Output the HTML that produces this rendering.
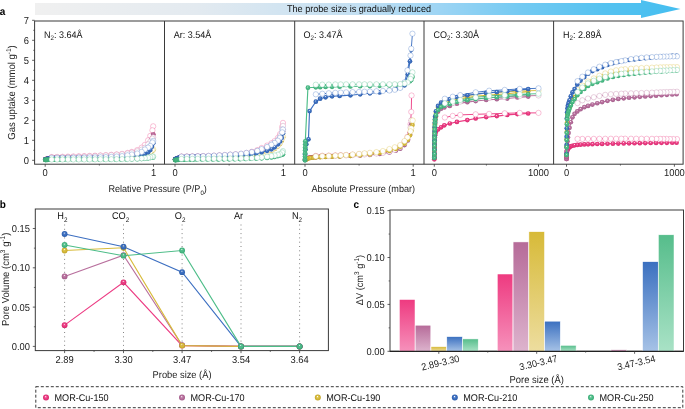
<!DOCTYPE html>
<html><head><meta charset="utf-8"><style>
html,body{margin:0;padding:0;background:#fff;width:685px;height:409px;overflow:hidden}
svg{display:block;filter:blur(0.3px)}
text{font-family:"Liberation Sans",sans-serif;text-rendering:geometricPrecision}
</style></head><body>
<svg width="685" height="409" viewBox="0 0 685 409"><defs><linearGradient id="arrowg" x1="35" y1="0" x2="681" y2="0" gradientUnits="userSpaceOnUse"><stop offset="0" stop-color="#f0f0f0"/><stop offset="0.25" stop-color="#e3eaf0"/><stop offset="0.5" stop-color="#c2dff2"/><stop offset="0.62" stop-color="#9fd5f4"/><stop offset="0.75" stop-color="#74caf2"/><stop offset="0.88" stop-color="#55c2f0"/><stop offset="1" stop-color="#44bef0"/></linearGradient><radialGradient id="sp_pink" cx="0.5" cy="0.5" r="0.5" fx="0.45" fy="0.32"><stop offset="0" stop-color="#ffffff"/><stop offset="0.3" stop-color="#ec3b83" stop-opacity="0.85"/><stop offset="0.55" stop-color="#ec3b83"/><stop offset="1" stop-color="#d42a6c"/></radialGradient><radialGradient id="sp_mauve" cx="0.5" cy="0.5" r="0.5" fx="0.45" fy="0.32"><stop offset="0" stop-color="#ffffff"/><stop offset="0.3" stop-color="#b86f9d" stop-opacity="0.85"/><stop offset="0.55" stop-color="#b86f9d"/><stop offset="1" stop-color="#a05a88"/></radialGradient><radialGradient id="sp_yellow" cx="0.5" cy="0.5" r="0.5" fx="0.45" fy="0.32"><stop offset="0" stop-color="#ffffff"/><stop offset="0.3" stop-color="#d8bb3a" stop-opacity="0.85"/><stop offset="0.55" stop-color="#d8bb3a"/><stop offset="1" stop-color="#c0a42a"/></radialGradient><radialGradient id="sp_blue" cx="0.5" cy="0.5" r="0.5" fx="0.45" fy="0.32"><stop offset="0" stop-color="#ffffff"/><stop offset="0.3" stop-color="#3c6fc1" stop-opacity="0.85"/><stop offset="0.55" stop-color="#3c6fc1"/><stop offset="1" stop-color="#2c5ca8"/></radialGradient><radialGradient id="sp_green" cx="0.5" cy="0.5" r="0.5" fx="0.45" fy="0.32"><stop offset="0" stop-color="#ffffff"/><stop offset="0.3" stop-color="#4dbd88" stop-opacity="0.85"/><stop offset="0.55" stop-color="#4dbd88"/><stop offset="1" stop-color="#3aa874"/></radialGradient><linearGradient id="bar_pink" x1="0" y1="0" x2="0" y2="1"><stop offset="0" stop-color="#ee3a80"/><stop offset="1" stop-color="#f691bb"/></linearGradient><linearGradient id="bar_mauve" x1="0" y1="0" x2="0" y2="1"><stop offset="0" stop-color="#b66b99"/><stop offset="1" stop-color="#ddb3cd"/></linearGradient><linearGradient id="bar_yellow" x1="0" y1="0" x2="0" y2="1"><stop offset="0" stop-color="#d7ba38"/><stop offset="1" stop-color="#eddd9f"/></linearGradient><linearGradient id="bar_blue" x1="0" y1="0" x2="0" y2="1"><stop offset="0" stop-color="#3b70c0"/><stop offset="1" stop-color="#a6c2e6"/></linearGradient><linearGradient id="bar_green" x1="0" y1="0" x2="0" y2="1"><stop offset="0" stop-color="#56bd8b"/><stop offset="1" stop-color="#a9e2c6"/></linearGradient></defs>
<rect x="0" y="0" width="685" height="409" fill="#fff"/>
<polygon points="35,3 641,3 641,0 680.5,9 641,18 641,15 35,15" fill="url(#arrowg)"/>
<text x="359" y="12.3" transform="translate(0,12.3) scale(1,1.07) translate(0,-12.3)" font-size="9.1" text-anchor="middle" font-family="Liberation Sans, sans-serif" fill="#111">The probe size is gradually reduced</text>
<text x="-0.2" y="14.6" transform="translate(0,14.6) scale(1,1.07) translate(0,-14.6)" font-size="10" font-weight="bold" font-family="Liberation Sans, sans-serif" fill="#000">a</text>
<text x="-0.2" y="207.9" transform="translate(0,207.9) scale(1,1.07) translate(0,-207.9)" font-size="10" font-weight="bold" font-family="Liberation Sans, sans-serif" fill="#000">b</text>
<text x="353.6" y="208.1" transform="translate(0,208.1) scale(1,1.07) translate(0,-208.1)" font-size="10" font-weight="bold" font-family="Liberation Sans, sans-serif" fill="#000">c</text>
<rect x="34.6" y="21.0" width="648.50" height="143.20" fill="none" stroke="#3a3a3a" stroke-width="1"/>
<line x1="164.5" y1="21.0" x2="164.5" y2="164.2" stroke="#3a3a3a" stroke-width="1"/>
<line x1="294.7" y1="21.0" x2="294.7" y2="164.2" stroke="#3a3a3a" stroke-width="1"/>
<line x1="424.0" y1="21.0" x2="424.0" y2="164.2" stroke="#3a3a3a" stroke-width="1"/>
<line x1="553.6" y1="21.0" x2="553.6" y2="164.2" stroke="#3a3a3a" stroke-width="1"/>
<line x1="32.1" y1="160.30" x2="34.6" y2="160.30" stroke="#3a3a3a" stroke-width="0.8"/>
<text x="29.0" y="163.70" transform="translate(0,163.70) scale(1,1.07) translate(0,-163.70)" font-size="9.4" text-anchor="end" font-family="Liberation Sans, sans-serif" fill="#222">0</text>
<line x1="33.2" y1="150.30" x2="34.6" y2="150.30" stroke="#3a3a3a" stroke-width="0.7"/>
<line x1="32.1" y1="140.30" x2="34.6" y2="140.30" stroke="#3a3a3a" stroke-width="0.8"/>
<text x="29.0" y="143.70" transform="translate(0,143.70) scale(1,1.07) translate(0,-143.70)" font-size="9.4" text-anchor="end" font-family="Liberation Sans, sans-serif" fill="#222">1</text>
<line x1="33.2" y1="130.30" x2="34.6" y2="130.30" stroke="#3a3a3a" stroke-width="0.7"/>
<line x1="32.1" y1="120.30" x2="34.6" y2="120.30" stroke="#3a3a3a" stroke-width="0.8"/>
<text x="29.0" y="123.70" transform="translate(0,123.70) scale(1,1.07) translate(0,-123.70)" font-size="9.4" text-anchor="end" font-family="Liberation Sans, sans-serif" fill="#222">2</text>
<line x1="33.2" y1="110.30" x2="34.6" y2="110.30" stroke="#3a3a3a" stroke-width="0.7"/>
<line x1="32.1" y1="100.30" x2="34.6" y2="100.30" stroke="#3a3a3a" stroke-width="0.8"/>
<text x="29.0" y="103.70" transform="translate(0,103.70) scale(1,1.07) translate(0,-103.70)" font-size="9.4" text-anchor="end" font-family="Liberation Sans, sans-serif" fill="#222">3</text>
<line x1="33.2" y1="90.30" x2="34.6" y2="90.30" stroke="#3a3a3a" stroke-width="0.7"/>
<line x1="32.1" y1="80.30" x2="34.6" y2="80.30" stroke="#3a3a3a" stroke-width="0.8"/>
<text x="29.0" y="83.70" transform="translate(0,83.70) scale(1,1.07) translate(0,-83.70)" font-size="9.4" text-anchor="end" font-family="Liberation Sans, sans-serif" fill="#222">4</text>
<line x1="33.2" y1="70.30" x2="34.6" y2="70.30" stroke="#3a3a3a" stroke-width="0.7"/>
<line x1="32.1" y1="60.30" x2="34.6" y2="60.30" stroke="#3a3a3a" stroke-width="0.8"/>
<text x="29.0" y="63.70" transform="translate(0,63.70) scale(1,1.07) translate(0,-63.70)" font-size="9.4" text-anchor="end" font-family="Liberation Sans, sans-serif" fill="#222">5</text>
<line x1="33.2" y1="50.30" x2="34.6" y2="50.30" stroke="#3a3a3a" stroke-width="0.7"/>
<line x1="32.1" y1="40.30" x2="34.6" y2="40.30" stroke="#3a3a3a" stroke-width="0.8"/>
<text x="29.0" y="43.70" transform="translate(0,43.70) scale(1,1.07) translate(0,-43.70)" font-size="9.4" text-anchor="end" font-family="Liberation Sans, sans-serif" fill="#222">6</text>
<line x1="33.2" y1="30.30" x2="34.6" y2="30.30" stroke="#3a3a3a" stroke-width="0.7"/>
<line x1="32.1" y1="20.30" x2="34.6" y2="20.30" stroke="#3a3a3a" stroke-width="0.8"/>
<text x="29.0" y="23.70" transform="translate(0,23.70) scale(1,1.07) translate(0,-23.70)" font-size="9.4" text-anchor="end" font-family="Liberation Sans, sans-serif" fill="#222">7</text>
<line x1="45.2" y1="164.2" x2="45.2" y2="166.7" stroke="#3a3a3a" stroke-width="0.8"/>
<line x1="153.5" y1="164.2" x2="153.5" y2="166.7" stroke="#3a3a3a" stroke-width="0.8"/>
<line x1="99.35" y1="164.2" x2="99.35" y2="165.6" stroke="#3a3a3a" stroke-width="0.7"/>
<text x="45.2" y="176.2" transform="translate(0,176.2) scale(1,1.07) translate(0,-176.2)" font-size="9.4" text-anchor="middle" font-family="Liberation Sans, sans-serif" fill="#222">0</text>
<text x="153.5" y="176.2" transform="translate(0,176.2) scale(1,1.07) translate(0,-176.2)" font-size="9.4" text-anchor="middle" font-family="Liberation Sans, sans-serif" fill="#222">1</text>
<line x1="175.0" y1="164.2" x2="175.0" y2="166.7" stroke="#3a3a3a" stroke-width="0.8"/>
<line x1="283.3" y1="164.2" x2="283.3" y2="166.7" stroke="#3a3a3a" stroke-width="0.8"/>
<line x1="229.15" y1="164.2" x2="229.15" y2="165.6" stroke="#3a3a3a" stroke-width="0.7"/>
<text x="175.0" y="176.2" transform="translate(0,176.2) scale(1,1.07) translate(0,-176.2)" font-size="9.4" text-anchor="middle" font-family="Liberation Sans, sans-serif" fill="#222">0</text>
<text x="283.3" y="176.2" transform="translate(0,176.2) scale(1,1.07) translate(0,-176.2)" font-size="9.4" text-anchor="middle" font-family="Liberation Sans, sans-serif" fill="#222">1</text>
<line x1="305.0" y1="164.2" x2="305.0" y2="166.7" stroke="#3a3a3a" stroke-width="0.8"/>
<line x1="413.2" y1="164.2" x2="413.2" y2="166.7" stroke="#3a3a3a" stroke-width="0.8"/>
<line x1="359.1" y1="164.2" x2="359.1" y2="165.6" stroke="#3a3a3a" stroke-width="0.7"/>
<text x="305.0" y="176.2" transform="translate(0,176.2) scale(1,1.07) translate(0,-176.2)" font-size="9.4" text-anchor="middle" font-family="Liberation Sans, sans-serif" fill="#222">0</text>
<text x="413.2" y="176.2" transform="translate(0,176.2) scale(1,1.07) translate(0,-176.2)" font-size="9.4" text-anchor="middle" font-family="Liberation Sans, sans-serif" fill="#222">1</text>
<line x1="434.3" y1="164.2" x2="434.3" y2="166.7" stroke="#3a3a3a" stroke-width="0.8"/>
<line x1="538.5" y1="164.2" x2="538.5" y2="166.7" stroke="#3a3a3a" stroke-width="0.8"/>
<line x1="486.4" y1="164.2" x2="486.4" y2="165.6" stroke="#3a3a3a" stroke-width="0.7"/>
<text x="434.3" y="176.2" transform="translate(0,176.2) scale(1,1.07) translate(0,-176.2)" font-size="9.4" text-anchor="middle" font-family="Liberation Sans, sans-serif" fill="#222">0</text>
<text x="538.5" y="176.2" transform="translate(0,176.2) scale(1,1.07) translate(0,-176.2)" font-size="9.4" text-anchor="middle" font-family="Liberation Sans, sans-serif" fill="#222">1000</text>
<line x1="566.5" y1="164.2" x2="566.5" y2="166.7" stroke="#3a3a3a" stroke-width="0.8"/>
<line x1="674.4" y1="164.2" x2="674.4" y2="166.7" stroke="#3a3a3a" stroke-width="0.8"/>
<line x1="620.45" y1="164.2" x2="620.45" y2="165.6" stroke="#3a3a3a" stroke-width="0.7"/>
<text x="566.5" y="176.2" transform="translate(0,176.2) scale(1,1.07) translate(0,-176.2)" font-size="9.4" text-anchor="middle" font-family="Liberation Sans, sans-serif" fill="#222">0</text>
<text x="674.4" y="176.2" transform="translate(0,176.2) scale(1,1.07) translate(0,-176.2)" font-size="9.4" text-anchor="middle" font-family="Liberation Sans, sans-serif" fill="#222">1000</text>
<text x="44" y="37.7" transform="translate(0,37.7) scale(1,1.07) translate(0,-37.7)" font-size="9" font-family="Liberation Sans, sans-serif" fill="#111">N<tspan font-size="6.2" dy="2.4">2</tspan><tspan dy="-2.4">: 3.64Å</tspan></text>
<text x="173.8" y="37.7" transform="translate(0,37.7) scale(1,1.07) translate(0,-37.7)" font-size="9" font-family="Liberation Sans, sans-serif" fill="#111">Ar: 3.54Å</text>
<text x="303.5" y="37.7" transform="translate(0,37.7) scale(1,1.07) translate(0,-37.7)" font-size="9" font-family="Liberation Sans, sans-serif" fill="#111">O<tspan font-size="6.2" dy="2.4">2</tspan><tspan dy="-2.4">: 3.47Å</tspan></text>
<text x="433.5" y="37.7" transform="translate(0,37.7) scale(1,1.07) translate(0,-37.7)" font-size="9" font-family="Liberation Sans, sans-serif" fill="#111">CO<tspan font-size="6.2" dy="2.4">2</tspan><tspan dy="-2.4">: 3.30Å</tspan></text>
<text x="563" y="37.7" transform="translate(0,37.7) scale(1,1.07) translate(0,-37.7)" font-size="9" font-family="Liberation Sans, sans-serif" fill="#111">H<tspan font-size="6.2" dy="2.4">2</tspan><tspan dy="-2.4">: 2.89Å</tspan></text>
<text x="108.4" y="192.3" transform="translate(0,192.3) scale(1,1.07) translate(0,-192.3)" font-size="9.1" font-family="Liberation Sans, sans-serif" fill="#222">Relative Pressure (P/P<tspan font-size="6" dy="2.5">0</tspan><tspan dy="-2.5">)</tspan></text>
<text x="311.5" y="192.3" transform="translate(0,192.3) scale(1,1.07) translate(0,-192.3)" font-size="9.1" font-family="Liberation Sans, sans-serif" fill="#222">Absolute Pressure (mbar)</text>
<text transform="translate(15.3,92.5) rotate(-90) scale(1,1.07)" font-size="9.5" text-anchor="middle" font-family="Liberation Sans, sans-serif" fill="#222">Gas uptake (mmol g<tspan font-size="6.5" dy="-3.6">-1</tspan><tspan dy="3.6">)</tspan></text>
<polyline points="45.31,159.47 45.52,159.39 45.85,159.28 46.28,159.12 46.82,158.92 47.37,158.72 48.45,158.34 49.53,158.05 50.62,157.90 52.78,157.78 54.95,157.68 57.11,157.59 60.36,157.47 63.61,157.37 66.86,157.29 72.28,157.18 77.69,157.11 83.10,157.06 88.52,157.01 93.94,156.97 99.35,156.91 104.77,156.82 110.18,156.70 115.59,156.53 121.01,156.30 126.42,155.76 131.84,154.72 137.25,153.30 141.59,151.42 144.84,149.30 148.08,145.90 150.25,141.99 151.88,138.02 153.18,134.30" fill="none" stroke="#ec3b83" stroke-width="1.15" stroke-linejoin="round"/>
<polyline points="153.18,126.30 152.42,130.30 150.25,135.90 148.08,140.30 144.84,144.90 141.59,147.70 137.25,150.10 131.84,151.90 127.51,152.95 122.09,153.90 116.68,154.44 111.26,154.83 105.85,155.17 100.43,155.45 95.02,155.69 89.60,155.89 84.19,156.08 78.77,156.26 73.36,156.44 67.94,156.61 62.53,156.77 57.11,156.93 51.70,157.07" fill="none" stroke="#ec3b83" stroke-width="0.92" stroke-linejoin="round"/>
<circle cx="45.31" cy="159.47" r="2.35" fill="url(#sp_pink)"/>
<circle cx="45.52" cy="159.39" r="2.35" fill="url(#sp_pink)"/>
<circle cx="45.85" cy="159.28" r="2.35" fill="url(#sp_pink)"/>
<circle cx="46.28" cy="159.12" r="2.35" fill="url(#sp_pink)"/>
<circle cx="46.82" cy="158.92" r="2.35" fill="url(#sp_pink)"/>
<circle cx="47.37" cy="158.72" r="2.35" fill="url(#sp_pink)"/>
<circle cx="48.45" cy="158.34" r="2.35" fill="url(#sp_pink)"/>
<circle cx="49.53" cy="158.05" r="2.35" fill="url(#sp_pink)"/>
<circle cx="50.62" cy="157.90" r="2.35" fill="url(#sp_pink)"/>
<circle cx="52.78" cy="157.78" r="2.35" fill="url(#sp_pink)"/>
<circle cx="54.95" cy="157.68" r="2.35" fill="url(#sp_pink)"/>
<circle cx="57.11" cy="157.59" r="2.35" fill="url(#sp_pink)"/>
<circle cx="60.36" cy="157.47" r="2.35" fill="url(#sp_pink)"/>
<circle cx="63.61" cy="157.37" r="2.35" fill="url(#sp_pink)"/>
<circle cx="66.86" cy="157.29" r="2.35" fill="url(#sp_pink)"/>
<circle cx="72.28" cy="157.18" r="2.35" fill="url(#sp_pink)"/>
<circle cx="77.69" cy="157.11" r="2.35" fill="url(#sp_pink)"/>
<circle cx="83.10" cy="157.06" r="2.35" fill="url(#sp_pink)"/>
<circle cx="88.52" cy="157.01" r="2.35" fill="url(#sp_pink)"/>
<circle cx="93.94" cy="156.97" r="2.35" fill="url(#sp_pink)"/>
<circle cx="99.35" cy="156.91" r="2.35" fill="url(#sp_pink)"/>
<circle cx="104.77" cy="156.82" r="2.35" fill="url(#sp_pink)"/>
<circle cx="110.18" cy="156.70" r="2.35" fill="url(#sp_pink)"/>
<circle cx="115.59" cy="156.53" r="2.35" fill="url(#sp_pink)"/>
<circle cx="121.01" cy="156.30" r="2.35" fill="url(#sp_pink)"/>
<circle cx="126.42" cy="155.76" r="2.35" fill="url(#sp_pink)"/>
<circle cx="131.84" cy="154.72" r="2.35" fill="url(#sp_pink)"/>
<circle cx="137.25" cy="153.30" r="2.35" fill="url(#sp_pink)"/>
<circle cx="141.59" cy="151.42" r="2.35" fill="url(#sp_pink)"/>
<circle cx="144.84" cy="149.30" r="2.35" fill="url(#sp_pink)"/>
<circle cx="148.08" cy="145.90" r="2.35" fill="url(#sp_pink)"/>
<circle cx="150.25" cy="141.99" r="2.35" fill="url(#sp_pink)"/>
<circle cx="151.88" cy="138.02" r="2.35" fill="url(#sp_pink)"/>
<circle cx="153.18" cy="134.30" r="2.35" fill="url(#sp_pink)"/>
<circle cx="153.18" cy="126.30" r="2.65" fill="#fff" stroke="#ec3b83" stroke-width="0.45" stroke-opacity="0.7"/>
<circle cx="152.42" cy="130.30" r="2.65" fill="#fff" stroke="#ec3b83" stroke-width="0.45" stroke-opacity="0.7"/>
<circle cx="150.25" cy="135.90" r="2.65" fill="#fff" stroke="#ec3b83" stroke-width="0.45" stroke-opacity="0.7"/>
<circle cx="148.08" cy="140.30" r="2.65" fill="#fff" stroke="#ec3b83" stroke-width="0.45" stroke-opacity="0.7"/>
<circle cx="144.84" cy="144.90" r="2.65" fill="#fff" stroke="#ec3b83" stroke-width="0.45" stroke-opacity="0.7"/>
<circle cx="141.59" cy="147.70" r="2.65" fill="#fff" stroke="#ec3b83" stroke-width="0.45" stroke-opacity="0.7"/>
<circle cx="137.25" cy="150.10" r="2.65" fill="#fff" stroke="#ec3b83" stroke-width="0.45" stroke-opacity="0.7"/>
<circle cx="131.84" cy="151.90" r="2.65" fill="#fff" stroke="#ec3b83" stroke-width="0.45" stroke-opacity="0.7"/>
<circle cx="127.51" cy="152.95" r="2.65" fill="#fff" stroke="#ec3b83" stroke-width="0.45" stroke-opacity="0.7"/>
<circle cx="122.09" cy="153.90" r="2.65" fill="#fff" stroke="#ec3b83" stroke-width="0.45" stroke-opacity="0.7"/>
<circle cx="116.68" cy="154.44" r="2.65" fill="#fff" stroke="#ec3b83" stroke-width="0.45" stroke-opacity="0.7"/>
<circle cx="111.26" cy="154.83" r="2.65" fill="#fff" stroke="#ec3b83" stroke-width="0.45" stroke-opacity="0.7"/>
<circle cx="105.85" cy="155.17" r="2.65" fill="#fff" stroke="#ec3b83" stroke-width="0.45" stroke-opacity="0.7"/>
<circle cx="100.43" cy="155.45" r="2.65" fill="#fff" stroke="#ec3b83" stroke-width="0.45" stroke-opacity="0.7"/>
<circle cx="95.02" cy="155.69" r="2.65" fill="#fff" stroke="#ec3b83" stroke-width="0.45" stroke-opacity="0.7"/>
<circle cx="89.60" cy="155.89" r="2.65" fill="#fff" stroke="#ec3b83" stroke-width="0.45" stroke-opacity="0.7"/>
<circle cx="84.19" cy="156.08" r="2.65" fill="#fff" stroke="#ec3b83" stroke-width="0.45" stroke-opacity="0.7"/>
<circle cx="78.77" cy="156.26" r="2.65" fill="#fff" stroke="#ec3b83" stroke-width="0.45" stroke-opacity="0.7"/>
<circle cx="73.36" cy="156.44" r="2.65" fill="#fff" stroke="#ec3b83" stroke-width="0.45" stroke-opacity="0.7"/>
<circle cx="67.94" cy="156.61" r="2.65" fill="#fff" stroke="#ec3b83" stroke-width="0.45" stroke-opacity="0.7"/>
<circle cx="62.53" cy="156.77" r="2.65" fill="#fff" stroke="#ec3b83" stroke-width="0.45" stroke-opacity="0.7"/>
<circle cx="57.11" cy="156.93" r="2.65" fill="#fff" stroke="#ec3b83" stroke-width="0.45" stroke-opacity="0.7"/>
<circle cx="51.70" cy="157.07" r="2.65" fill="#fff" stroke="#ec3b83" stroke-width="0.45" stroke-opacity="0.7"/>
<polyline points="45.31,159.47 45.52,159.41 45.85,159.31 46.28,159.17 46.82,159.00 47.37,158.82 48.45,158.49 49.53,158.24 50.62,158.10 52.78,157.99 54.95,157.88 57.11,157.79 60.36,157.67 63.61,157.58 66.86,157.49 72.28,157.39 77.69,157.31 83.10,157.26 88.52,157.21 93.94,157.17 99.35,157.10 104.77,157.02 110.18,156.90 115.59,156.73 121.01,156.50 126.42,155.99 131.84,155.02 137.25,153.70 141.59,151.92 144.84,149.90 148.08,146.70 150.25,142.76 151.88,138.62 153.18,134.70" fill="none" stroke="#b86f9d" stroke-width="1.15" stroke-linejoin="round"/>
<polyline points="153.18,137.30 152.42,138.61 150.25,141.74 148.08,144.30 144.84,147.90 141.59,149.74 137.25,151.30 131.84,152.65 127.51,153.49 122.09,154.21 116.68,154.64 111.26,155.03 105.85,155.40 100.43,155.74 95.02,156.05 89.60,156.33 84.19,156.57 78.77,156.78 73.36,156.96 67.94,157.10 62.53,157.20 57.11,157.27 51.70,157.30" fill="none" stroke="#b86f9d" stroke-width="0.92" stroke-linejoin="round"/>
<circle cx="45.31" cy="159.47" r="2.35" fill="url(#sp_mauve)"/>
<circle cx="45.52" cy="159.41" r="2.35" fill="url(#sp_mauve)"/>
<circle cx="45.85" cy="159.31" r="2.35" fill="url(#sp_mauve)"/>
<circle cx="46.28" cy="159.17" r="2.35" fill="url(#sp_mauve)"/>
<circle cx="46.82" cy="159.00" r="2.35" fill="url(#sp_mauve)"/>
<circle cx="47.37" cy="158.82" r="2.35" fill="url(#sp_mauve)"/>
<circle cx="48.45" cy="158.49" r="2.35" fill="url(#sp_mauve)"/>
<circle cx="49.53" cy="158.24" r="2.35" fill="url(#sp_mauve)"/>
<circle cx="50.62" cy="158.10" r="2.35" fill="url(#sp_mauve)"/>
<circle cx="52.78" cy="157.99" r="2.35" fill="url(#sp_mauve)"/>
<circle cx="54.95" cy="157.88" r="2.35" fill="url(#sp_mauve)"/>
<circle cx="57.11" cy="157.79" r="2.35" fill="url(#sp_mauve)"/>
<circle cx="60.36" cy="157.67" r="2.35" fill="url(#sp_mauve)"/>
<circle cx="63.61" cy="157.58" r="2.35" fill="url(#sp_mauve)"/>
<circle cx="66.86" cy="157.49" r="2.35" fill="url(#sp_mauve)"/>
<circle cx="72.28" cy="157.39" r="2.35" fill="url(#sp_mauve)"/>
<circle cx="77.69" cy="157.31" r="2.35" fill="url(#sp_mauve)"/>
<circle cx="83.10" cy="157.26" r="2.35" fill="url(#sp_mauve)"/>
<circle cx="88.52" cy="157.21" r="2.35" fill="url(#sp_mauve)"/>
<circle cx="93.94" cy="157.17" r="2.35" fill="url(#sp_mauve)"/>
<circle cx="99.35" cy="157.10" r="2.35" fill="url(#sp_mauve)"/>
<circle cx="104.77" cy="157.02" r="2.35" fill="url(#sp_mauve)"/>
<circle cx="110.18" cy="156.90" r="2.35" fill="url(#sp_mauve)"/>
<circle cx="115.59" cy="156.73" r="2.35" fill="url(#sp_mauve)"/>
<circle cx="121.01" cy="156.50" r="2.35" fill="url(#sp_mauve)"/>
<circle cx="126.42" cy="155.99" r="2.35" fill="url(#sp_mauve)"/>
<circle cx="131.84" cy="155.02" r="2.35" fill="url(#sp_mauve)"/>
<circle cx="137.25" cy="153.70" r="2.35" fill="url(#sp_mauve)"/>
<circle cx="141.59" cy="151.92" r="2.35" fill="url(#sp_mauve)"/>
<circle cx="144.84" cy="149.90" r="2.35" fill="url(#sp_mauve)"/>
<circle cx="148.08" cy="146.70" r="2.35" fill="url(#sp_mauve)"/>
<circle cx="150.25" cy="142.76" r="2.35" fill="url(#sp_mauve)"/>
<circle cx="151.88" cy="138.62" r="2.35" fill="url(#sp_mauve)"/>
<circle cx="153.18" cy="134.70" r="2.35" fill="url(#sp_mauve)"/>
<circle cx="153.18" cy="137.30" r="2.65" fill="#fff" stroke="#b86f9d" stroke-width="0.45" stroke-opacity="0.7"/>
<circle cx="152.42" cy="138.61" r="2.65" fill="#fff" stroke="#b86f9d" stroke-width="0.45" stroke-opacity="0.7"/>
<circle cx="150.25" cy="141.74" r="2.65" fill="#fff" stroke="#b86f9d" stroke-width="0.45" stroke-opacity="0.7"/>
<circle cx="148.08" cy="144.30" r="2.65" fill="#fff" stroke="#b86f9d" stroke-width="0.45" stroke-opacity="0.7"/>
<circle cx="144.84" cy="147.90" r="2.65" fill="#fff" stroke="#b86f9d" stroke-width="0.45" stroke-opacity="0.7"/>
<circle cx="141.59" cy="149.74" r="2.65" fill="#fff" stroke="#b86f9d" stroke-width="0.45" stroke-opacity="0.7"/>
<circle cx="137.25" cy="151.30" r="2.65" fill="#fff" stroke="#b86f9d" stroke-width="0.45" stroke-opacity="0.7"/>
<circle cx="131.84" cy="152.65" r="2.65" fill="#fff" stroke="#b86f9d" stroke-width="0.45" stroke-opacity="0.7"/>
<circle cx="127.51" cy="153.49" r="2.65" fill="#fff" stroke="#b86f9d" stroke-width="0.45" stroke-opacity="0.7"/>
<circle cx="122.09" cy="154.21" r="2.65" fill="#fff" stroke="#b86f9d" stroke-width="0.45" stroke-opacity="0.7"/>
<circle cx="116.68" cy="154.64" r="2.65" fill="#fff" stroke="#b86f9d" stroke-width="0.45" stroke-opacity="0.7"/>
<circle cx="111.26" cy="155.03" r="2.65" fill="#fff" stroke="#b86f9d" stroke-width="0.45" stroke-opacity="0.7"/>
<circle cx="105.85" cy="155.40" r="2.65" fill="#fff" stroke="#b86f9d" stroke-width="0.45" stroke-opacity="0.7"/>
<circle cx="100.43" cy="155.74" r="2.65" fill="#fff" stroke="#b86f9d" stroke-width="0.45" stroke-opacity="0.7"/>
<circle cx="95.02" cy="156.05" r="2.65" fill="#fff" stroke="#b86f9d" stroke-width="0.45" stroke-opacity="0.7"/>
<circle cx="89.60" cy="156.33" r="2.65" fill="#fff" stroke="#b86f9d" stroke-width="0.45" stroke-opacity="0.7"/>
<circle cx="84.19" cy="156.57" r="2.65" fill="#fff" stroke="#b86f9d" stroke-width="0.45" stroke-opacity="0.7"/>
<circle cx="78.77" cy="156.78" r="2.65" fill="#fff" stroke="#b86f9d" stroke-width="0.45" stroke-opacity="0.7"/>
<circle cx="73.36" cy="156.96" r="2.65" fill="#fff" stroke="#b86f9d" stroke-width="0.45" stroke-opacity="0.7"/>
<circle cx="67.94" cy="157.10" r="2.65" fill="#fff" stroke="#b86f9d" stroke-width="0.45" stroke-opacity="0.7"/>
<circle cx="62.53" cy="157.20" r="2.65" fill="#fff" stroke="#b86f9d" stroke-width="0.45" stroke-opacity="0.7"/>
<circle cx="57.11" cy="157.27" r="2.65" fill="#fff" stroke="#b86f9d" stroke-width="0.45" stroke-opacity="0.7"/>
<circle cx="51.70" cy="157.30" r="2.65" fill="#fff" stroke="#b86f9d" stroke-width="0.45" stroke-opacity="0.7"/>
<polyline points="45.31,159.68 45.52,159.65 45.85,159.59 46.28,159.51 46.82,159.41 47.37,159.31 48.45,159.12 49.53,158.97 50.62,158.90 52.78,158.86 54.95,158.82 57.11,158.78 60.36,158.73 63.61,158.69 66.86,158.66 72.28,158.62 77.69,158.59 83.10,158.57 88.52,158.56 93.94,158.54 99.35,158.52 104.77,158.49 110.18,158.45 115.59,158.38 121.01,158.30 126.42,158.14 131.84,157.84 137.25,157.37 141.59,156.85 144.84,156.08 148.08,154.23 150.25,152.62 151.88,151.33 153.18,150.30" fill="none" stroke="#d8bb3a" stroke-width="1.15" stroke-linejoin="round"/>
<polyline points="153.18,149.30 152.42,149.91 150.25,151.67 148.08,153.31 144.84,155.22 141.59,156.09 137.25,156.73 131.84,157.31 127.51,157.63 122.09,157.87 116.68,158.00 111.26,158.11 105.85,158.21 100.43,158.31 95.02,158.39 89.60,158.46 84.19,158.52 78.77,158.58 73.36,158.62 67.94,158.65 62.53,158.68 57.11,158.69 51.70,158.70" fill="none" stroke="#d8bb3a" stroke-width="0.92" stroke-linejoin="round"/>
<circle cx="45.31" cy="159.68" r="2.35" fill="url(#sp_yellow)"/>
<circle cx="45.52" cy="159.65" r="2.35" fill="url(#sp_yellow)"/>
<circle cx="45.85" cy="159.59" r="2.35" fill="url(#sp_yellow)"/>
<circle cx="46.28" cy="159.51" r="2.35" fill="url(#sp_yellow)"/>
<circle cx="46.82" cy="159.41" r="2.35" fill="url(#sp_yellow)"/>
<circle cx="47.37" cy="159.31" r="2.35" fill="url(#sp_yellow)"/>
<circle cx="48.45" cy="159.12" r="2.35" fill="url(#sp_yellow)"/>
<circle cx="49.53" cy="158.97" r="2.35" fill="url(#sp_yellow)"/>
<circle cx="50.62" cy="158.90" r="2.35" fill="url(#sp_yellow)"/>
<circle cx="52.78" cy="158.86" r="2.35" fill="url(#sp_yellow)"/>
<circle cx="54.95" cy="158.82" r="2.35" fill="url(#sp_yellow)"/>
<circle cx="57.11" cy="158.78" r="2.35" fill="url(#sp_yellow)"/>
<circle cx="60.36" cy="158.73" r="2.35" fill="url(#sp_yellow)"/>
<circle cx="63.61" cy="158.69" r="2.35" fill="url(#sp_yellow)"/>
<circle cx="66.86" cy="158.66" r="2.35" fill="url(#sp_yellow)"/>
<circle cx="72.28" cy="158.62" r="2.35" fill="url(#sp_yellow)"/>
<circle cx="77.69" cy="158.59" r="2.35" fill="url(#sp_yellow)"/>
<circle cx="83.10" cy="158.57" r="2.35" fill="url(#sp_yellow)"/>
<circle cx="88.52" cy="158.56" r="2.35" fill="url(#sp_yellow)"/>
<circle cx="93.94" cy="158.54" r="2.35" fill="url(#sp_yellow)"/>
<circle cx="99.35" cy="158.52" r="2.35" fill="url(#sp_yellow)"/>
<circle cx="104.77" cy="158.49" r="2.35" fill="url(#sp_yellow)"/>
<circle cx="110.18" cy="158.45" r="2.35" fill="url(#sp_yellow)"/>
<circle cx="115.59" cy="158.38" r="2.35" fill="url(#sp_yellow)"/>
<circle cx="121.01" cy="158.30" r="2.35" fill="url(#sp_yellow)"/>
<circle cx="126.42" cy="158.14" r="2.35" fill="url(#sp_yellow)"/>
<circle cx="131.84" cy="157.84" r="2.35" fill="url(#sp_yellow)"/>
<circle cx="137.25" cy="157.37" r="2.35" fill="url(#sp_yellow)"/>
<circle cx="141.59" cy="156.85" r="2.35" fill="url(#sp_yellow)"/>
<circle cx="144.84" cy="156.08" r="2.35" fill="url(#sp_yellow)"/>
<circle cx="148.08" cy="154.23" r="2.35" fill="url(#sp_yellow)"/>
<circle cx="150.25" cy="152.62" r="2.35" fill="url(#sp_yellow)"/>
<circle cx="151.88" cy="151.33" r="2.35" fill="url(#sp_yellow)"/>
<circle cx="153.18" cy="150.30" r="2.35" fill="url(#sp_yellow)"/>
<circle cx="153.18" cy="149.30" r="2.65" fill="#fff" stroke="#d8bb3a" stroke-width="0.45" stroke-opacity="0.7"/>
<circle cx="152.42" cy="149.91" r="2.65" fill="#fff" stroke="#d8bb3a" stroke-width="0.45" stroke-opacity="0.7"/>
<circle cx="150.25" cy="151.67" r="2.65" fill="#fff" stroke="#d8bb3a" stroke-width="0.45" stroke-opacity="0.7"/>
<circle cx="148.08" cy="153.31" r="2.65" fill="#fff" stroke="#d8bb3a" stroke-width="0.45" stroke-opacity="0.7"/>
<circle cx="144.84" cy="155.22" r="2.65" fill="#fff" stroke="#d8bb3a" stroke-width="0.45" stroke-opacity="0.7"/>
<circle cx="141.59" cy="156.09" r="2.65" fill="#fff" stroke="#d8bb3a" stroke-width="0.45" stroke-opacity="0.7"/>
<circle cx="137.25" cy="156.73" r="2.65" fill="#fff" stroke="#d8bb3a" stroke-width="0.45" stroke-opacity="0.7"/>
<circle cx="131.84" cy="157.31" r="2.65" fill="#fff" stroke="#d8bb3a" stroke-width="0.45" stroke-opacity="0.7"/>
<circle cx="127.51" cy="157.63" r="2.65" fill="#fff" stroke="#d8bb3a" stroke-width="0.45" stroke-opacity="0.7"/>
<circle cx="122.09" cy="157.87" r="2.65" fill="#fff" stroke="#d8bb3a" stroke-width="0.45" stroke-opacity="0.7"/>
<circle cx="116.68" cy="158.00" r="2.65" fill="#fff" stroke="#d8bb3a" stroke-width="0.45" stroke-opacity="0.7"/>
<circle cx="111.26" cy="158.11" r="2.65" fill="#fff" stroke="#d8bb3a" stroke-width="0.45" stroke-opacity="0.7"/>
<circle cx="105.85" cy="158.21" r="2.65" fill="#fff" stroke="#d8bb3a" stroke-width="0.45" stroke-opacity="0.7"/>
<circle cx="100.43" cy="158.31" r="2.65" fill="#fff" stroke="#d8bb3a" stroke-width="0.45" stroke-opacity="0.7"/>
<circle cx="95.02" cy="158.39" r="2.65" fill="#fff" stroke="#d8bb3a" stroke-width="0.45" stroke-opacity="0.7"/>
<circle cx="89.60" cy="158.46" r="2.65" fill="#fff" stroke="#d8bb3a" stroke-width="0.45" stroke-opacity="0.7"/>
<circle cx="84.19" cy="158.52" r="2.65" fill="#fff" stroke="#d8bb3a" stroke-width="0.45" stroke-opacity="0.7"/>
<circle cx="78.77" cy="158.58" r="2.65" fill="#fff" stroke="#d8bb3a" stroke-width="0.45" stroke-opacity="0.7"/>
<circle cx="73.36" cy="158.62" r="2.65" fill="#fff" stroke="#d8bb3a" stroke-width="0.45" stroke-opacity="0.7"/>
<circle cx="67.94" cy="158.65" r="2.65" fill="#fff" stroke="#d8bb3a" stroke-width="0.45" stroke-opacity="0.7"/>
<circle cx="62.53" cy="158.68" r="2.65" fill="#fff" stroke="#d8bb3a" stroke-width="0.45" stroke-opacity="0.7"/>
<circle cx="57.11" cy="158.69" r="2.65" fill="#fff" stroke="#d8bb3a" stroke-width="0.45" stroke-opacity="0.7"/>
<circle cx="51.70" cy="158.70" r="2.65" fill="#fff" stroke="#d8bb3a" stroke-width="0.45" stroke-opacity="0.7"/>
<polyline points="45.31,159.47 45.52,159.41 45.85,159.33 46.28,159.20 46.82,159.05 47.37,158.90 48.45,158.62 49.53,158.40 50.62,158.30 52.78,158.23 54.95,158.18 57.11,158.13 60.36,158.08 63.61,158.04 66.86,158.01 72.28,157.96 77.69,157.90 83.10,157.83 88.52,157.77 93.94,157.72 99.35,157.67 104.77,157.61 110.18,157.53 115.59,157.43 121.01,157.30 126.42,157.00 131.84,156.50 137.25,155.78 141.59,154.90 144.84,153.92 148.08,152.30 150.25,149.90 151.88,146.75 153.18,143.30" fill="none" stroke="#3c6fc1" stroke-width="1.15" stroke-linejoin="round"/>
<polyline points="153.18,140.90 152.42,142.45 150.25,145.90 148.08,147.58 144.84,149.50 141.59,151.90 137.25,153.50 131.84,154.50 127.51,155.30 122.09,156.10 116.68,156.52 111.26,156.85 105.85,157.10 100.43,157.28 95.02,157.39 89.60,157.50 84.19,157.59 78.77,157.68 73.36,157.75 67.94,157.81 62.53,157.86 57.11,157.89 51.70,157.90" fill="none" stroke="#3c6fc1" stroke-width="0.92" stroke-linejoin="round"/>
<circle cx="45.31" cy="159.47" r="2.35" fill="url(#sp_blue)"/>
<circle cx="45.52" cy="159.41" r="2.35" fill="url(#sp_blue)"/>
<circle cx="45.85" cy="159.33" r="2.35" fill="url(#sp_blue)"/>
<circle cx="46.28" cy="159.20" r="2.35" fill="url(#sp_blue)"/>
<circle cx="46.82" cy="159.05" r="2.35" fill="url(#sp_blue)"/>
<circle cx="47.37" cy="158.90" r="2.35" fill="url(#sp_blue)"/>
<circle cx="48.45" cy="158.62" r="2.35" fill="url(#sp_blue)"/>
<circle cx="49.53" cy="158.40" r="2.35" fill="url(#sp_blue)"/>
<circle cx="50.62" cy="158.30" r="2.35" fill="url(#sp_blue)"/>
<circle cx="52.78" cy="158.23" r="2.35" fill="url(#sp_blue)"/>
<circle cx="54.95" cy="158.18" r="2.35" fill="url(#sp_blue)"/>
<circle cx="57.11" cy="158.13" r="2.35" fill="url(#sp_blue)"/>
<circle cx="60.36" cy="158.08" r="2.35" fill="url(#sp_blue)"/>
<circle cx="63.61" cy="158.04" r="2.35" fill="url(#sp_blue)"/>
<circle cx="66.86" cy="158.01" r="2.35" fill="url(#sp_blue)"/>
<circle cx="72.28" cy="157.96" r="2.35" fill="url(#sp_blue)"/>
<circle cx="77.69" cy="157.90" r="2.35" fill="url(#sp_blue)"/>
<circle cx="83.10" cy="157.83" r="2.35" fill="url(#sp_blue)"/>
<circle cx="88.52" cy="157.77" r="2.35" fill="url(#sp_blue)"/>
<circle cx="93.94" cy="157.72" r="2.35" fill="url(#sp_blue)"/>
<circle cx="99.35" cy="157.67" r="2.35" fill="url(#sp_blue)"/>
<circle cx="104.77" cy="157.61" r="2.35" fill="url(#sp_blue)"/>
<circle cx="110.18" cy="157.53" r="2.35" fill="url(#sp_blue)"/>
<circle cx="115.59" cy="157.43" r="2.35" fill="url(#sp_blue)"/>
<circle cx="121.01" cy="157.30" r="2.35" fill="url(#sp_blue)"/>
<circle cx="126.42" cy="157.00" r="2.35" fill="url(#sp_blue)"/>
<circle cx="131.84" cy="156.50" r="2.35" fill="url(#sp_blue)"/>
<circle cx="137.25" cy="155.78" r="2.35" fill="url(#sp_blue)"/>
<circle cx="141.59" cy="154.90" r="2.35" fill="url(#sp_blue)"/>
<circle cx="144.84" cy="153.92" r="2.35" fill="url(#sp_blue)"/>
<circle cx="148.08" cy="152.30" r="2.35" fill="url(#sp_blue)"/>
<circle cx="150.25" cy="149.90" r="2.35" fill="url(#sp_blue)"/>
<circle cx="151.88" cy="146.75" r="2.35" fill="url(#sp_blue)"/>
<circle cx="153.18" cy="143.30" r="2.35" fill="url(#sp_blue)"/>
<circle cx="153.18" cy="140.90" r="2.65" fill="#fff" stroke="#3c6fc1" stroke-width="0.45" stroke-opacity="0.7"/>
<circle cx="152.42" cy="142.45" r="2.65" fill="#fff" stroke="#3c6fc1" stroke-width="0.45" stroke-opacity="0.7"/>
<circle cx="150.25" cy="145.90" r="2.65" fill="#fff" stroke="#3c6fc1" stroke-width="0.45" stroke-opacity="0.7"/>
<circle cx="148.08" cy="147.58" r="2.65" fill="#fff" stroke="#3c6fc1" stroke-width="0.45" stroke-opacity="0.7"/>
<circle cx="144.84" cy="149.50" r="2.65" fill="#fff" stroke="#3c6fc1" stroke-width="0.45" stroke-opacity="0.7"/>
<circle cx="141.59" cy="151.90" r="2.65" fill="#fff" stroke="#3c6fc1" stroke-width="0.45" stroke-opacity="0.7"/>
<circle cx="137.25" cy="153.50" r="2.65" fill="#fff" stroke="#3c6fc1" stroke-width="0.45" stroke-opacity="0.7"/>
<circle cx="131.84" cy="154.50" r="2.65" fill="#fff" stroke="#3c6fc1" stroke-width="0.45" stroke-opacity="0.7"/>
<circle cx="127.51" cy="155.30" r="2.65" fill="#fff" stroke="#3c6fc1" stroke-width="0.45" stroke-opacity="0.7"/>
<circle cx="122.09" cy="156.10" r="2.65" fill="#fff" stroke="#3c6fc1" stroke-width="0.45" stroke-opacity="0.7"/>
<circle cx="116.68" cy="156.52" r="2.65" fill="#fff" stroke="#3c6fc1" stroke-width="0.45" stroke-opacity="0.7"/>
<circle cx="111.26" cy="156.85" r="2.65" fill="#fff" stroke="#3c6fc1" stroke-width="0.45" stroke-opacity="0.7"/>
<circle cx="105.85" cy="157.10" r="2.65" fill="#fff" stroke="#3c6fc1" stroke-width="0.45" stroke-opacity="0.7"/>
<circle cx="100.43" cy="157.28" r="2.65" fill="#fff" stroke="#3c6fc1" stroke-width="0.45" stroke-opacity="0.7"/>
<circle cx="95.02" cy="157.39" r="2.65" fill="#fff" stroke="#3c6fc1" stroke-width="0.45" stroke-opacity="0.7"/>
<circle cx="89.60" cy="157.50" r="2.65" fill="#fff" stroke="#3c6fc1" stroke-width="0.45" stroke-opacity="0.7"/>
<circle cx="84.19" cy="157.59" r="2.65" fill="#fff" stroke="#3c6fc1" stroke-width="0.45" stroke-opacity="0.7"/>
<circle cx="78.77" cy="157.68" r="2.65" fill="#fff" stroke="#3c6fc1" stroke-width="0.45" stroke-opacity="0.7"/>
<circle cx="73.36" cy="157.75" r="2.65" fill="#fff" stroke="#3c6fc1" stroke-width="0.45" stroke-opacity="0.7"/>
<circle cx="67.94" cy="157.81" r="2.65" fill="#fff" stroke="#3c6fc1" stroke-width="0.45" stroke-opacity="0.7"/>
<circle cx="62.53" cy="157.86" r="2.65" fill="#fff" stroke="#3c6fc1" stroke-width="0.45" stroke-opacity="0.7"/>
<circle cx="57.11" cy="157.89" r="2.65" fill="#fff" stroke="#3c6fc1" stroke-width="0.45" stroke-opacity="0.7"/>
<circle cx="51.70" cy="157.90" r="2.65" fill="#fff" stroke="#3c6fc1" stroke-width="0.45" stroke-opacity="0.7"/>
<polyline points="45.31,159.90 45.52,159.89 45.85,159.87 46.28,159.85 46.82,159.83 47.37,159.80 48.45,159.76 49.53,159.72 50.62,159.70 52.78,159.69 54.95,159.67 57.11,159.66 60.36,159.65 63.61,159.63 66.86,159.62 72.28,159.61 77.69,159.60 83.10,159.59 88.52,159.59 93.94,159.58 99.35,159.58 104.77,159.56 110.18,159.55 115.59,159.53 121.01,159.50 126.42,159.44 131.84,159.32 137.25,159.14 141.59,158.95 144.84,158.74 148.08,158.33 150.25,157.99 151.88,157.72 153.18,157.50" fill="none" stroke="#4dbd88" stroke-width="1.15" stroke-linejoin="round"/>
<polyline points="153.18,156.50 152.42,156.66 150.25,157.13 148.08,157.57 144.84,158.09 141.59,158.37 137.25,158.61 131.84,158.85 127.51,158.98 122.09,159.09 116.68,159.15 111.26,159.20 105.85,159.25 100.43,159.30 95.02,159.34 89.60,159.38 84.19,159.41 78.77,159.44 73.36,159.46 67.94,159.48 62.53,159.49 57.11,159.50 51.70,159.50" fill="none" stroke="#4dbd88" stroke-width="0.92" stroke-linejoin="round"/>
<circle cx="45.31" cy="159.90" r="2.35" fill="url(#sp_green)"/>
<circle cx="45.52" cy="159.89" r="2.35" fill="url(#sp_green)"/>
<circle cx="45.85" cy="159.87" r="2.35" fill="url(#sp_green)"/>
<circle cx="46.28" cy="159.85" r="2.35" fill="url(#sp_green)"/>
<circle cx="46.82" cy="159.83" r="2.35" fill="url(#sp_green)"/>
<circle cx="47.37" cy="159.80" r="2.35" fill="url(#sp_green)"/>
<circle cx="48.45" cy="159.76" r="2.35" fill="url(#sp_green)"/>
<circle cx="49.53" cy="159.72" r="2.35" fill="url(#sp_green)"/>
<circle cx="50.62" cy="159.70" r="2.35" fill="url(#sp_green)"/>
<circle cx="52.78" cy="159.69" r="2.35" fill="url(#sp_green)"/>
<circle cx="54.95" cy="159.67" r="2.35" fill="url(#sp_green)"/>
<circle cx="57.11" cy="159.66" r="2.35" fill="url(#sp_green)"/>
<circle cx="60.36" cy="159.65" r="2.35" fill="url(#sp_green)"/>
<circle cx="63.61" cy="159.63" r="2.35" fill="url(#sp_green)"/>
<circle cx="66.86" cy="159.62" r="2.35" fill="url(#sp_green)"/>
<circle cx="72.28" cy="159.61" r="2.35" fill="url(#sp_green)"/>
<circle cx="77.69" cy="159.60" r="2.35" fill="url(#sp_green)"/>
<circle cx="83.10" cy="159.59" r="2.35" fill="url(#sp_green)"/>
<circle cx="88.52" cy="159.59" r="2.35" fill="url(#sp_green)"/>
<circle cx="93.94" cy="159.58" r="2.35" fill="url(#sp_green)"/>
<circle cx="99.35" cy="159.58" r="2.35" fill="url(#sp_green)"/>
<circle cx="104.77" cy="159.56" r="2.35" fill="url(#sp_green)"/>
<circle cx="110.18" cy="159.55" r="2.35" fill="url(#sp_green)"/>
<circle cx="115.59" cy="159.53" r="2.35" fill="url(#sp_green)"/>
<circle cx="121.01" cy="159.50" r="2.35" fill="url(#sp_green)"/>
<circle cx="126.42" cy="159.44" r="2.35" fill="url(#sp_green)"/>
<circle cx="131.84" cy="159.32" r="2.35" fill="url(#sp_green)"/>
<circle cx="137.25" cy="159.14" r="2.35" fill="url(#sp_green)"/>
<circle cx="141.59" cy="158.95" r="2.35" fill="url(#sp_green)"/>
<circle cx="144.84" cy="158.74" r="2.35" fill="url(#sp_green)"/>
<circle cx="148.08" cy="158.33" r="2.35" fill="url(#sp_green)"/>
<circle cx="150.25" cy="157.99" r="2.35" fill="url(#sp_green)"/>
<circle cx="151.88" cy="157.72" r="2.35" fill="url(#sp_green)"/>
<circle cx="153.18" cy="157.50" r="2.35" fill="url(#sp_green)"/>
<circle cx="153.18" cy="156.50" r="2.65" fill="#fff" stroke="#4dbd88" stroke-width="0.45" stroke-opacity="0.7"/>
<circle cx="152.42" cy="156.66" r="2.65" fill="#fff" stroke="#4dbd88" stroke-width="0.45" stroke-opacity="0.7"/>
<circle cx="150.25" cy="157.13" r="2.65" fill="#fff" stroke="#4dbd88" stroke-width="0.45" stroke-opacity="0.7"/>
<circle cx="148.08" cy="157.57" r="2.65" fill="#fff" stroke="#4dbd88" stroke-width="0.45" stroke-opacity="0.7"/>
<circle cx="144.84" cy="158.09" r="2.65" fill="#fff" stroke="#4dbd88" stroke-width="0.45" stroke-opacity="0.7"/>
<circle cx="141.59" cy="158.37" r="2.65" fill="#fff" stroke="#4dbd88" stroke-width="0.45" stroke-opacity="0.7"/>
<circle cx="137.25" cy="158.61" r="2.65" fill="#fff" stroke="#4dbd88" stroke-width="0.45" stroke-opacity="0.7"/>
<circle cx="131.84" cy="158.85" r="2.65" fill="#fff" stroke="#4dbd88" stroke-width="0.45" stroke-opacity="0.7"/>
<circle cx="127.51" cy="158.98" r="2.65" fill="#fff" stroke="#4dbd88" stroke-width="0.45" stroke-opacity="0.7"/>
<circle cx="122.09" cy="159.09" r="2.65" fill="#fff" stroke="#4dbd88" stroke-width="0.45" stroke-opacity="0.7"/>
<circle cx="116.68" cy="159.15" r="2.65" fill="#fff" stroke="#4dbd88" stroke-width="0.45" stroke-opacity="0.7"/>
<circle cx="111.26" cy="159.20" r="2.65" fill="#fff" stroke="#4dbd88" stroke-width="0.45" stroke-opacity="0.7"/>
<circle cx="105.85" cy="159.25" r="2.65" fill="#fff" stroke="#4dbd88" stroke-width="0.45" stroke-opacity="0.7"/>
<circle cx="100.43" cy="159.30" r="2.65" fill="#fff" stroke="#4dbd88" stroke-width="0.45" stroke-opacity="0.7"/>
<circle cx="95.02" cy="159.34" r="2.65" fill="#fff" stroke="#4dbd88" stroke-width="0.45" stroke-opacity="0.7"/>
<circle cx="89.60" cy="159.38" r="2.65" fill="#fff" stroke="#4dbd88" stroke-width="0.45" stroke-opacity="0.7"/>
<circle cx="84.19" cy="159.41" r="2.65" fill="#fff" stroke="#4dbd88" stroke-width="0.45" stroke-opacity="0.7"/>
<circle cx="78.77" cy="159.44" r="2.65" fill="#fff" stroke="#4dbd88" stroke-width="0.45" stroke-opacity="0.7"/>
<circle cx="73.36" cy="159.46" r="2.65" fill="#fff" stroke="#4dbd88" stroke-width="0.45" stroke-opacity="0.7"/>
<circle cx="67.94" cy="159.48" r="2.65" fill="#fff" stroke="#4dbd88" stroke-width="0.45" stroke-opacity="0.7"/>
<circle cx="62.53" cy="159.49" r="2.65" fill="#fff" stroke="#4dbd88" stroke-width="0.45" stroke-opacity="0.7"/>
<circle cx="57.11" cy="159.50" r="2.65" fill="#fff" stroke="#4dbd88" stroke-width="0.45" stroke-opacity="0.7"/>
<circle cx="51.70" cy="159.50" r="2.65" fill="#fff" stroke="#4dbd88" stroke-width="0.45" stroke-opacity="0.7"/>
<polyline points="175.11,159.46 175.32,159.37 175.65,159.23 176.08,159.03 176.62,158.78 177.17,158.53 178.25,158.06 179.33,157.69 180.41,157.50 182.58,157.34 184.75,157.19 186.91,157.06 190.16,156.89 193.41,156.76 196.66,156.65 202.07,156.51 207.49,156.41 212.91,156.33 218.32,156.25 223.74,156.14 229.15,156.00 234.56,155.79 239.98,155.50 245.40,154.99 250.81,154.18 256.23,153.13 261.64,151.90 267.06,150.27 271.39,148.30 274.64,145.90 277.88,142.30 280.05,138.78 281.68,134.65 282.98,129.30" fill="none" stroke="#ec3b83" stroke-width="1.15" stroke-linejoin="round"/>
<polyline points="282.98,122.90 282.22,126.90 280.05,134.12 277.88,137.90 274.64,141.10 271.39,143.30 267.06,145.57 261.64,148.02 257.31,150.11 251.89,151.78 246.48,153.00 241.06,153.80 235.65,154.24 230.23,154.64 224.82,155.01 219.40,155.34 213.99,155.63 208.57,155.88 203.16,156.09 197.74,156.26 192.33,156.39 186.91,156.47 181.50,156.50" fill="none" stroke="#ec3b83" stroke-width="0.92" stroke-linejoin="round"/>
<circle cx="175.11" cy="159.46" r="2.35" fill="url(#sp_pink)"/>
<circle cx="175.32" cy="159.37" r="2.35" fill="url(#sp_pink)"/>
<circle cx="175.65" cy="159.23" r="2.35" fill="url(#sp_pink)"/>
<circle cx="176.08" cy="159.03" r="2.35" fill="url(#sp_pink)"/>
<circle cx="176.62" cy="158.78" r="2.35" fill="url(#sp_pink)"/>
<circle cx="177.17" cy="158.53" r="2.35" fill="url(#sp_pink)"/>
<circle cx="178.25" cy="158.06" r="2.35" fill="url(#sp_pink)"/>
<circle cx="179.33" cy="157.69" r="2.35" fill="url(#sp_pink)"/>
<circle cx="180.41" cy="157.50" r="2.35" fill="url(#sp_pink)"/>
<circle cx="182.58" cy="157.34" r="2.35" fill="url(#sp_pink)"/>
<circle cx="184.75" cy="157.19" r="2.35" fill="url(#sp_pink)"/>
<circle cx="186.91" cy="157.06" r="2.35" fill="url(#sp_pink)"/>
<circle cx="190.16" cy="156.89" r="2.35" fill="url(#sp_pink)"/>
<circle cx="193.41" cy="156.76" r="2.35" fill="url(#sp_pink)"/>
<circle cx="196.66" cy="156.65" r="2.35" fill="url(#sp_pink)"/>
<circle cx="202.07" cy="156.51" r="2.35" fill="url(#sp_pink)"/>
<circle cx="207.49" cy="156.41" r="2.35" fill="url(#sp_pink)"/>
<circle cx="212.91" cy="156.33" r="2.35" fill="url(#sp_pink)"/>
<circle cx="218.32" cy="156.25" r="2.35" fill="url(#sp_pink)"/>
<circle cx="223.74" cy="156.14" r="2.35" fill="url(#sp_pink)"/>
<circle cx="229.15" cy="156.00" r="2.35" fill="url(#sp_pink)"/>
<circle cx="234.56" cy="155.79" r="2.35" fill="url(#sp_pink)"/>
<circle cx="239.98" cy="155.50" r="2.35" fill="url(#sp_pink)"/>
<circle cx="245.40" cy="154.99" r="2.35" fill="url(#sp_pink)"/>
<circle cx="250.81" cy="154.18" r="2.35" fill="url(#sp_pink)"/>
<circle cx="256.23" cy="153.13" r="2.35" fill="url(#sp_pink)"/>
<circle cx="261.64" cy="151.90" r="2.35" fill="url(#sp_pink)"/>
<circle cx="267.06" cy="150.27" r="2.35" fill="url(#sp_pink)"/>
<circle cx="271.39" cy="148.30" r="2.35" fill="url(#sp_pink)"/>
<circle cx="274.64" cy="145.90" r="2.35" fill="url(#sp_pink)"/>
<circle cx="277.88" cy="142.30" r="2.35" fill="url(#sp_pink)"/>
<circle cx="280.05" cy="138.78" r="2.35" fill="url(#sp_pink)"/>
<circle cx="281.68" cy="134.65" r="2.35" fill="url(#sp_pink)"/>
<circle cx="282.98" cy="129.30" r="2.35" fill="url(#sp_pink)"/>
<circle cx="282.98" cy="122.90" r="2.65" fill="#fff" stroke="#ec3b83" stroke-width="0.45" stroke-opacity="0.7"/>
<circle cx="282.22" cy="126.90" r="2.65" fill="#fff" stroke="#ec3b83" stroke-width="0.45" stroke-opacity="0.7"/>
<circle cx="280.05" cy="134.12" r="2.65" fill="#fff" stroke="#ec3b83" stroke-width="0.45" stroke-opacity="0.7"/>
<circle cx="277.88" cy="137.90" r="2.65" fill="#fff" stroke="#ec3b83" stroke-width="0.45" stroke-opacity="0.7"/>
<circle cx="274.64" cy="141.10" r="2.65" fill="#fff" stroke="#ec3b83" stroke-width="0.45" stroke-opacity="0.7"/>
<circle cx="271.39" cy="143.30" r="2.65" fill="#fff" stroke="#ec3b83" stroke-width="0.45" stroke-opacity="0.7"/>
<circle cx="267.06" cy="145.57" r="2.65" fill="#fff" stroke="#ec3b83" stroke-width="0.45" stroke-opacity="0.7"/>
<circle cx="261.64" cy="148.02" r="2.65" fill="#fff" stroke="#ec3b83" stroke-width="0.45" stroke-opacity="0.7"/>
<circle cx="257.31" cy="150.11" r="2.65" fill="#fff" stroke="#ec3b83" stroke-width="0.45" stroke-opacity="0.7"/>
<circle cx="251.89" cy="151.78" r="2.65" fill="#fff" stroke="#ec3b83" stroke-width="0.45" stroke-opacity="0.7"/>
<circle cx="246.48" cy="153.00" r="2.65" fill="#fff" stroke="#ec3b83" stroke-width="0.45" stroke-opacity="0.7"/>
<circle cx="241.06" cy="153.80" r="2.65" fill="#fff" stroke="#ec3b83" stroke-width="0.45" stroke-opacity="0.7"/>
<circle cx="235.65" cy="154.24" r="2.65" fill="#fff" stroke="#ec3b83" stroke-width="0.45" stroke-opacity="0.7"/>
<circle cx="230.23" cy="154.64" r="2.65" fill="#fff" stroke="#ec3b83" stroke-width="0.45" stroke-opacity="0.7"/>
<circle cx="224.82" cy="155.01" r="2.65" fill="#fff" stroke="#ec3b83" stroke-width="0.45" stroke-opacity="0.7"/>
<circle cx="219.40" cy="155.34" r="2.65" fill="#fff" stroke="#ec3b83" stroke-width="0.45" stroke-opacity="0.7"/>
<circle cx="213.99" cy="155.63" r="2.65" fill="#fff" stroke="#ec3b83" stroke-width="0.45" stroke-opacity="0.7"/>
<circle cx="208.57" cy="155.88" r="2.65" fill="#fff" stroke="#ec3b83" stroke-width="0.45" stroke-opacity="0.7"/>
<circle cx="203.16" cy="156.09" r="2.65" fill="#fff" stroke="#ec3b83" stroke-width="0.45" stroke-opacity="0.7"/>
<circle cx="197.74" cy="156.26" r="2.65" fill="#fff" stroke="#ec3b83" stroke-width="0.45" stroke-opacity="0.7"/>
<circle cx="192.33" cy="156.39" r="2.65" fill="#fff" stroke="#ec3b83" stroke-width="0.45" stroke-opacity="0.7"/>
<circle cx="186.91" cy="156.47" r="2.65" fill="#fff" stroke="#ec3b83" stroke-width="0.45" stroke-opacity="0.7"/>
<circle cx="181.50" cy="156.50" r="2.65" fill="#fff" stroke="#ec3b83" stroke-width="0.45" stroke-opacity="0.7"/>
<polyline points="175.11,159.46 175.32,159.38 175.65,159.25 176.08,159.08 176.62,158.85 177.17,158.63 178.25,158.21 179.33,157.88 180.41,157.70 182.58,157.54 184.75,157.39 186.91,157.27 190.16,157.10 193.41,156.97 196.66,156.86 202.07,156.72 207.49,156.61 212.91,156.53 218.32,156.45 223.74,156.34 229.15,156.19 234.56,155.99 239.98,155.70 245.40,155.21 250.81,154.44 256.23,153.45 261.64,152.30 267.06,150.86 271.39,149.10 274.64,146.74 277.88,143.30 280.05,140.41 281.68,136.74 282.98,131.30" fill="none" stroke="#b86f9d" stroke-width="1.15" stroke-linejoin="round"/>
<polyline points="282.98,125.90 282.22,129.36 280.05,136.05 277.88,139.90 274.64,143.11 271.39,145.30 267.06,147.72 261.64,149.90 257.31,151.13 251.89,152.47 246.48,153.52 241.06,154.21 235.65,154.62 230.23,154.98 224.82,155.32 219.40,155.62 213.99,155.89 208.57,156.12 203.16,156.32 197.74,156.48 192.33,156.59 186.91,156.67 181.50,156.70" fill="none" stroke="#b86f9d" stroke-width="0.92" stroke-linejoin="round"/>
<circle cx="175.11" cy="159.46" r="2.35" fill="url(#sp_mauve)"/>
<circle cx="175.32" cy="159.38" r="2.35" fill="url(#sp_mauve)"/>
<circle cx="175.65" cy="159.25" r="2.35" fill="url(#sp_mauve)"/>
<circle cx="176.08" cy="159.08" r="2.35" fill="url(#sp_mauve)"/>
<circle cx="176.62" cy="158.85" r="2.35" fill="url(#sp_mauve)"/>
<circle cx="177.17" cy="158.63" r="2.35" fill="url(#sp_mauve)"/>
<circle cx="178.25" cy="158.21" r="2.35" fill="url(#sp_mauve)"/>
<circle cx="179.33" cy="157.88" r="2.35" fill="url(#sp_mauve)"/>
<circle cx="180.41" cy="157.70" r="2.35" fill="url(#sp_mauve)"/>
<circle cx="182.58" cy="157.54" r="2.35" fill="url(#sp_mauve)"/>
<circle cx="184.75" cy="157.39" r="2.35" fill="url(#sp_mauve)"/>
<circle cx="186.91" cy="157.27" r="2.35" fill="url(#sp_mauve)"/>
<circle cx="190.16" cy="157.10" r="2.35" fill="url(#sp_mauve)"/>
<circle cx="193.41" cy="156.97" r="2.35" fill="url(#sp_mauve)"/>
<circle cx="196.66" cy="156.86" r="2.35" fill="url(#sp_mauve)"/>
<circle cx="202.07" cy="156.72" r="2.35" fill="url(#sp_mauve)"/>
<circle cx="207.49" cy="156.61" r="2.35" fill="url(#sp_mauve)"/>
<circle cx="212.91" cy="156.53" r="2.35" fill="url(#sp_mauve)"/>
<circle cx="218.32" cy="156.45" r="2.35" fill="url(#sp_mauve)"/>
<circle cx="223.74" cy="156.34" r="2.35" fill="url(#sp_mauve)"/>
<circle cx="229.15" cy="156.19" r="2.35" fill="url(#sp_mauve)"/>
<circle cx="234.56" cy="155.99" r="2.35" fill="url(#sp_mauve)"/>
<circle cx="239.98" cy="155.70" r="2.35" fill="url(#sp_mauve)"/>
<circle cx="245.40" cy="155.21" r="2.35" fill="url(#sp_mauve)"/>
<circle cx="250.81" cy="154.44" r="2.35" fill="url(#sp_mauve)"/>
<circle cx="256.23" cy="153.45" r="2.35" fill="url(#sp_mauve)"/>
<circle cx="261.64" cy="152.30" r="2.35" fill="url(#sp_mauve)"/>
<circle cx="267.06" cy="150.86" r="2.35" fill="url(#sp_mauve)"/>
<circle cx="271.39" cy="149.10" r="2.35" fill="url(#sp_mauve)"/>
<circle cx="274.64" cy="146.74" r="2.35" fill="url(#sp_mauve)"/>
<circle cx="277.88" cy="143.30" r="2.35" fill="url(#sp_mauve)"/>
<circle cx="280.05" cy="140.41" r="2.35" fill="url(#sp_mauve)"/>
<circle cx="281.68" cy="136.74" r="2.35" fill="url(#sp_mauve)"/>
<circle cx="282.98" cy="131.30" r="2.35" fill="url(#sp_mauve)"/>
<circle cx="282.98" cy="125.90" r="2.65" fill="#fff" stroke="#b86f9d" stroke-width="0.45" stroke-opacity="0.7"/>
<circle cx="282.22" cy="129.36" r="2.65" fill="#fff" stroke="#b86f9d" stroke-width="0.45" stroke-opacity="0.7"/>
<circle cx="280.05" cy="136.05" r="2.65" fill="#fff" stroke="#b86f9d" stroke-width="0.45" stroke-opacity="0.7"/>
<circle cx="277.88" cy="139.90" r="2.65" fill="#fff" stroke="#b86f9d" stroke-width="0.45" stroke-opacity="0.7"/>
<circle cx="274.64" cy="143.11" r="2.65" fill="#fff" stroke="#b86f9d" stroke-width="0.45" stroke-opacity="0.7"/>
<circle cx="271.39" cy="145.30" r="2.65" fill="#fff" stroke="#b86f9d" stroke-width="0.45" stroke-opacity="0.7"/>
<circle cx="267.06" cy="147.72" r="2.65" fill="#fff" stroke="#b86f9d" stroke-width="0.45" stroke-opacity="0.7"/>
<circle cx="261.64" cy="149.90" r="2.65" fill="#fff" stroke="#b86f9d" stroke-width="0.45" stroke-opacity="0.7"/>
<circle cx="257.31" cy="151.13" r="2.65" fill="#fff" stroke="#b86f9d" stroke-width="0.45" stroke-opacity="0.7"/>
<circle cx="251.89" cy="152.47" r="2.65" fill="#fff" stroke="#b86f9d" stroke-width="0.45" stroke-opacity="0.7"/>
<circle cx="246.48" cy="153.52" r="2.65" fill="#fff" stroke="#b86f9d" stroke-width="0.45" stroke-opacity="0.7"/>
<circle cx="241.06" cy="154.21" r="2.65" fill="#fff" stroke="#b86f9d" stroke-width="0.45" stroke-opacity="0.7"/>
<circle cx="235.65" cy="154.62" r="2.65" fill="#fff" stroke="#b86f9d" stroke-width="0.45" stroke-opacity="0.7"/>
<circle cx="230.23" cy="154.98" r="2.65" fill="#fff" stroke="#b86f9d" stroke-width="0.45" stroke-opacity="0.7"/>
<circle cx="224.82" cy="155.32" r="2.65" fill="#fff" stroke="#b86f9d" stroke-width="0.45" stroke-opacity="0.7"/>
<circle cx="219.40" cy="155.62" r="2.65" fill="#fff" stroke="#b86f9d" stroke-width="0.45" stroke-opacity="0.7"/>
<circle cx="213.99" cy="155.89" r="2.65" fill="#fff" stroke="#b86f9d" stroke-width="0.45" stroke-opacity="0.7"/>
<circle cx="208.57" cy="156.12" r="2.65" fill="#fff" stroke="#b86f9d" stroke-width="0.45" stroke-opacity="0.7"/>
<circle cx="203.16" cy="156.32" r="2.65" fill="#fff" stroke="#b86f9d" stroke-width="0.45" stroke-opacity="0.7"/>
<circle cx="197.74" cy="156.48" r="2.65" fill="#fff" stroke="#b86f9d" stroke-width="0.45" stroke-opacity="0.7"/>
<circle cx="192.33" cy="156.59" r="2.65" fill="#fff" stroke="#b86f9d" stroke-width="0.45" stroke-opacity="0.7"/>
<circle cx="186.91" cy="156.67" r="2.65" fill="#fff" stroke="#b86f9d" stroke-width="0.45" stroke-opacity="0.7"/>
<circle cx="181.50" cy="156.70" r="2.65" fill="#fff" stroke="#b86f9d" stroke-width="0.45" stroke-opacity="0.7"/>
<polyline points="175.11,159.67 175.32,159.61 175.65,159.51 176.08,159.37 176.62,159.19 177.17,159.01 178.25,158.68 179.33,158.43 180.41,158.30 182.58,158.20 184.75,158.11 186.91,158.04 190.16,157.94 193.41,157.87 196.66,157.81 202.07,157.74 207.49,157.68 212.91,157.63 218.32,157.56 223.74,157.46 229.15,157.30 234.56,157.08 239.98,156.77 245.40,156.35 250.81,155.82 256.23,155.12 261.64,153.70 267.06,152.24 271.39,150.70 274.64,148.91 277.88,146.30 280.05,143.68 281.68,140.78 282.98,137.30" fill="none" stroke="#d8bb3a" stroke-width="1.15" stroke-linejoin="round"/>
<polyline points="282.98,136.30 282.22,138.42 280.05,142.76 277.88,145.50 274.64,148.11 271.39,149.90 267.06,151.65 261.64,153.10 257.31,153.85 251.89,154.67 246.48,155.37 241.06,155.93 235.65,156.36 230.23,156.66 224.82,156.85 219.40,157.03 213.99,157.19 208.57,157.33 203.16,157.46 197.74,157.55 192.33,157.63 186.91,157.68 181.50,157.70" fill="none" stroke="#d8bb3a" stroke-width="0.92" stroke-linejoin="round"/>
<circle cx="175.11" cy="159.67" r="2.35" fill="url(#sp_yellow)"/>
<circle cx="175.32" cy="159.61" r="2.35" fill="url(#sp_yellow)"/>
<circle cx="175.65" cy="159.51" r="2.35" fill="url(#sp_yellow)"/>
<circle cx="176.08" cy="159.37" r="2.35" fill="url(#sp_yellow)"/>
<circle cx="176.62" cy="159.19" r="2.35" fill="url(#sp_yellow)"/>
<circle cx="177.17" cy="159.01" r="2.35" fill="url(#sp_yellow)"/>
<circle cx="178.25" cy="158.68" r="2.35" fill="url(#sp_yellow)"/>
<circle cx="179.33" cy="158.43" r="2.35" fill="url(#sp_yellow)"/>
<circle cx="180.41" cy="158.30" r="2.35" fill="url(#sp_yellow)"/>
<circle cx="182.58" cy="158.20" r="2.35" fill="url(#sp_yellow)"/>
<circle cx="184.75" cy="158.11" r="2.35" fill="url(#sp_yellow)"/>
<circle cx="186.91" cy="158.04" r="2.35" fill="url(#sp_yellow)"/>
<circle cx="190.16" cy="157.94" r="2.35" fill="url(#sp_yellow)"/>
<circle cx="193.41" cy="157.87" r="2.35" fill="url(#sp_yellow)"/>
<circle cx="196.66" cy="157.81" r="2.35" fill="url(#sp_yellow)"/>
<circle cx="202.07" cy="157.74" r="2.35" fill="url(#sp_yellow)"/>
<circle cx="207.49" cy="157.68" r="2.35" fill="url(#sp_yellow)"/>
<circle cx="212.91" cy="157.63" r="2.35" fill="url(#sp_yellow)"/>
<circle cx="218.32" cy="157.56" r="2.35" fill="url(#sp_yellow)"/>
<circle cx="223.74" cy="157.46" r="2.35" fill="url(#sp_yellow)"/>
<circle cx="229.15" cy="157.30" r="2.35" fill="url(#sp_yellow)"/>
<circle cx="234.56" cy="157.08" r="2.35" fill="url(#sp_yellow)"/>
<circle cx="239.98" cy="156.77" r="2.35" fill="url(#sp_yellow)"/>
<circle cx="245.40" cy="156.35" r="2.35" fill="url(#sp_yellow)"/>
<circle cx="250.81" cy="155.82" r="2.35" fill="url(#sp_yellow)"/>
<circle cx="256.23" cy="155.12" r="2.35" fill="url(#sp_yellow)"/>
<circle cx="261.64" cy="153.70" r="2.35" fill="url(#sp_yellow)"/>
<circle cx="267.06" cy="152.24" r="2.35" fill="url(#sp_yellow)"/>
<circle cx="271.39" cy="150.70" r="2.35" fill="url(#sp_yellow)"/>
<circle cx="274.64" cy="148.91" r="2.35" fill="url(#sp_yellow)"/>
<circle cx="277.88" cy="146.30" r="2.35" fill="url(#sp_yellow)"/>
<circle cx="280.05" cy="143.68" r="2.35" fill="url(#sp_yellow)"/>
<circle cx="281.68" cy="140.78" r="2.35" fill="url(#sp_yellow)"/>
<circle cx="282.98" cy="137.30" r="2.35" fill="url(#sp_yellow)"/>
<circle cx="282.98" cy="136.30" r="2.65" fill="#fff" stroke="#d8bb3a" stroke-width="0.45" stroke-opacity="0.7"/>
<circle cx="282.22" cy="138.42" r="2.65" fill="#fff" stroke="#d8bb3a" stroke-width="0.45" stroke-opacity="0.7"/>
<circle cx="280.05" cy="142.76" r="2.65" fill="#fff" stroke="#d8bb3a" stroke-width="0.45" stroke-opacity="0.7"/>
<circle cx="277.88" cy="145.50" r="2.65" fill="#fff" stroke="#d8bb3a" stroke-width="0.45" stroke-opacity="0.7"/>
<circle cx="274.64" cy="148.11" r="2.65" fill="#fff" stroke="#d8bb3a" stroke-width="0.45" stroke-opacity="0.7"/>
<circle cx="271.39" cy="149.90" r="2.65" fill="#fff" stroke="#d8bb3a" stroke-width="0.45" stroke-opacity="0.7"/>
<circle cx="267.06" cy="151.65" r="2.65" fill="#fff" stroke="#d8bb3a" stroke-width="0.45" stroke-opacity="0.7"/>
<circle cx="261.64" cy="153.10" r="2.65" fill="#fff" stroke="#d8bb3a" stroke-width="0.45" stroke-opacity="0.7"/>
<circle cx="257.31" cy="153.85" r="2.65" fill="#fff" stroke="#d8bb3a" stroke-width="0.45" stroke-opacity="0.7"/>
<circle cx="251.89" cy="154.67" r="2.65" fill="#fff" stroke="#d8bb3a" stroke-width="0.45" stroke-opacity="0.7"/>
<circle cx="246.48" cy="155.37" r="2.65" fill="#fff" stroke="#d8bb3a" stroke-width="0.45" stroke-opacity="0.7"/>
<circle cx="241.06" cy="155.93" r="2.65" fill="#fff" stroke="#d8bb3a" stroke-width="0.45" stroke-opacity="0.7"/>
<circle cx="235.65" cy="156.36" r="2.65" fill="#fff" stroke="#d8bb3a" stroke-width="0.45" stroke-opacity="0.7"/>
<circle cx="230.23" cy="156.66" r="2.65" fill="#fff" stroke="#d8bb3a" stroke-width="0.45" stroke-opacity="0.7"/>
<circle cx="224.82" cy="156.85" r="2.65" fill="#fff" stroke="#d8bb3a" stroke-width="0.45" stroke-opacity="0.7"/>
<circle cx="219.40" cy="157.03" r="2.65" fill="#fff" stroke="#d8bb3a" stroke-width="0.45" stroke-opacity="0.7"/>
<circle cx="213.99" cy="157.19" r="2.65" fill="#fff" stroke="#d8bb3a" stroke-width="0.45" stroke-opacity="0.7"/>
<circle cx="208.57" cy="157.33" r="2.65" fill="#fff" stroke="#d8bb3a" stroke-width="0.45" stroke-opacity="0.7"/>
<circle cx="203.16" cy="157.46" r="2.65" fill="#fff" stroke="#d8bb3a" stroke-width="0.45" stroke-opacity="0.7"/>
<circle cx="197.74" cy="157.55" r="2.65" fill="#fff" stroke="#d8bb3a" stroke-width="0.45" stroke-opacity="0.7"/>
<circle cx="192.33" cy="157.63" r="2.65" fill="#fff" stroke="#d8bb3a" stroke-width="0.45" stroke-opacity="0.7"/>
<circle cx="186.91" cy="157.68" r="2.65" fill="#fff" stroke="#d8bb3a" stroke-width="0.45" stroke-opacity="0.7"/>
<circle cx="181.50" cy="157.70" r="2.65" fill="#fff" stroke="#d8bb3a" stroke-width="0.45" stroke-opacity="0.7"/>
<polyline points="175.11,159.25 175.32,159.16 175.65,159.01 176.08,158.81 176.62,158.56 177.17,158.31 178.25,157.85 179.33,157.49 180.41,157.30 182.58,157.14 184.75,157.00 186.91,156.89 190.16,156.75 193.41,156.65 196.66,156.57 202.07,156.45 207.49,156.30 212.91,156.14 218.32,156.00 223.74,155.86 229.15,155.71 234.56,155.53 239.98,155.30 245.40,154.96 250.81,154.45 256.23,153.71 261.64,152.30 267.06,150.87 271.39,149.30 274.64,147.30 277.88,144.30 280.05,141.38 281.68,137.90 282.98,133.30" fill="none" stroke="#3c6fc1" stroke-width="1.15" stroke-linejoin="round"/>
<polyline points="282.98,129.50 282.22,132.32 280.05,137.69 277.88,140.70 274.64,142.93 271.39,144.74 267.06,146.99 261.64,149.13 257.31,150.87 251.89,152.08 246.48,152.88 241.06,153.77 235.65,154.27 230.23,154.63 224.82,155.00 219.40,155.37 213.99,155.70 208.57,155.94 203.16,156.15 197.74,156.33 192.33,156.49 186.91,156.62 181.50,156.69" fill="none" stroke="#3c6fc1" stroke-width="0.92" stroke-linejoin="round"/>
<circle cx="175.11" cy="159.25" r="2.35" fill="url(#sp_blue)"/>
<circle cx="175.32" cy="159.16" r="2.35" fill="url(#sp_blue)"/>
<circle cx="175.65" cy="159.01" r="2.35" fill="url(#sp_blue)"/>
<circle cx="176.08" cy="158.81" r="2.35" fill="url(#sp_blue)"/>
<circle cx="176.62" cy="158.56" r="2.35" fill="url(#sp_blue)"/>
<circle cx="177.17" cy="158.31" r="2.35" fill="url(#sp_blue)"/>
<circle cx="178.25" cy="157.85" r="2.35" fill="url(#sp_blue)"/>
<circle cx="179.33" cy="157.49" r="2.35" fill="url(#sp_blue)"/>
<circle cx="180.41" cy="157.30" r="2.35" fill="url(#sp_blue)"/>
<circle cx="182.58" cy="157.14" r="2.35" fill="url(#sp_blue)"/>
<circle cx="184.75" cy="157.00" r="2.35" fill="url(#sp_blue)"/>
<circle cx="186.91" cy="156.89" r="2.35" fill="url(#sp_blue)"/>
<circle cx="190.16" cy="156.75" r="2.35" fill="url(#sp_blue)"/>
<circle cx="193.41" cy="156.65" r="2.35" fill="url(#sp_blue)"/>
<circle cx="196.66" cy="156.57" r="2.35" fill="url(#sp_blue)"/>
<circle cx="202.07" cy="156.45" r="2.35" fill="url(#sp_blue)"/>
<circle cx="207.49" cy="156.30" r="2.35" fill="url(#sp_blue)"/>
<circle cx="212.91" cy="156.14" r="2.35" fill="url(#sp_blue)"/>
<circle cx="218.32" cy="156.00" r="2.35" fill="url(#sp_blue)"/>
<circle cx="223.74" cy="155.86" r="2.35" fill="url(#sp_blue)"/>
<circle cx="229.15" cy="155.71" r="2.35" fill="url(#sp_blue)"/>
<circle cx="234.56" cy="155.53" r="2.35" fill="url(#sp_blue)"/>
<circle cx="239.98" cy="155.30" r="2.35" fill="url(#sp_blue)"/>
<circle cx="245.40" cy="154.96" r="2.35" fill="url(#sp_blue)"/>
<circle cx="250.81" cy="154.45" r="2.35" fill="url(#sp_blue)"/>
<circle cx="256.23" cy="153.71" r="2.35" fill="url(#sp_blue)"/>
<circle cx="261.64" cy="152.30" r="2.35" fill="url(#sp_blue)"/>
<circle cx="267.06" cy="150.87" r="2.35" fill="url(#sp_blue)"/>
<circle cx="271.39" cy="149.30" r="2.35" fill="url(#sp_blue)"/>
<circle cx="274.64" cy="147.30" r="2.35" fill="url(#sp_blue)"/>
<circle cx="277.88" cy="144.30" r="2.35" fill="url(#sp_blue)"/>
<circle cx="280.05" cy="141.38" r="2.35" fill="url(#sp_blue)"/>
<circle cx="281.68" cy="137.90" r="2.35" fill="url(#sp_blue)"/>
<circle cx="282.98" cy="133.30" r="2.35" fill="url(#sp_blue)"/>
<circle cx="282.98" cy="129.50" r="2.65" fill="#fff" stroke="#3c6fc1" stroke-width="0.45" stroke-opacity="0.7"/>
<circle cx="282.22" cy="132.32" r="2.65" fill="#fff" stroke="#3c6fc1" stroke-width="0.45" stroke-opacity="0.7"/>
<circle cx="280.05" cy="137.69" r="2.65" fill="#fff" stroke="#3c6fc1" stroke-width="0.45" stroke-opacity="0.7"/>
<circle cx="277.88" cy="140.70" r="2.65" fill="#fff" stroke="#3c6fc1" stroke-width="0.45" stroke-opacity="0.7"/>
<circle cx="274.64" cy="142.93" r="2.65" fill="#fff" stroke="#3c6fc1" stroke-width="0.45" stroke-opacity="0.7"/>
<circle cx="271.39" cy="144.74" r="2.65" fill="#fff" stroke="#3c6fc1" stroke-width="0.45" stroke-opacity="0.7"/>
<circle cx="267.06" cy="146.99" r="2.65" fill="#fff" stroke="#3c6fc1" stroke-width="0.45" stroke-opacity="0.7"/>
<circle cx="261.64" cy="149.13" r="2.65" fill="#fff" stroke="#3c6fc1" stroke-width="0.45" stroke-opacity="0.7"/>
<circle cx="257.31" cy="150.87" r="2.65" fill="#fff" stroke="#3c6fc1" stroke-width="0.45" stroke-opacity="0.7"/>
<circle cx="251.89" cy="152.08" r="2.65" fill="#fff" stroke="#3c6fc1" stroke-width="0.45" stroke-opacity="0.7"/>
<circle cx="246.48" cy="152.88" r="2.65" fill="#fff" stroke="#3c6fc1" stroke-width="0.45" stroke-opacity="0.7"/>
<circle cx="241.06" cy="153.77" r="2.65" fill="#fff" stroke="#3c6fc1" stroke-width="0.45" stroke-opacity="0.7"/>
<circle cx="235.65" cy="154.27" r="2.65" fill="#fff" stroke="#3c6fc1" stroke-width="0.45" stroke-opacity="0.7"/>
<circle cx="230.23" cy="154.63" r="2.65" fill="#fff" stroke="#3c6fc1" stroke-width="0.45" stroke-opacity="0.7"/>
<circle cx="224.82" cy="155.00" r="2.65" fill="#fff" stroke="#3c6fc1" stroke-width="0.45" stroke-opacity="0.7"/>
<circle cx="219.40" cy="155.37" r="2.65" fill="#fff" stroke="#3c6fc1" stroke-width="0.45" stroke-opacity="0.7"/>
<circle cx="213.99" cy="155.70" r="2.65" fill="#fff" stroke="#3c6fc1" stroke-width="0.45" stroke-opacity="0.7"/>
<circle cx="208.57" cy="155.94" r="2.65" fill="#fff" stroke="#3c6fc1" stroke-width="0.45" stroke-opacity="0.7"/>
<circle cx="203.16" cy="156.15" r="2.65" fill="#fff" stroke="#3c6fc1" stroke-width="0.45" stroke-opacity="0.7"/>
<circle cx="197.74" cy="156.33" r="2.65" fill="#fff" stroke="#3c6fc1" stroke-width="0.45" stroke-opacity="0.7"/>
<circle cx="192.33" cy="156.49" r="2.65" fill="#fff" stroke="#3c6fc1" stroke-width="0.45" stroke-opacity="0.7"/>
<circle cx="186.91" cy="156.62" r="2.65" fill="#fff" stroke="#3c6fc1" stroke-width="0.45" stroke-opacity="0.7"/>
<circle cx="181.50" cy="156.69" r="2.65" fill="#fff" stroke="#3c6fc1" stroke-width="0.45" stroke-opacity="0.7"/>
<polyline points="175.11,160.09 175.32,160.07 175.65,160.04 176.08,160.01 176.62,159.96 177.17,159.91 178.25,159.81 179.33,159.74 180.41,159.70 182.58,159.66 184.75,159.63 186.91,159.60 190.16,159.56 193.41,159.53 196.66,159.51 202.07,159.48 207.49,159.46 212.91,159.43 218.32,159.40 223.74,159.36 229.15,159.30 234.56,159.21 239.98,159.10 245.40,158.95 250.81,158.77 256.23,158.55 261.64,158.30 267.06,157.92 271.39,157.45 274.64,156.91 277.88,156.07 280.05,155.37 281.68,154.79 282.98,154.30" fill="none" stroke="#4dbd88" stroke-width="1.15" stroke-linejoin="round"/>
<polyline points="282.98,151.10 282.22,152.44 280.05,154.15 277.88,154.70 274.64,155.48 271.39,156.08 267.06,156.70 261.64,157.30 257.31,157.70 251.89,158.06 246.48,158.22 241.06,158.33 235.65,158.42 230.23,158.49 224.82,158.55 219.40,158.61 213.99,158.67 208.57,158.73 203.16,158.78 197.74,158.82 192.33,158.86 186.91,158.88 181.50,158.90" fill="none" stroke="#4dbd88" stroke-width="0.92" stroke-linejoin="round"/>
<circle cx="175.11" cy="160.09" r="2.35" fill="url(#sp_green)"/>
<circle cx="175.32" cy="160.07" r="2.35" fill="url(#sp_green)"/>
<circle cx="175.65" cy="160.04" r="2.35" fill="url(#sp_green)"/>
<circle cx="176.08" cy="160.01" r="2.35" fill="url(#sp_green)"/>
<circle cx="176.62" cy="159.96" r="2.35" fill="url(#sp_green)"/>
<circle cx="177.17" cy="159.91" r="2.35" fill="url(#sp_green)"/>
<circle cx="178.25" cy="159.81" r="2.35" fill="url(#sp_green)"/>
<circle cx="179.33" cy="159.74" r="2.35" fill="url(#sp_green)"/>
<circle cx="180.41" cy="159.70" r="2.35" fill="url(#sp_green)"/>
<circle cx="182.58" cy="159.66" r="2.35" fill="url(#sp_green)"/>
<circle cx="184.75" cy="159.63" r="2.35" fill="url(#sp_green)"/>
<circle cx="186.91" cy="159.60" r="2.35" fill="url(#sp_green)"/>
<circle cx="190.16" cy="159.56" r="2.35" fill="url(#sp_green)"/>
<circle cx="193.41" cy="159.53" r="2.35" fill="url(#sp_green)"/>
<circle cx="196.66" cy="159.51" r="2.35" fill="url(#sp_green)"/>
<circle cx="202.07" cy="159.48" r="2.35" fill="url(#sp_green)"/>
<circle cx="207.49" cy="159.46" r="2.35" fill="url(#sp_green)"/>
<circle cx="212.91" cy="159.43" r="2.35" fill="url(#sp_green)"/>
<circle cx="218.32" cy="159.40" r="2.35" fill="url(#sp_green)"/>
<circle cx="223.74" cy="159.36" r="2.35" fill="url(#sp_green)"/>
<circle cx="229.15" cy="159.30" r="2.35" fill="url(#sp_green)"/>
<circle cx="234.56" cy="159.21" r="2.35" fill="url(#sp_green)"/>
<circle cx="239.98" cy="159.10" r="2.35" fill="url(#sp_green)"/>
<circle cx="245.40" cy="158.95" r="2.35" fill="url(#sp_green)"/>
<circle cx="250.81" cy="158.77" r="2.35" fill="url(#sp_green)"/>
<circle cx="256.23" cy="158.55" r="2.35" fill="url(#sp_green)"/>
<circle cx="261.64" cy="158.30" r="2.35" fill="url(#sp_green)"/>
<circle cx="267.06" cy="157.92" r="2.35" fill="url(#sp_green)"/>
<circle cx="271.39" cy="157.45" r="2.35" fill="url(#sp_green)"/>
<circle cx="274.64" cy="156.91" r="2.35" fill="url(#sp_green)"/>
<circle cx="277.88" cy="156.07" r="2.35" fill="url(#sp_green)"/>
<circle cx="280.05" cy="155.37" r="2.35" fill="url(#sp_green)"/>
<circle cx="281.68" cy="154.79" r="2.35" fill="url(#sp_green)"/>
<circle cx="282.98" cy="154.30" r="2.35" fill="url(#sp_green)"/>
<circle cx="282.98" cy="151.10" r="2.65" fill="#fff" stroke="#4dbd88" stroke-width="0.45" stroke-opacity="0.7"/>
<circle cx="282.22" cy="152.44" r="2.65" fill="#fff" stroke="#4dbd88" stroke-width="0.45" stroke-opacity="0.7"/>
<circle cx="280.05" cy="154.15" r="2.65" fill="#fff" stroke="#4dbd88" stroke-width="0.45" stroke-opacity="0.7"/>
<circle cx="277.88" cy="154.70" r="2.65" fill="#fff" stroke="#4dbd88" stroke-width="0.45" stroke-opacity="0.7"/>
<circle cx="274.64" cy="155.48" r="2.65" fill="#fff" stroke="#4dbd88" stroke-width="0.45" stroke-opacity="0.7"/>
<circle cx="271.39" cy="156.08" r="2.65" fill="#fff" stroke="#4dbd88" stroke-width="0.45" stroke-opacity="0.7"/>
<circle cx="267.06" cy="156.70" r="2.65" fill="#fff" stroke="#4dbd88" stroke-width="0.45" stroke-opacity="0.7"/>
<circle cx="261.64" cy="157.30" r="2.65" fill="#fff" stroke="#4dbd88" stroke-width="0.45" stroke-opacity="0.7"/>
<circle cx="257.31" cy="157.70" r="2.65" fill="#fff" stroke="#4dbd88" stroke-width="0.45" stroke-opacity="0.7"/>
<circle cx="251.89" cy="158.06" r="2.65" fill="#fff" stroke="#4dbd88" stroke-width="0.45" stroke-opacity="0.7"/>
<circle cx="246.48" cy="158.22" r="2.65" fill="#fff" stroke="#4dbd88" stroke-width="0.45" stroke-opacity="0.7"/>
<circle cx="241.06" cy="158.33" r="2.65" fill="#fff" stroke="#4dbd88" stroke-width="0.45" stroke-opacity="0.7"/>
<circle cx="235.65" cy="158.42" r="2.65" fill="#fff" stroke="#4dbd88" stroke-width="0.45" stroke-opacity="0.7"/>
<circle cx="230.23" cy="158.49" r="2.65" fill="#fff" stroke="#4dbd88" stroke-width="0.45" stroke-opacity="0.7"/>
<circle cx="224.82" cy="158.55" r="2.65" fill="#fff" stroke="#4dbd88" stroke-width="0.45" stroke-opacity="0.7"/>
<circle cx="219.40" cy="158.61" r="2.65" fill="#fff" stroke="#4dbd88" stroke-width="0.45" stroke-opacity="0.7"/>
<circle cx="213.99" cy="158.67" r="2.65" fill="#fff" stroke="#4dbd88" stroke-width="0.45" stroke-opacity="0.7"/>
<circle cx="208.57" cy="158.73" r="2.65" fill="#fff" stroke="#4dbd88" stroke-width="0.45" stroke-opacity="0.7"/>
<circle cx="203.16" cy="158.78" r="2.65" fill="#fff" stroke="#4dbd88" stroke-width="0.45" stroke-opacity="0.7"/>
<circle cx="197.74" cy="158.82" r="2.65" fill="#fff" stroke="#4dbd88" stroke-width="0.45" stroke-opacity="0.7"/>
<circle cx="192.33" cy="158.86" r="2.65" fill="#fff" stroke="#4dbd88" stroke-width="0.45" stroke-opacity="0.7"/>
<circle cx="186.91" cy="158.88" r="2.65" fill="#fff" stroke="#4dbd88" stroke-width="0.45" stroke-opacity="0.7"/>
<circle cx="181.50" cy="158.90" r="2.65" fill="#fff" stroke="#4dbd88" stroke-width="0.45" stroke-opacity="0.7"/>
<polyline points="305.11,159.64 305.32,159.53 305.65,159.36 306.08,159.12 307.16,158.52 308.25,157.97 310.41,157.30 313.12,157.02 315.82,156.80 320.15,156.53 325.56,156.30 332.05,156.10 339.62,155.81 350.44,155.45 360.18,155.04 369.92,154.39 379.66,153.43 389.40,151.82 395.89,149.95 400.22,147.90 404.54,144.24 407.79,139.32 409.95,132.30 411.25,120.30" fill="none" stroke="#ec3b83" stroke-width="1.15" stroke-linejoin="round"/>
<polyline points="411.58,95.50 411.25,111.90 410.50,124.15 407.47,136.83 404.54,141.82 400.22,146.30 394.81,149.17 389.40,150.93 382.90,152.39 376.41,153.15 369.92,153.66 364.51,154.00 359.10,154.30 352.61,154.65 346.12,154.96 340.71,155.18 335.30,155.37 328.80,155.58 322.31,155.76 315.82,155.90" fill="none" stroke="#ec3b83" stroke-width="0.92" stroke-linejoin="round"/>
<circle cx="305.11" cy="159.64" r="2.35" fill="url(#sp_pink)"/>
<circle cx="305.32" cy="159.53" r="2.35" fill="url(#sp_pink)"/>
<circle cx="305.65" cy="159.36" r="2.35" fill="url(#sp_pink)"/>
<circle cx="306.08" cy="159.12" r="2.35" fill="url(#sp_pink)"/>
<circle cx="307.16" cy="158.52" r="2.35" fill="url(#sp_pink)"/>
<circle cx="308.25" cy="157.97" r="2.35" fill="url(#sp_pink)"/>
<circle cx="310.41" cy="157.30" r="2.35" fill="url(#sp_pink)"/>
<circle cx="313.12" cy="157.02" r="2.35" fill="url(#sp_pink)"/>
<circle cx="315.82" cy="156.80" r="2.35" fill="url(#sp_pink)"/>
<circle cx="320.15" cy="156.53" r="2.35" fill="url(#sp_pink)"/>
<circle cx="325.56" cy="156.30" r="2.35" fill="url(#sp_pink)"/>
<circle cx="332.05" cy="156.10" r="2.35" fill="url(#sp_pink)"/>
<circle cx="339.62" cy="155.81" r="2.35" fill="url(#sp_pink)"/>
<circle cx="350.44" cy="155.45" r="2.35" fill="url(#sp_pink)"/>
<circle cx="360.18" cy="155.04" r="2.35" fill="url(#sp_pink)"/>
<circle cx="369.92" cy="154.39" r="2.35" fill="url(#sp_pink)"/>
<circle cx="379.66" cy="153.43" r="2.35" fill="url(#sp_pink)"/>
<circle cx="389.40" cy="151.82" r="2.35" fill="url(#sp_pink)"/>
<circle cx="395.89" cy="149.95" r="2.35" fill="url(#sp_pink)"/>
<circle cx="400.22" cy="147.90" r="2.35" fill="url(#sp_pink)"/>
<circle cx="404.54" cy="144.24" r="2.35" fill="url(#sp_pink)"/>
<circle cx="407.79" cy="139.32" r="2.35" fill="url(#sp_pink)"/>
<circle cx="409.95" cy="132.30" r="2.35" fill="url(#sp_pink)"/>
<circle cx="411.25" cy="120.30" r="2.35" fill="url(#sp_pink)"/>
<circle cx="411.58" cy="95.50" r="2.65" fill="#fff" stroke="#ec3b83" stroke-width="0.45" stroke-opacity="0.7"/>
<circle cx="411.25" cy="111.90" r="2.65" fill="#fff" stroke="#ec3b83" stroke-width="0.45" stroke-opacity="0.7"/>
<circle cx="410.50" cy="124.15" r="2.65" fill="#fff" stroke="#ec3b83" stroke-width="0.45" stroke-opacity="0.7"/>
<circle cx="407.47" cy="136.83" r="2.65" fill="#fff" stroke="#ec3b83" stroke-width="0.45" stroke-opacity="0.7"/>
<circle cx="404.54" cy="141.82" r="2.65" fill="#fff" stroke="#ec3b83" stroke-width="0.45" stroke-opacity="0.7"/>
<circle cx="400.22" cy="146.30" r="2.65" fill="#fff" stroke="#ec3b83" stroke-width="0.45" stroke-opacity="0.7"/>
<circle cx="394.81" cy="149.17" r="2.65" fill="#fff" stroke="#ec3b83" stroke-width="0.45" stroke-opacity="0.7"/>
<circle cx="389.40" cy="150.93" r="2.65" fill="#fff" stroke="#ec3b83" stroke-width="0.45" stroke-opacity="0.7"/>
<circle cx="382.90" cy="152.39" r="2.65" fill="#fff" stroke="#ec3b83" stroke-width="0.45" stroke-opacity="0.7"/>
<circle cx="376.41" cy="153.15" r="2.65" fill="#fff" stroke="#ec3b83" stroke-width="0.45" stroke-opacity="0.7"/>
<circle cx="369.92" cy="153.66" r="2.65" fill="#fff" stroke="#ec3b83" stroke-width="0.45" stroke-opacity="0.7"/>
<circle cx="364.51" cy="154.00" r="2.65" fill="#fff" stroke="#ec3b83" stroke-width="0.45" stroke-opacity="0.7"/>
<circle cx="359.10" cy="154.30" r="2.65" fill="#fff" stroke="#ec3b83" stroke-width="0.45" stroke-opacity="0.7"/>
<circle cx="352.61" cy="154.65" r="2.65" fill="#fff" stroke="#ec3b83" stroke-width="0.45" stroke-opacity="0.7"/>
<circle cx="346.12" cy="154.96" r="2.65" fill="#fff" stroke="#ec3b83" stroke-width="0.45" stroke-opacity="0.7"/>
<circle cx="340.71" cy="155.18" r="2.65" fill="#fff" stroke="#ec3b83" stroke-width="0.45" stroke-opacity="0.7"/>
<circle cx="335.30" cy="155.37" r="2.65" fill="#fff" stroke="#ec3b83" stroke-width="0.45" stroke-opacity="0.7"/>
<circle cx="328.80" cy="155.58" r="2.65" fill="#fff" stroke="#ec3b83" stroke-width="0.45" stroke-opacity="0.7"/>
<circle cx="322.31" cy="155.76" r="2.65" fill="#fff" stroke="#ec3b83" stroke-width="0.45" stroke-opacity="0.7"/>
<circle cx="315.82" cy="155.90" r="2.65" fill="#fff" stroke="#ec3b83" stroke-width="0.45" stroke-opacity="0.7"/>
<polyline points="305.11,159.65 305.32,159.56 305.65,159.42 306.08,159.22 307.16,158.72 308.25,158.27 310.41,157.70 313.12,157.43 315.82,157.21 320.15,156.95 325.56,156.71 332.05,156.50 339.62,156.21 350.44,155.85 360.18,155.45 369.92,154.87 379.66,154.02 389.40,152.42 395.89,150.62 400.22,148.70 404.54,145.12 407.79,140.48 409.95,134.30 411.25,124.30" fill="none" stroke="#b86f9d" stroke-width="1.15" stroke-linejoin="round"/>
<polyline points="411.25,120.30 410.50,127.66 407.47,138.96 404.54,143.30 400.22,147.10 394.81,149.82 389.40,151.48 382.90,152.81 376.41,153.54 369.92,154.06 364.51,154.39 359.10,154.70 352.61,155.05 346.12,155.36 340.71,155.58 335.30,155.77 328.80,155.98 322.31,156.16 315.82,156.30" fill="none" stroke="#b86f9d" stroke-width="0.92" stroke-linejoin="round"/>
<circle cx="305.11" cy="159.65" r="2.35" fill="url(#sp_mauve)"/>
<circle cx="305.32" cy="159.56" r="2.35" fill="url(#sp_mauve)"/>
<circle cx="305.65" cy="159.42" r="2.35" fill="url(#sp_mauve)"/>
<circle cx="306.08" cy="159.22" r="2.35" fill="url(#sp_mauve)"/>
<circle cx="307.16" cy="158.72" r="2.35" fill="url(#sp_mauve)"/>
<circle cx="308.25" cy="158.27" r="2.35" fill="url(#sp_mauve)"/>
<circle cx="310.41" cy="157.70" r="2.35" fill="url(#sp_mauve)"/>
<circle cx="313.12" cy="157.43" r="2.35" fill="url(#sp_mauve)"/>
<circle cx="315.82" cy="157.21" r="2.35" fill="url(#sp_mauve)"/>
<circle cx="320.15" cy="156.95" r="2.35" fill="url(#sp_mauve)"/>
<circle cx="325.56" cy="156.71" r="2.35" fill="url(#sp_mauve)"/>
<circle cx="332.05" cy="156.50" r="2.35" fill="url(#sp_mauve)"/>
<circle cx="339.62" cy="156.21" r="2.35" fill="url(#sp_mauve)"/>
<circle cx="350.44" cy="155.85" r="2.35" fill="url(#sp_mauve)"/>
<circle cx="360.18" cy="155.45" r="2.35" fill="url(#sp_mauve)"/>
<circle cx="369.92" cy="154.87" r="2.35" fill="url(#sp_mauve)"/>
<circle cx="379.66" cy="154.02" r="2.35" fill="url(#sp_mauve)"/>
<circle cx="389.40" cy="152.42" r="2.35" fill="url(#sp_mauve)"/>
<circle cx="395.89" cy="150.62" r="2.35" fill="url(#sp_mauve)"/>
<circle cx="400.22" cy="148.70" r="2.35" fill="url(#sp_mauve)"/>
<circle cx="404.54" cy="145.12" r="2.35" fill="url(#sp_mauve)"/>
<circle cx="407.79" cy="140.48" r="2.35" fill="url(#sp_mauve)"/>
<circle cx="409.95" cy="134.30" r="2.35" fill="url(#sp_mauve)"/>
<circle cx="411.25" cy="124.30" r="2.35" fill="url(#sp_mauve)"/>
<circle cx="411.25" cy="120.30" r="2.65" fill="#fff" stroke="#b86f9d" stroke-width="0.45" stroke-opacity="0.7"/>
<circle cx="410.50" cy="127.66" r="2.65" fill="#fff" stroke="#b86f9d" stroke-width="0.45" stroke-opacity="0.7"/>
<circle cx="407.47" cy="138.96" r="2.65" fill="#fff" stroke="#b86f9d" stroke-width="0.45" stroke-opacity="0.7"/>
<circle cx="404.54" cy="143.30" r="2.65" fill="#fff" stroke="#b86f9d" stroke-width="0.45" stroke-opacity="0.7"/>
<circle cx="400.22" cy="147.10" r="2.65" fill="#fff" stroke="#b86f9d" stroke-width="0.45" stroke-opacity="0.7"/>
<circle cx="394.81" cy="149.82" r="2.65" fill="#fff" stroke="#b86f9d" stroke-width="0.45" stroke-opacity="0.7"/>
<circle cx="389.40" cy="151.48" r="2.65" fill="#fff" stroke="#b86f9d" stroke-width="0.45" stroke-opacity="0.7"/>
<circle cx="382.90" cy="152.81" r="2.65" fill="#fff" stroke="#b86f9d" stroke-width="0.45" stroke-opacity="0.7"/>
<circle cx="376.41" cy="153.54" r="2.65" fill="#fff" stroke="#b86f9d" stroke-width="0.45" stroke-opacity="0.7"/>
<circle cx="369.92" cy="154.06" r="2.65" fill="#fff" stroke="#b86f9d" stroke-width="0.45" stroke-opacity="0.7"/>
<circle cx="364.51" cy="154.39" r="2.65" fill="#fff" stroke="#b86f9d" stroke-width="0.45" stroke-opacity="0.7"/>
<circle cx="359.10" cy="154.70" r="2.65" fill="#fff" stroke="#b86f9d" stroke-width="0.45" stroke-opacity="0.7"/>
<circle cx="352.61" cy="155.05" r="2.65" fill="#fff" stroke="#b86f9d" stroke-width="0.45" stroke-opacity="0.7"/>
<circle cx="346.12" cy="155.36" r="2.65" fill="#fff" stroke="#b86f9d" stroke-width="0.45" stroke-opacity="0.7"/>
<circle cx="340.71" cy="155.58" r="2.65" fill="#fff" stroke="#b86f9d" stroke-width="0.45" stroke-opacity="0.7"/>
<circle cx="335.30" cy="155.77" r="2.65" fill="#fff" stroke="#b86f9d" stroke-width="0.45" stroke-opacity="0.7"/>
<circle cx="328.80" cy="155.98" r="2.65" fill="#fff" stroke="#b86f9d" stroke-width="0.45" stroke-opacity="0.7"/>
<circle cx="322.31" cy="156.16" r="2.65" fill="#fff" stroke="#b86f9d" stroke-width="0.45" stroke-opacity="0.7"/>
<circle cx="315.82" cy="156.30" r="2.65" fill="#fff" stroke="#b86f9d" stroke-width="0.45" stroke-opacity="0.7"/>
<polyline points="305.11,159.85 305.32,159.75 305.65,159.60 306.08,159.40 307.16,158.91 308.25,158.47 310.41,157.90 313.12,157.62 315.82,157.41 320.15,157.18 325.56,156.95 332.05,156.68 339.62,156.39 350.44,155.86 360.18,155.22 369.92,154.30 379.66,152.89 389.40,150.88 395.89,148.83 400.22,146.74 404.54,143.58 407.79,139.77 409.95,135.30 411.25,130.67 412.44,124.90" fill="none" stroke="#d8bb3a" stroke-width="1.15" stroke-linejoin="round"/>
<polyline points="412.66,120.50 411.25,128.42 410.50,131.30 407.47,137.29 404.54,141.04 400.22,145.10 394.81,147.29 389.40,149.03 382.90,151.05 376.41,152.11 369.92,152.78 364.51,153.30 359.10,153.88 352.61,154.52 346.12,155.01 340.71,155.34 335.30,155.60 328.80,155.88 322.31,156.12 315.82,156.30" fill="none" stroke="#d8bb3a" stroke-width="0.92" stroke-linejoin="round"/>
<circle cx="305.11" cy="159.85" r="2.35" fill="url(#sp_yellow)"/>
<circle cx="305.32" cy="159.75" r="2.35" fill="url(#sp_yellow)"/>
<circle cx="305.65" cy="159.60" r="2.35" fill="url(#sp_yellow)"/>
<circle cx="306.08" cy="159.40" r="2.35" fill="url(#sp_yellow)"/>
<circle cx="307.16" cy="158.91" r="2.35" fill="url(#sp_yellow)"/>
<circle cx="308.25" cy="158.47" r="2.35" fill="url(#sp_yellow)"/>
<circle cx="310.41" cy="157.90" r="2.35" fill="url(#sp_yellow)"/>
<circle cx="313.12" cy="157.62" r="2.35" fill="url(#sp_yellow)"/>
<circle cx="315.82" cy="157.41" r="2.35" fill="url(#sp_yellow)"/>
<circle cx="320.15" cy="157.18" r="2.35" fill="url(#sp_yellow)"/>
<circle cx="325.56" cy="156.95" r="2.35" fill="url(#sp_yellow)"/>
<circle cx="332.05" cy="156.68" r="2.35" fill="url(#sp_yellow)"/>
<circle cx="339.62" cy="156.39" r="2.35" fill="url(#sp_yellow)"/>
<circle cx="350.44" cy="155.86" r="2.35" fill="url(#sp_yellow)"/>
<circle cx="360.18" cy="155.22" r="2.35" fill="url(#sp_yellow)"/>
<circle cx="369.92" cy="154.30" r="2.35" fill="url(#sp_yellow)"/>
<circle cx="379.66" cy="152.89" r="2.35" fill="url(#sp_yellow)"/>
<circle cx="389.40" cy="150.88" r="2.35" fill="url(#sp_yellow)"/>
<circle cx="395.89" cy="148.83" r="2.35" fill="url(#sp_yellow)"/>
<circle cx="400.22" cy="146.74" r="2.35" fill="url(#sp_yellow)"/>
<circle cx="404.54" cy="143.58" r="2.35" fill="url(#sp_yellow)"/>
<circle cx="407.79" cy="139.77" r="2.35" fill="url(#sp_yellow)"/>
<circle cx="409.95" cy="135.30" r="2.35" fill="url(#sp_yellow)"/>
<circle cx="411.25" cy="130.67" r="2.35" fill="url(#sp_yellow)"/>
<circle cx="412.44" cy="124.90" r="2.35" fill="url(#sp_yellow)"/>
<circle cx="412.66" cy="120.50" r="2.65" fill="#fff" stroke="#d8bb3a" stroke-width="0.45" stroke-opacity="0.7"/>
<circle cx="411.25" cy="128.42" r="2.65" fill="#fff" stroke="#d8bb3a" stroke-width="0.45" stroke-opacity="0.7"/>
<circle cx="410.50" cy="131.30" r="2.65" fill="#fff" stroke="#d8bb3a" stroke-width="0.45" stroke-opacity="0.7"/>
<circle cx="407.47" cy="137.29" r="2.65" fill="#fff" stroke="#d8bb3a" stroke-width="0.45" stroke-opacity="0.7"/>
<circle cx="404.54" cy="141.04" r="2.65" fill="#fff" stroke="#d8bb3a" stroke-width="0.45" stroke-opacity="0.7"/>
<circle cx="400.22" cy="145.10" r="2.65" fill="#fff" stroke="#d8bb3a" stroke-width="0.45" stroke-opacity="0.7"/>
<circle cx="394.81" cy="147.29" r="2.65" fill="#fff" stroke="#d8bb3a" stroke-width="0.45" stroke-opacity="0.7"/>
<circle cx="389.40" cy="149.03" r="2.65" fill="#fff" stroke="#d8bb3a" stroke-width="0.45" stroke-opacity="0.7"/>
<circle cx="382.90" cy="151.05" r="2.65" fill="#fff" stroke="#d8bb3a" stroke-width="0.45" stroke-opacity="0.7"/>
<circle cx="376.41" cy="152.11" r="2.65" fill="#fff" stroke="#d8bb3a" stroke-width="0.45" stroke-opacity="0.7"/>
<circle cx="369.92" cy="152.78" r="2.65" fill="#fff" stroke="#d8bb3a" stroke-width="0.45" stroke-opacity="0.7"/>
<circle cx="364.51" cy="153.30" r="2.65" fill="#fff" stroke="#d8bb3a" stroke-width="0.45" stroke-opacity="0.7"/>
<circle cx="359.10" cy="153.88" r="2.65" fill="#fff" stroke="#d8bb3a" stroke-width="0.45" stroke-opacity="0.7"/>
<circle cx="352.61" cy="154.52" r="2.65" fill="#fff" stroke="#d8bb3a" stroke-width="0.45" stroke-opacity="0.7"/>
<circle cx="346.12" cy="155.01" r="2.65" fill="#fff" stroke="#d8bb3a" stroke-width="0.45" stroke-opacity="0.7"/>
<circle cx="340.71" cy="155.34" r="2.65" fill="#fff" stroke="#d8bb3a" stroke-width="0.45" stroke-opacity="0.7"/>
<circle cx="335.30" cy="155.60" r="2.65" fill="#fff" stroke="#d8bb3a" stroke-width="0.45" stroke-opacity="0.7"/>
<circle cx="328.80" cy="155.88" r="2.65" fill="#fff" stroke="#d8bb3a" stroke-width="0.45" stroke-opacity="0.7"/>
<circle cx="322.31" cy="156.12" r="2.65" fill="#fff" stroke="#d8bb3a" stroke-width="0.45" stroke-opacity="0.7"/>
<circle cx="315.82" cy="156.30" r="2.65" fill="#fff" stroke="#d8bb3a" stroke-width="0.45" stroke-opacity="0.7"/>
<polyline points="305.02,159.90 305.11,154.30 305.43,149.30 306.30,144.30 308.46,139.30 309.54,111.10 315.82,101.70 320.15,98.70 325.56,97.30 332.05,96.30 339.62,95.90 350.44,95.30 360.18,94.30 369.92,93.30 379.66,92.50 389.40,90.70 395.89,89.10 400.22,87.90 404.54,85.30 407.79,74.30 409.95,61.30 411.25,49.70" fill="none" stroke="#3c6fc1" stroke-width="1.15" stroke-linejoin="round"/>
<polyline points="412.44,33.70 411.25,48.65 410.50,55.50 407.47,70.30 404.54,82.30 400.22,87.90 394.81,89.79 389.40,90.50 382.90,90.95 376.41,91.24 369.92,91.50 364.51,91.72 359.10,91.91 352.61,92.11 346.12,92.33 340.71,92.55 335.30,92.82 328.80,93.24 322.31,93.74 315.82,94.30" fill="none" stroke="#3c6fc1" stroke-width="0.92" stroke-linejoin="round"/>
<circle cx="305.02" cy="159.90" r="2.35" fill="url(#sp_blue)"/>
<circle cx="305.11" cy="154.30" r="2.35" fill="url(#sp_blue)"/>
<circle cx="305.43" cy="149.30" r="2.35" fill="url(#sp_blue)"/>
<circle cx="306.30" cy="144.30" r="2.35" fill="url(#sp_blue)"/>
<circle cx="308.46" cy="139.30" r="2.35" fill="url(#sp_blue)"/>
<circle cx="309.54" cy="111.10" r="2.35" fill="url(#sp_blue)"/>
<circle cx="315.82" cy="101.70" r="2.35" fill="url(#sp_blue)"/>
<circle cx="320.15" cy="98.70" r="2.35" fill="url(#sp_blue)"/>
<circle cx="325.56" cy="97.30" r="2.35" fill="url(#sp_blue)"/>
<circle cx="332.05" cy="96.30" r="2.35" fill="url(#sp_blue)"/>
<circle cx="339.62" cy="95.90" r="2.35" fill="url(#sp_blue)"/>
<circle cx="350.44" cy="95.30" r="2.35" fill="url(#sp_blue)"/>
<circle cx="360.18" cy="94.30" r="2.35" fill="url(#sp_blue)"/>
<circle cx="369.92" cy="93.30" r="2.35" fill="url(#sp_blue)"/>
<circle cx="379.66" cy="92.50" r="2.35" fill="url(#sp_blue)"/>
<circle cx="389.40" cy="90.70" r="2.35" fill="url(#sp_blue)"/>
<circle cx="395.89" cy="89.10" r="2.35" fill="url(#sp_blue)"/>
<circle cx="400.22" cy="87.90" r="2.35" fill="url(#sp_blue)"/>
<circle cx="404.54" cy="85.30" r="2.35" fill="url(#sp_blue)"/>
<circle cx="407.79" cy="74.30" r="2.35" fill="url(#sp_blue)"/>
<circle cx="409.95" cy="61.30" r="2.35" fill="url(#sp_blue)"/>
<circle cx="411.25" cy="49.70" r="2.35" fill="url(#sp_blue)"/>
<circle cx="412.44" cy="33.70" r="2.65" fill="#fff" stroke="#3c6fc1" stroke-width="0.45" stroke-opacity="0.7"/>
<circle cx="411.25" cy="48.65" r="2.65" fill="#fff" stroke="#3c6fc1" stroke-width="0.45" stroke-opacity="0.7"/>
<circle cx="410.50" cy="55.50" r="2.65" fill="#fff" stroke="#3c6fc1" stroke-width="0.45" stroke-opacity="0.7"/>
<circle cx="407.47" cy="70.30" r="2.65" fill="#fff" stroke="#3c6fc1" stroke-width="0.45" stroke-opacity="0.7"/>
<circle cx="404.54" cy="82.30" r="2.65" fill="#fff" stroke="#3c6fc1" stroke-width="0.45" stroke-opacity="0.7"/>
<circle cx="400.22" cy="87.90" r="2.65" fill="#fff" stroke="#3c6fc1" stroke-width="0.45" stroke-opacity="0.7"/>
<circle cx="394.81" cy="89.79" r="2.65" fill="#fff" stroke="#3c6fc1" stroke-width="0.45" stroke-opacity="0.7"/>
<circle cx="389.40" cy="90.50" r="2.65" fill="#fff" stroke="#3c6fc1" stroke-width="0.45" stroke-opacity="0.7"/>
<circle cx="382.90" cy="90.95" r="2.65" fill="#fff" stroke="#3c6fc1" stroke-width="0.45" stroke-opacity="0.7"/>
<circle cx="376.41" cy="91.24" r="2.65" fill="#fff" stroke="#3c6fc1" stroke-width="0.45" stroke-opacity="0.7"/>
<circle cx="369.92" cy="91.50" r="2.65" fill="#fff" stroke="#3c6fc1" stroke-width="0.45" stroke-opacity="0.7"/>
<circle cx="364.51" cy="91.72" r="2.65" fill="#fff" stroke="#3c6fc1" stroke-width="0.45" stroke-opacity="0.7"/>
<circle cx="359.10" cy="91.91" r="2.65" fill="#fff" stroke="#3c6fc1" stroke-width="0.45" stroke-opacity="0.7"/>
<circle cx="352.61" cy="92.11" r="2.65" fill="#fff" stroke="#3c6fc1" stroke-width="0.45" stroke-opacity="0.7"/>
<circle cx="346.12" cy="92.33" r="2.65" fill="#fff" stroke="#3c6fc1" stroke-width="0.45" stroke-opacity="0.7"/>
<circle cx="340.71" cy="92.55" r="2.65" fill="#fff" stroke="#3c6fc1" stroke-width="0.45" stroke-opacity="0.7"/>
<circle cx="335.30" cy="92.82" r="2.65" fill="#fff" stroke="#3c6fc1" stroke-width="0.45" stroke-opacity="0.7"/>
<circle cx="328.80" cy="93.24" r="2.65" fill="#fff" stroke="#3c6fc1" stroke-width="0.45" stroke-opacity="0.7"/>
<circle cx="322.31" cy="93.74" r="2.65" fill="#fff" stroke="#3c6fc1" stroke-width="0.45" stroke-opacity="0.7"/>
<circle cx="315.82" cy="94.30" r="2.65" fill="#fff" stroke="#3c6fc1" stroke-width="0.45" stroke-opacity="0.7"/>
<polyline points="305.01,160.30 305.03,158.70 305.06,156.30 305.11,153.30 305.15,150.30 305.19,147.30 305.24,144.30 305.28,141.30 307.92,87.70 315.82,87.30 320.15,87.16 325.56,87.01 332.05,86.86 339.62,86.71 350.44,86.50 360.18,86.27 369.92,86.05 379.66,85.80 389.40,85.41 395.89,84.92 400.22,84.29 404.54,83.40 407.79,82.30 409.95,81.23 411.25,80.00 412.44,76.90" fill="none" stroke="#4dbd88" stroke-width="1.15" stroke-linejoin="round"/>
<polyline points="412.44,72.30 411.25,76.30 410.50,78.94 407.47,82.45 404.54,83.53 400.22,84.04 394.81,84.26 389.40,84.30 382.90,84.30 376.41,84.30 369.92,84.30 364.51,84.30 359.10,84.30 352.61,84.31 346.12,84.35 340.71,84.39 335.30,84.44 328.80,84.52 322.31,84.61 315.82,84.70" fill="none" stroke="#4dbd88" stroke-width="0.92" stroke-linejoin="round"/>
<circle cx="305.01" cy="160.30" r="2.35" fill="url(#sp_green)"/>
<circle cx="305.03" cy="158.70" r="2.35" fill="url(#sp_green)"/>
<circle cx="305.06" cy="156.30" r="2.35" fill="url(#sp_green)"/>
<circle cx="305.11" cy="153.30" r="2.35" fill="url(#sp_green)"/>
<circle cx="305.15" cy="150.30" r="2.35" fill="url(#sp_green)"/>
<circle cx="305.19" cy="147.30" r="2.35" fill="url(#sp_green)"/>
<circle cx="305.24" cy="144.30" r="2.35" fill="url(#sp_green)"/>
<circle cx="305.28" cy="141.30" r="2.35" fill="url(#sp_green)"/>
<circle cx="307.92" cy="87.70" r="2.35" fill="url(#sp_green)"/>
<circle cx="315.82" cy="87.30" r="2.35" fill="url(#sp_green)"/>
<circle cx="320.15" cy="87.16" r="2.35" fill="url(#sp_green)"/>
<circle cx="325.56" cy="87.01" r="2.35" fill="url(#sp_green)"/>
<circle cx="332.05" cy="86.86" r="2.35" fill="url(#sp_green)"/>
<circle cx="339.62" cy="86.71" r="2.35" fill="url(#sp_green)"/>
<circle cx="350.44" cy="86.50" r="2.35" fill="url(#sp_green)"/>
<circle cx="360.18" cy="86.27" r="2.35" fill="url(#sp_green)"/>
<circle cx="369.92" cy="86.05" r="2.35" fill="url(#sp_green)"/>
<circle cx="379.66" cy="85.80" r="2.35" fill="url(#sp_green)"/>
<circle cx="389.40" cy="85.41" r="2.35" fill="url(#sp_green)"/>
<circle cx="395.89" cy="84.92" r="2.35" fill="url(#sp_green)"/>
<circle cx="400.22" cy="84.29" r="2.35" fill="url(#sp_green)"/>
<circle cx="404.54" cy="83.40" r="2.35" fill="url(#sp_green)"/>
<circle cx="407.79" cy="82.30" r="2.35" fill="url(#sp_green)"/>
<circle cx="409.95" cy="81.23" r="2.35" fill="url(#sp_green)"/>
<circle cx="411.25" cy="80.00" r="2.35" fill="url(#sp_green)"/>
<circle cx="412.44" cy="76.90" r="2.35" fill="url(#sp_green)"/>
<circle cx="412.44" cy="72.30" r="2.65" fill="#fff" stroke="#4dbd88" stroke-width="0.45" stroke-opacity="0.7"/>
<circle cx="411.25" cy="76.30" r="2.65" fill="#fff" stroke="#4dbd88" stroke-width="0.45" stroke-opacity="0.7"/>
<circle cx="410.50" cy="78.94" r="2.65" fill="#fff" stroke="#4dbd88" stroke-width="0.45" stroke-opacity="0.7"/>
<circle cx="407.47" cy="82.45" r="2.65" fill="#fff" stroke="#4dbd88" stroke-width="0.45" stroke-opacity="0.7"/>
<circle cx="404.54" cy="83.53" r="2.65" fill="#fff" stroke="#4dbd88" stroke-width="0.45" stroke-opacity="0.7"/>
<circle cx="400.22" cy="84.04" r="2.65" fill="#fff" stroke="#4dbd88" stroke-width="0.45" stroke-opacity="0.7"/>
<circle cx="394.81" cy="84.26" r="2.65" fill="#fff" stroke="#4dbd88" stroke-width="0.45" stroke-opacity="0.7"/>
<circle cx="389.40" cy="84.30" r="2.65" fill="#fff" stroke="#4dbd88" stroke-width="0.45" stroke-opacity="0.7"/>
<circle cx="382.90" cy="84.30" r="2.65" fill="#fff" stroke="#4dbd88" stroke-width="0.45" stroke-opacity="0.7"/>
<circle cx="376.41" cy="84.30" r="2.65" fill="#fff" stroke="#4dbd88" stroke-width="0.45" stroke-opacity="0.7"/>
<circle cx="369.92" cy="84.30" r="2.65" fill="#fff" stroke="#4dbd88" stroke-width="0.45" stroke-opacity="0.7"/>
<circle cx="364.51" cy="84.30" r="2.65" fill="#fff" stroke="#4dbd88" stroke-width="0.45" stroke-opacity="0.7"/>
<circle cx="359.10" cy="84.30" r="2.65" fill="#fff" stroke="#4dbd88" stroke-width="0.45" stroke-opacity="0.7"/>
<circle cx="352.61" cy="84.31" r="2.65" fill="#fff" stroke="#4dbd88" stroke-width="0.45" stroke-opacity="0.7"/>
<circle cx="346.12" cy="84.35" r="2.65" fill="#fff" stroke="#4dbd88" stroke-width="0.45" stroke-opacity="0.7"/>
<circle cx="340.71" cy="84.39" r="2.65" fill="#fff" stroke="#4dbd88" stroke-width="0.45" stroke-opacity="0.7"/>
<circle cx="335.30" cy="84.44" r="2.65" fill="#fff" stroke="#4dbd88" stroke-width="0.45" stroke-opacity="0.7"/>
<circle cx="328.80" cy="84.52" r="2.65" fill="#fff" stroke="#4dbd88" stroke-width="0.45" stroke-opacity="0.7"/>
<circle cx="322.31" cy="84.61" r="2.65" fill="#fff" stroke="#4dbd88" stroke-width="0.45" stroke-opacity="0.7"/>
<circle cx="315.82" cy="84.70" r="2.65" fill="#fff" stroke="#4dbd88" stroke-width="0.45" stroke-opacity="0.7"/>
<polyline points="434.32,159.30 434.35,157.80 434.39,155.80 434.45,153.25 434.51,150.30 434.58,147.19 434.66,143.97 434.77,140.79 434.89,137.43 435.03,135.30 435.24,134.11 435.97,131.76 438.05,129.39 441.07,127.33 444.30,125.30 449.83,123.50 456.91,121.90 467.33,120.10 475.67,118.50 486.19,117.10 496.82,116.10 507.24,114.90 517.35,114.10 528.18,113.50" fill="none" stroke="#ec3b83" stroke-width="1.15" stroke-linejoin="round"/>
<polyline points="538.50,112.90 519.74,112.90 504.74,113.30 489.11,113.90 475.67,114.30 460.25,114.90 452.74,115.90 444.82,117.50" fill="none" stroke="#ec3b83" stroke-width="0.92" stroke-linejoin="round"/>
<circle cx="434.32" cy="159.30" r="2.35" fill="url(#sp_pink)"/>
<circle cx="434.35" cy="157.80" r="2.35" fill="url(#sp_pink)"/>
<circle cx="434.39" cy="155.80" r="2.35" fill="url(#sp_pink)"/>
<circle cx="434.45" cy="153.25" r="2.35" fill="url(#sp_pink)"/>
<circle cx="434.51" cy="150.30" r="2.35" fill="url(#sp_pink)"/>
<circle cx="434.58" cy="147.19" r="2.35" fill="url(#sp_pink)"/>
<circle cx="434.66" cy="143.97" r="2.35" fill="url(#sp_pink)"/>
<circle cx="434.77" cy="140.79" r="2.35" fill="url(#sp_pink)"/>
<circle cx="434.89" cy="137.43" r="2.35" fill="url(#sp_pink)"/>
<circle cx="435.03" cy="135.30" r="2.35" fill="url(#sp_pink)"/>
<circle cx="435.24" cy="134.11" r="2.35" fill="url(#sp_pink)"/>
<circle cx="435.97" cy="131.76" r="2.35" fill="url(#sp_pink)"/>
<circle cx="438.05" cy="129.39" r="2.35" fill="url(#sp_pink)"/>
<circle cx="441.07" cy="127.33" r="2.35" fill="url(#sp_pink)"/>
<circle cx="444.30" cy="125.30" r="2.35" fill="url(#sp_pink)"/>
<circle cx="449.83" cy="123.50" r="2.35" fill="url(#sp_pink)"/>
<circle cx="456.91" cy="121.90" r="2.35" fill="url(#sp_pink)"/>
<circle cx="467.33" cy="120.10" r="2.35" fill="url(#sp_pink)"/>
<circle cx="475.67" cy="118.50" r="2.35" fill="url(#sp_pink)"/>
<circle cx="486.19" cy="117.10" r="2.35" fill="url(#sp_pink)"/>
<circle cx="496.82" cy="116.10" r="2.35" fill="url(#sp_pink)"/>
<circle cx="507.24" cy="114.90" r="2.35" fill="url(#sp_pink)"/>
<circle cx="517.35" cy="114.10" r="2.35" fill="url(#sp_pink)"/>
<circle cx="528.18" cy="113.50" r="2.35" fill="url(#sp_pink)"/>
<circle cx="538.50" cy="112.90" r="2.65" fill="#fff" stroke="#ec3b83" stroke-width="0.45" stroke-opacity="0.7"/>
<circle cx="519.74" cy="112.90" r="2.65" fill="#fff" stroke="#ec3b83" stroke-width="0.45" stroke-opacity="0.7"/>
<circle cx="504.74" cy="113.30" r="2.65" fill="#fff" stroke="#ec3b83" stroke-width="0.45" stroke-opacity="0.7"/>
<circle cx="489.11" cy="113.90" r="2.65" fill="#fff" stroke="#ec3b83" stroke-width="0.45" stroke-opacity="0.7"/>
<circle cx="475.67" cy="114.30" r="2.65" fill="#fff" stroke="#ec3b83" stroke-width="0.45" stroke-opacity="0.7"/>
<circle cx="460.25" cy="114.90" r="2.65" fill="#fff" stroke="#ec3b83" stroke-width="0.45" stroke-opacity="0.7"/>
<circle cx="452.74" cy="115.90" r="2.65" fill="#fff" stroke="#ec3b83" stroke-width="0.45" stroke-opacity="0.7"/>
<circle cx="444.82" cy="117.50" r="2.65" fill="#fff" stroke="#ec3b83" stroke-width="0.45" stroke-opacity="0.7"/>
<polyline points="434.32,157.88 434.35,154.42 434.39,150.41 434.45,146.48 434.51,142.48 434.58,138.54 434.66,134.69 434.77,130.68 434.89,126.78 435.03,123.61 435.24,120.94 435.97,116.45 438.05,111.61 441.07,108.69 444.30,107.50 449.83,105.88 456.91,103.74 467.33,102.13 475.67,101.05 486.19,99.98 496.82,99.26 507.24,98.55 517.35,97.47 528.18,96.58" fill="none" stroke="#b86f9d" stroke-width="1.15" stroke-linejoin="round"/>
<polyline points="538.50,95.50 519.74,96.04 504.74,96.94 489.11,97.66 475.67,99.10 460.25,101.62 452.74,103.06 444.82,104.86" fill="none" stroke="#b86f9d" stroke-width="0.92" stroke-linejoin="round"/>
<circle cx="434.32" cy="157.88" r="2.35" fill="url(#sp_mauve)"/>
<circle cx="434.35" cy="154.42" r="2.35" fill="url(#sp_mauve)"/>
<circle cx="434.39" cy="150.41" r="2.35" fill="url(#sp_mauve)"/>
<circle cx="434.45" cy="146.48" r="2.35" fill="url(#sp_mauve)"/>
<circle cx="434.51" cy="142.48" r="2.35" fill="url(#sp_mauve)"/>
<circle cx="434.58" cy="138.54" r="2.35" fill="url(#sp_mauve)"/>
<circle cx="434.66" cy="134.69" r="2.35" fill="url(#sp_mauve)"/>
<circle cx="434.77" cy="130.68" r="2.35" fill="url(#sp_mauve)"/>
<circle cx="434.89" cy="126.78" r="2.35" fill="url(#sp_mauve)"/>
<circle cx="435.03" cy="123.61" r="2.35" fill="url(#sp_mauve)"/>
<circle cx="435.24" cy="120.94" r="2.35" fill="url(#sp_mauve)"/>
<circle cx="435.97" cy="116.45" r="2.35" fill="url(#sp_mauve)"/>
<circle cx="438.05" cy="111.61" r="2.35" fill="url(#sp_mauve)"/>
<circle cx="441.07" cy="108.69" r="2.35" fill="url(#sp_mauve)"/>
<circle cx="444.30" cy="107.50" r="2.35" fill="url(#sp_mauve)"/>
<circle cx="449.83" cy="105.88" r="2.35" fill="url(#sp_mauve)"/>
<circle cx="456.91" cy="103.74" r="2.35" fill="url(#sp_mauve)"/>
<circle cx="467.33" cy="102.13" r="2.35" fill="url(#sp_mauve)"/>
<circle cx="475.67" cy="101.05" r="2.35" fill="url(#sp_mauve)"/>
<circle cx="486.19" cy="99.98" r="2.35" fill="url(#sp_mauve)"/>
<circle cx="496.82" cy="99.26" r="2.35" fill="url(#sp_mauve)"/>
<circle cx="507.24" cy="98.55" r="2.35" fill="url(#sp_mauve)"/>
<circle cx="517.35" cy="97.47" r="2.35" fill="url(#sp_mauve)"/>
<circle cx="528.18" cy="96.58" r="2.35" fill="url(#sp_mauve)"/>
<circle cx="538.50" cy="95.50" r="2.65" fill="#fff" stroke="#b86f9d" stroke-width="0.45" stroke-opacity="0.7"/>
<circle cx="519.74" cy="96.04" r="2.65" fill="#fff" stroke="#b86f9d" stroke-width="0.45" stroke-opacity="0.7"/>
<circle cx="504.74" cy="96.94" r="2.65" fill="#fff" stroke="#b86f9d" stroke-width="0.45" stroke-opacity="0.7"/>
<circle cx="489.11" cy="97.66" r="2.65" fill="#fff" stroke="#b86f9d" stroke-width="0.45" stroke-opacity="0.7"/>
<circle cx="475.67" cy="99.10" r="2.65" fill="#fff" stroke="#b86f9d" stroke-width="0.45" stroke-opacity="0.7"/>
<circle cx="460.25" cy="101.62" r="2.65" fill="#fff" stroke="#b86f9d" stroke-width="0.45" stroke-opacity="0.7"/>
<circle cx="452.74" cy="103.06" r="2.65" fill="#fff" stroke="#b86f9d" stroke-width="0.45" stroke-opacity="0.7"/>
<circle cx="444.82" cy="104.86" r="2.65" fill="#fff" stroke="#b86f9d" stroke-width="0.45" stroke-opacity="0.7"/>
<polyline points="434.32,157.69 434.35,153.96 434.39,149.64 434.45,145.40 434.51,141.09 434.58,136.84 434.66,132.69 434.77,128.36 434.89,124.16 435.03,120.74 435.24,117.87 435.97,113.02 438.05,107.80 441.07,104.66 444.30,103.37 449.83,101.63 456.91,99.31 467.33,97.58 475.67,96.42 486.19,95.26 496.82,94.49 507.24,93.72 517.35,92.56 528.18,91.59" fill="none" stroke="#d8bb3a" stroke-width="1.15" stroke-linejoin="round"/>
<polyline points="538.50,90.46 519.74,91.04 504.74,92.01 489.11,92.79 475.67,94.34 460.25,97.06 452.74,98.61 444.82,100.55" fill="none" stroke="#d8bb3a" stroke-width="0.92" stroke-linejoin="round"/>
<circle cx="434.32" cy="157.69" r="2.35" fill="url(#sp_yellow)"/>
<circle cx="434.35" cy="153.96" r="2.35" fill="url(#sp_yellow)"/>
<circle cx="434.39" cy="149.64" r="2.35" fill="url(#sp_yellow)"/>
<circle cx="434.45" cy="145.40" r="2.35" fill="url(#sp_yellow)"/>
<circle cx="434.51" cy="141.09" r="2.35" fill="url(#sp_yellow)"/>
<circle cx="434.58" cy="136.84" r="2.35" fill="url(#sp_yellow)"/>
<circle cx="434.66" cy="132.69" r="2.35" fill="url(#sp_yellow)"/>
<circle cx="434.77" cy="128.36" r="2.35" fill="url(#sp_yellow)"/>
<circle cx="434.89" cy="124.16" r="2.35" fill="url(#sp_yellow)"/>
<circle cx="435.03" cy="120.74" r="2.35" fill="url(#sp_yellow)"/>
<circle cx="435.24" cy="117.87" r="2.35" fill="url(#sp_yellow)"/>
<circle cx="435.97" cy="113.02" r="2.35" fill="url(#sp_yellow)"/>
<circle cx="438.05" cy="107.80" r="2.35" fill="url(#sp_yellow)"/>
<circle cx="441.07" cy="104.66" r="2.35" fill="url(#sp_yellow)"/>
<circle cx="444.30" cy="103.37" r="2.35" fill="url(#sp_yellow)"/>
<circle cx="449.83" cy="101.63" r="2.35" fill="url(#sp_yellow)"/>
<circle cx="456.91" cy="99.31" r="2.35" fill="url(#sp_yellow)"/>
<circle cx="467.33" cy="97.58" r="2.35" fill="url(#sp_yellow)"/>
<circle cx="475.67" cy="96.42" r="2.35" fill="url(#sp_yellow)"/>
<circle cx="486.19" cy="95.26" r="2.35" fill="url(#sp_yellow)"/>
<circle cx="496.82" cy="94.49" r="2.35" fill="url(#sp_yellow)"/>
<circle cx="507.24" cy="93.72" r="2.35" fill="url(#sp_yellow)"/>
<circle cx="517.35" cy="92.56" r="2.35" fill="url(#sp_yellow)"/>
<circle cx="528.18" cy="91.59" r="2.35" fill="url(#sp_yellow)"/>
<circle cx="538.50" cy="90.46" r="2.65" fill="#fff" stroke="#d8bb3a" stroke-width="0.45" stroke-opacity="0.7"/>
<circle cx="519.74" cy="91.04" r="2.65" fill="#fff" stroke="#d8bb3a" stroke-width="0.45" stroke-opacity="0.7"/>
<circle cx="504.74" cy="92.01" r="2.65" fill="#fff" stroke="#d8bb3a" stroke-width="0.45" stroke-opacity="0.7"/>
<circle cx="489.11" cy="92.79" r="2.65" fill="#fff" stroke="#d8bb3a" stroke-width="0.45" stroke-opacity="0.7"/>
<circle cx="475.67" cy="94.34" r="2.65" fill="#fff" stroke="#d8bb3a" stroke-width="0.45" stroke-opacity="0.7"/>
<circle cx="460.25" cy="97.06" r="2.65" fill="#fff" stroke="#d8bb3a" stroke-width="0.45" stroke-opacity="0.7"/>
<circle cx="452.74" cy="98.61" r="2.65" fill="#fff" stroke="#d8bb3a" stroke-width="0.45" stroke-opacity="0.7"/>
<circle cx="444.82" cy="100.55" r="2.65" fill="#fff" stroke="#d8bb3a" stroke-width="0.45" stroke-opacity="0.7"/>
<polyline points="434.32,157.59 434.35,153.73 434.39,149.25 434.45,144.86 434.51,140.39 434.58,135.99 434.66,131.69 434.77,127.21 434.89,122.85 435.03,119.30 435.24,116.33 435.97,111.30 438.05,105.90 441.07,102.64 444.30,101.30 449.83,99.50 456.91,97.10 467.33,95.30 475.67,94.10 486.19,92.90 496.82,92.10 507.24,91.30 517.35,90.10 528.18,89.10" fill="none" stroke="#3c6fc1" stroke-width="1.15" stroke-linejoin="round"/>
<polyline points="538.50,88.30 519.74,88.90 504.74,89.90 489.11,90.70 475.67,92.30 460.25,95.10 452.74,96.70 444.82,98.70" fill="none" stroke="#3c6fc1" stroke-width="0.92" stroke-linejoin="round"/>
<circle cx="434.32" cy="157.59" r="2.35" fill="url(#sp_blue)"/>
<circle cx="434.35" cy="153.73" r="2.35" fill="url(#sp_blue)"/>
<circle cx="434.39" cy="149.25" r="2.35" fill="url(#sp_blue)"/>
<circle cx="434.45" cy="144.86" r="2.35" fill="url(#sp_blue)"/>
<circle cx="434.51" cy="140.39" r="2.35" fill="url(#sp_blue)"/>
<circle cx="434.58" cy="135.99" r="2.35" fill="url(#sp_blue)"/>
<circle cx="434.66" cy="131.69" r="2.35" fill="url(#sp_blue)"/>
<circle cx="434.77" cy="127.21" r="2.35" fill="url(#sp_blue)"/>
<circle cx="434.89" cy="122.85" r="2.35" fill="url(#sp_blue)"/>
<circle cx="435.03" cy="119.30" r="2.35" fill="url(#sp_blue)"/>
<circle cx="435.24" cy="116.33" r="2.35" fill="url(#sp_blue)"/>
<circle cx="435.97" cy="111.30" r="2.35" fill="url(#sp_blue)"/>
<circle cx="438.05" cy="105.90" r="2.35" fill="url(#sp_blue)"/>
<circle cx="441.07" cy="102.64" r="2.35" fill="url(#sp_blue)"/>
<circle cx="444.30" cy="101.30" r="2.35" fill="url(#sp_blue)"/>
<circle cx="449.83" cy="99.50" r="2.35" fill="url(#sp_blue)"/>
<circle cx="456.91" cy="97.10" r="2.35" fill="url(#sp_blue)"/>
<circle cx="467.33" cy="95.30" r="2.35" fill="url(#sp_blue)"/>
<circle cx="475.67" cy="94.10" r="2.35" fill="url(#sp_blue)"/>
<circle cx="486.19" cy="92.90" r="2.35" fill="url(#sp_blue)"/>
<circle cx="496.82" cy="92.10" r="2.35" fill="url(#sp_blue)"/>
<circle cx="507.24" cy="91.30" r="2.35" fill="url(#sp_blue)"/>
<circle cx="517.35" cy="90.10" r="2.35" fill="url(#sp_blue)"/>
<circle cx="528.18" cy="89.10" r="2.35" fill="url(#sp_blue)"/>
<circle cx="538.50" cy="88.30" r="2.65" fill="#fff" stroke="#3c6fc1" stroke-width="0.45" stroke-opacity="0.7"/>
<circle cx="519.74" cy="88.90" r="2.65" fill="#fff" stroke="#3c6fc1" stroke-width="0.45" stroke-opacity="0.7"/>
<circle cx="504.74" cy="89.90" r="2.65" fill="#fff" stroke="#3c6fc1" stroke-width="0.45" stroke-opacity="0.7"/>
<circle cx="489.11" cy="90.70" r="2.65" fill="#fff" stroke="#3c6fc1" stroke-width="0.45" stroke-opacity="0.7"/>
<circle cx="475.67" cy="92.30" r="2.65" fill="#fff" stroke="#3c6fc1" stroke-width="0.45" stroke-opacity="0.7"/>
<circle cx="460.25" cy="95.10" r="2.65" fill="#fff" stroke="#3c6fc1" stroke-width="0.45" stroke-opacity="0.7"/>
<circle cx="452.74" cy="96.70" r="2.65" fill="#fff" stroke="#3c6fc1" stroke-width="0.45" stroke-opacity="0.7"/>
<circle cx="444.82" cy="98.70" r="2.65" fill="#fff" stroke="#3c6fc1" stroke-width="0.45" stroke-opacity="0.7"/>
<polyline points="434.32,157.80 434.35,154.22 434.39,150.08 434.45,146.02 434.51,141.89 434.58,137.81 434.66,133.84 434.77,129.69 434.89,125.66 435.03,122.38 435.24,119.62 435.97,114.98 438.05,109.98 441.07,106.96 444.30,105.73 449.83,104.06 456.91,101.84 467.33,100.18 475.67,99.06 486.19,97.96 496.82,97.22 507.24,96.48 517.35,95.37 528.18,94.44" fill="none" stroke="#4dbd88" stroke-width="1.15" stroke-linejoin="round"/>
<polyline points="538.50,93.70 519.74,94.26 504.74,95.18 489.11,95.92 475.67,97.40 460.25,99.99 452.74,101.47 444.82,103.32" fill="none" stroke="#4dbd88" stroke-width="0.92" stroke-linejoin="round"/>
<circle cx="434.32" cy="157.80" r="2.35" fill="url(#sp_green)"/>
<circle cx="434.35" cy="154.22" r="2.35" fill="url(#sp_green)"/>
<circle cx="434.39" cy="150.08" r="2.35" fill="url(#sp_green)"/>
<circle cx="434.45" cy="146.02" r="2.35" fill="url(#sp_green)"/>
<circle cx="434.51" cy="141.89" r="2.35" fill="url(#sp_green)"/>
<circle cx="434.58" cy="137.81" r="2.35" fill="url(#sp_green)"/>
<circle cx="434.66" cy="133.84" r="2.35" fill="url(#sp_green)"/>
<circle cx="434.77" cy="129.69" r="2.35" fill="url(#sp_green)"/>
<circle cx="434.89" cy="125.66" r="2.35" fill="url(#sp_green)"/>
<circle cx="435.03" cy="122.38" r="2.35" fill="url(#sp_green)"/>
<circle cx="435.24" cy="119.62" r="2.35" fill="url(#sp_green)"/>
<circle cx="435.97" cy="114.98" r="2.35" fill="url(#sp_green)"/>
<circle cx="438.05" cy="109.98" r="2.35" fill="url(#sp_green)"/>
<circle cx="441.07" cy="106.96" r="2.35" fill="url(#sp_green)"/>
<circle cx="444.30" cy="105.73" r="2.35" fill="url(#sp_green)"/>
<circle cx="449.83" cy="104.06" r="2.35" fill="url(#sp_green)"/>
<circle cx="456.91" cy="101.84" r="2.35" fill="url(#sp_green)"/>
<circle cx="467.33" cy="100.18" r="2.35" fill="url(#sp_green)"/>
<circle cx="475.67" cy="99.06" r="2.35" fill="url(#sp_green)"/>
<circle cx="486.19" cy="97.96" r="2.35" fill="url(#sp_green)"/>
<circle cx="496.82" cy="97.22" r="2.35" fill="url(#sp_green)"/>
<circle cx="507.24" cy="96.48" r="2.35" fill="url(#sp_green)"/>
<circle cx="517.35" cy="95.37" r="2.35" fill="url(#sp_green)"/>
<circle cx="528.18" cy="94.44" r="2.35" fill="url(#sp_green)"/>
<circle cx="538.50" cy="93.70" r="2.65" fill="#fff" stroke="#4dbd88" stroke-width="0.45" stroke-opacity="0.7"/>
<circle cx="519.74" cy="94.26" r="2.65" fill="#fff" stroke="#4dbd88" stroke-width="0.45" stroke-opacity="0.7"/>
<circle cx="504.74" cy="95.18" r="2.65" fill="#fff" stroke="#4dbd88" stroke-width="0.45" stroke-opacity="0.7"/>
<circle cx="489.11" cy="95.92" r="2.65" fill="#fff" stroke="#4dbd88" stroke-width="0.45" stroke-opacity="0.7"/>
<circle cx="475.67" cy="97.40" r="2.65" fill="#fff" stroke="#4dbd88" stroke-width="0.45" stroke-opacity="0.7"/>
<circle cx="460.25" cy="99.99" r="2.65" fill="#fff" stroke="#4dbd88" stroke-width="0.45" stroke-opacity="0.7"/>
<circle cx="452.74" cy="101.47" r="2.65" fill="#fff" stroke="#4dbd88" stroke-width="0.45" stroke-opacity="0.7"/>
<circle cx="444.82" cy="103.32" r="2.65" fill="#fff" stroke="#4dbd88" stroke-width="0.45" stroke-opacity="0.7"/>
<polyline points="566.53,158.92 566.59,156.92 566.66,154.99 566.77,152.96 566.93,151.39 567.15,150.30 567.47,149.49 567.90,148.73 568.55,148.00 569.52,147.16 570.82,146.32 572.43,145.76 574.59,145.32 577.29,144.94 580.53,144.66 584.30,144.45 588.08,144.30 592.40,144.16 597.25,144.01 602.11,143.88 607.50,143.76 612.90,143.64 618.29,143.54 623.69,143.44 629.08,143.34 634.48,143.25 639.87,143.16 645.27,143.08 650.66,143.00 656.06,142.92 661.45,142.86 666.85,142.80 672.24,142.74 676.56,142.71" fill="none" stroke="#ec3b83" stroke-width="1.15" stroke-linejoin="round"/>
<polyline points="676.99,139.09 673.32,139.04 669.98,139.00 666.52,138.96 663.39,138.93 660.16,138.89 656.38,138.86 651.96,138.82 646.67,138.78 641.49,138.75 636.20,138.73 631.02,138.71 625.20,138.70 621.31,138.70 616.13,138.71 610.85,138.73 605.24,138.76 599.41,138.81 593.80,138.85 587.97,138.88 582.36,138.90 577.51,138.90" fill="none" stroke="#ec3b83" stroke-width="0.92" stroke-linejoin="round"/>
<circle cx="566.53" cy="158.92" r="2.35" fill="url(#sp_pink)"/>
<circle cx="566.59" cy="156.92" r="2.35" fill="url(#sp_pink)"/>
<circle cx="566.66" cy="154.99" r="2.35" fill="url(#sp_pink)"/>
<circle cx="566.77" cy="152.96" r="2.35" fill="url(#sp_pink)"/>
<circle cx="566.93" cy="151.39" r="2.35" fill="url(#sp_pink)"/>
<circle cx="567.15" cy="150.30" r="2.35" fill="url(#sp_pink)"/>
<circle cx="567.47" cy="149.49" r="2.35" fill="url(#sp_pink)"/>
<circle cx="567.90" cy="148.73" r="2.35" fill="url(#sp_pink)"/>
<circle cx="568.55" cy="148.00" r="2.35" fill="url(#sp_pink)"/>
<circle cx="569.52" cy="147.16" r="2.35" fill="url(#sp_pink)"/>
<circle cx="570.82" cy="146.32" r="2.35" fill="url(#sp_pink)"/>
<circle cx="572.43" cy="145.76" r="2.35" fill="url(#sp_pink)"/>
<circle cx="574.59" cy="145.32" r="2.35" fill="url(#sp_pink)"/>
<circle cx="577.29" cy="144.94" r="2.35" fill="url(#sp_pink)"/>
<circle cx="580.53" cy="144.66" r="2.35" fill="url(#sp_pink)"/>
<circle cx="584.30" cy="144.45" r="2.35" fill="url(#sp_pink)"/>
<circle cx="588.08" cy="144.30" r="2.35" fill="url(#sp_pink)"/>
<circle cx="592.40" cy="144.16" r="2.35" fill="url(#sp_pink)"/>
<circle cx="597.25" cy="144.01" r="2.35" fill="url(#sp_pink)"/>
<circle cx="602.11" cy="143.88" r="2.35" fill="url(#sp_pink)"/>
<circle cx="607.50" cy="143.76" r="2.35" fill="url(#sp_pink)"/>
<circle cx="612.90" cy="143.64" r="2.35" fill="url(#sp_pink)"/>
<circle cx="618.29" cy="143.54" r="2.35" fill="url(#sp_pink)"/>
<circle cx="623.69" cy="143.44" r="2.35" fill="url(#sp_pink)"/>
<circle cx="629.08" cy="143.34" r="2.35" fill="url(#sp_pink)"/>
<circle cx="634.48" cy="143.25" r="2.35" fill="url(#sp_pink)"/>
<circle cx="639.87" cy="143.16" r="2.35" fill="url(#sp_pink)"/>
<circle cx="645.27" cy="143.08" r="2.35" fill="url(#sp_pink)"/>
<circle cx="650.66" cy="143.00" r="2.35" fill="url(#sp_pink)"/>
<circle cx="656.06" cy="142.92" r="2.35" fill="url(#sp_pink)"/>
<circle cx="661.45" cy="142.86" r="2.35" fill="url(#sp_pink)"/>
<circle cx="666.85" cy="142.80" r="2.35" fill="url(#sp_pink)"/>
<circle cx="672.24" cy="142.74" r="2.35" fill="url(#sp_pink)"/>
<circle cx="676.56" cy="142.71" r="2.35" fill="url(#sp_pink)"/>
<circle cx="676.99" cy="139.09" r="2.65" fill="#fff" stroke="#ec3b83" stroke-width="0.45" stroke-opacity="0.7"/>
<circle cx="673.32" cy="139.04" r="2.65" fill="#fff" stroke="#ec3b83" stroke-width="0.45" stroke-opacity="0.7"/>
<circle cx="669.98" cy="139.00" r="2.65" fill="#fff" stroke="#ec3b83" stroke-width="0.45" stroke-opacity="0.7"/>
<circle cx="666.52" cy="138.96" r="2.65" fill="#fff" stroke="#ec3b83" stroke-width="0.45" stroke-opacity="0.7"/>
<circle cx="663.39" cy="138.93" r="2.65" fill="#fff" stroke="#ec3b83" stroke-width="0.45" stroke-opacity="0.7"/>
<circle cx="660.16" cy="138.89" r="2.65" fill="#fff" stroke="#ec3b83" stroke-width="0.45" stroke-opacity="0.7"/>
<circle cx="656.38" cy="138.86" r="2.65" fill="#fff" stroke="#ec3b83" stroke-width="0.45" stroke-opacity="0.7"/>
<circle cx="651.96" cy="138.82" r="2.65" fill="#fff" stroke="#ec3b83" stroke-width="0.45" stroke-opacity="0.7"/>
<circle cx="646.67" cy="138.78" r="2.65" fill="#fff" stroke="#ec3b83" stroke-width="0.45" stroke-opacity="0.7"/>
<circle cx="641.49" cy="138.75" r="2.65" fill="#fff" stroke="#ec3b83" stroke-width="0.45" stroke-opacity="0.7"/>
<circle cx="636.20" cy="138.73" r="2.65" fill="#fff" stroke="#ec3b83" stroke-width="0.45" stroke-opacity="0.7"/>
<circle cx="631.02" cy="138.71" r="2.65" fill="#fff" stroke="#ec3b83" stroke-width="0.45" stroke-opacity="0.7"/>
<circle cx="625.20" cy="138.70" r="2.65" fill="#fff" stroke="#ec3b83" stroke-width="0.45" stroke-opacity="0.7"/>
<circle cx="621.31" cy="138.70" r="2.65" fill="#fff" stroke="#ec3b83" stroke-width="0.45" stroke-opacity="0.7"/>
<circle cx="616.13" cy="138.71" r="2.65" fill="#fff" stroke="#ec3b83" stroke-width="0.45" stroke-opacity="0.7"/>
<circle cx="610.85" cy="138.73" r="2.65" fill="#fff" stroke="#ec3b83" stroke-width="0.45" stroke-opacity="0.7"/>
<circle cx="605.24" cy="138.76" r="2.65" fill="#fff" stroke="#ec3b83" stroke-width="0.45" stroke-opacity="0.7"/>
<circle cx="599.41" cy="138.81" r="2.65" fill="#fff" stroke="#ec3b83" stroke-width="0.45" stroke-opacity="0.7"/>
<circle cx="593.80" cy="138.85" r="2.65" fill="#fff" stroke="#ec3b83" stroke-width="0.45" stroke-opacity="0.7"/>
<circle cx="587.97" cy="138.88" r="2.65" fill="#fff" stroke="#ec3b83" stroke-width="0.45" stroke-opacity="0.7"/>
<circle cx="582.36" cy="138.90" r="2.65" fill="#fff" stroke="#ec3b83" stroke-width="0.45" stroke-opacity="0.7"/>
<circle cx="577.51" cy="138.90" r="2.65" fill="#fff" stroke="#ec3b83" stroke-width="0.45" stroke-opacity="0.7"/>
<polyline points="566.53,158.92 566.59,156.65 566.66,153.83 566.77,151.09 566.93,147.97 567.15,144.80 567.47,141.18 567.90,137.37 568.55,132.96 569.52,127.80 570.82,122.25 572.43,117.33 574.59,113.79 577.29,111.44 580.53,109.22 584.30,107.15 588.08,105.89 592.40,104.57 597.25,103.25 602.11,102.09 607.50,100.87 612.90,99.80 618.29,98.93 623.69,98.28 629.08,97.74 634.48,97.28 639.87,96.86 645.27,96.46 650.66,96.05 656.06,95.63 661.45,95.23 666.85,94.84 672.24,94.46 676.56,94.17" fill="none" stroke="#b86f9d" stroke-width="1.15" stroke-linejoin="round"/>
<polyline points="676.99,91.72 673.32,91.85 669.98,91.97 666.52,92.09 663.39,92.20 660.16,92.32 656.38,92.46 651.96,92.63 646.67,92.82 641.49,92.98 636.20,93.14 631.02,93.30 625.20,93.50 621.31,93.66 616.13,93.91 610.85,94.24 605.24,94.85 599.41,95.96 593.80,97.23 587.97,98.56 582.36,100.29 577.51,103.12" fill="none" stroke="#b86f9d" stroke-width="0.92" stroke-linejoin="round"/>
<circle cx="566.53" cy="158.92" r="2.35" fill="url(#sp_mauve)"/>
<circle cx="566.59" cy="156.65" r="2.35" fill="url(#sp_mauve)"/>
<circle cx="566.66" cy="153.83" r="2.35" fill="url(#sp_mauve)"/>
<circle cx="566.77" cy="151.09" r="2.35" fill="url(#sp_mauve)"/>
<circle cx="566.93" cy="147.97" r="2.35" fill="url(#sp_mauve)"/>
<circle cx="567.15" cy="144.80" r="2.35" fill="url(#sp_mauve)"/>
<circle cx="567.47" cy="141.18" r="2.35" fill="url(#sp_mauve)"/>
<circle cx="567.90" cy="137.37" r="2.35" fill="url(#sp_mauve)"/>
<circle cx="568.55" cy="132.96" r="2.35" fill="url(#sp_mauve)"/>
<circle cx="569.52" cy="127.80" r="2.35" fill="url(#sp_mauve)"/>
<circle cx="570.82" cy="122.25" r="2.35" fill="url(#sp_mauve)"/>
<circle cx="572.43" cy="117.33" r="2.35" fill="url(#sp_mauve)"/>
<circle cx="574.59" cy="113.79" r="2.35" fill="url(#sp_mauve)"/>
<circle cx="577.29" cy="111.44" r="2.35" fill="url(#sp_mauve)"/>
<circle cx="580.53" cy="109.22" r="2.35" fill="url(#sp_mauve)"/>
<circle cx="584.30" cy="107.15" r="2.35" fill="url(#sp_mauve)"/>
<circle cx="588.08" cy="105.89" r="2.35" fill="url(#sp_mauve)"/>
<circle cx="592.40" cy="104.57" r="2.35" fill="url(#sp_mauve)"/>
<circle cx="597.25" cy="103.25" r="2.35" fill="url(#sp_mauve)"/>
<circle cx="602.11" cy="102.09" r="2.35" fill="url(#sp_mauve)"/>
<circle cx="607.50" cy="100.87" r="2.35" fill="url(#sp_mauve)"/>
<circle cx="612.90" cy="99.80" r="2.35" fill="url(#sp_mauve)"/>
<circle cx="618.29" cy="98.93" r="2.35" fill="url(#sp_mauve)"/>
<circle cx="623.69" cy="98.28" r="2.35" fill="url(#sp_mauve)"/>
<circle cx="629.08" cy="97.74" r="2.35" fill="url(#sp_mauve)"/>
<circle cx="634.48" cy="97.28" r="2.35" fill="url(#sp_mauve)"/>
<circle cx="639.87" cy="96.86" r="2.35" fill="url(#sp_mauve)"/>
<circle cx="645.27" cy="96.46" r="2.35" fill="url(#sp_mauve)"/>
<circle cx="650.66" cy="96.05" r="2.35" fill="url(#sp_mauve)"/>
<circle cx="656.06" cy="95.63" r="2.35" fill="url(#sp_mauve)"/>
<circle cx="661.45" cy="95.23" r="2.35" fill="url(#sp_mauve)"/>
<circle cx="666.85" cy="94.84" r="2.35" fill="url(#sp_mauve)"/>
<circle cx="672.24" cy="94.46" r="2.35" fill="url(#sp_mauve)"/>
<circle cx="676.56" cy="94.17" r="2.35" fill="url(#sp_mauve)"/>
<circle cx="676.99" cy="91.72" r="2.65" fill="#fff" stroke="#b86f9d" stroke-width="0.45" stroke-opacity="0.7"/>
<circle cx="673.32" cy="91.85" r="2.65" fill="#fff" stroke="#b86f9d" stroke-width="0.45" stroke-opacity="0.7"/>
<circle cx="669.98" cy="91.97" r="2.65" fill="#fff" stroke="#b86f9d" stroke-width="0.45" stroke-opacity="0.7"/>
<circle cx="666.52" cy="92.09" r="2.65" fill="#fff" stroke="#b86f9d" stroke-width="0.45" stroke-opacity="0.7"/>
<circle cx="663.39" cy="92.20" r="2.65" fill="#fff" stroke="#b86f9d" stroke-width="0.45" stroke-opacity="0.7"/>
<circle cx="660.16" cy="92.32" r="2.65" fill="#fff" stroke="#b86f9d" stroke-width="0.45" stroke-opacity="0.7"/>
<circle cx="656.38" cy="92.46" r="2.65" fill="#fff" stroke="#b86f9d" stroke-width="0.45" stroke-opacity="0.7"/>
<circle cx="651.96" cy="92.63" r="2.65" fill="#fff" stroke="#b86f9d" stroke-width="0.45" stroke-opacity="0.7"/>
<circle cx="646.67" cy="92.82" r="2.65" fill="#fff" stroke="#b86f9d" stroke-width="0.45" stroke-opacity="0.7"/>
<circle cx="641.49" cy="92.98" r="2.65" fill="#fff" stroke="#b86f9d" stroke-width="0.45" stroke-opacity="0.7"/>
<circle cx="636.20" cy="93.14" r="2.65" fill="#fff" stroke="#b86f9d" stroke-width="0.45" stroke-opacity="0.7"/>
<circle cx="631.02" cy="93.30" r="2.65" fill="#fff" stroke="#b86f9d" stroke-width="0.45" stroke-opacity="0.7"/>
<circle cx="625.20" cy="93.50" r="2.65" fill="#fff" stroke="#b86f9d" stroke-width="0.45" stroke-opacity="0.7"/>
<circle cx="621.31" cy="93.66" r="2.65" fill="#fff" stroke="#b86f9d" stroke-width="0.45" stroke-opacity="0.7"/>
<circle cx="616.13" cy="93.91" r="2.65" fill="#fff" stroke="#b86f9d" stroke-width="0.45" stroke-opacity="0.7"/>
<circle cx="610.85" cy="94.24" r="2.65" fill="#fff" stroke="#b86f9d" stroke-width="0.45" stroke-opacity="0.7"/>
<circle cx="605.24" cy="94.85" r="2.65" fill="#fff" stroke="#b86f9d" stroke-width="0.45" stroke-opacity="0.7"/>
<circle cx="599.41" cy="95.96" r="2.65" fill="#fff" stroke="#b86f9d" stroke-width="0.45" stroke-opacity="0.7"/>
<circle cx="593.80" cy="97.23" r="2.65" fill="#fff" stroke="#b86f9d" stroke-width="0.45" stroke-opacity="0.7"/>
<circle cx="587.97" cy="98.56" r="2.65" fill="#fff" stroke="#b86f9d" stroke-width="0.45" stroke-opacity="0.7"/>
<circle cx="582.36" cy="100.29" r="2.65" fill="#fff" stroke="#b86f9d" stroke-width="0.45" stroke-opacity="0.7"/>
<circle cx="577.51" cy="103.12" r="2.65" fill="#fff" stroke="#b86f9d" stroke-width="0.45" stroke-opacity="0.7"/>
<polyline points="566.53,154.77 566.59,146.84 566.66,139.39 566.77,131.98 566.93,123.11 567.15,117.89 567.47,114.44 567.90,112.00 568.55,109.68 569.52,107.20 570.82,103.68 572.43,100.25 574.59,97.19 577.29,93.12 580.53,89.75 584.30,86.64 588.08,83.61 592.40,81.38 597.25,79.69 602.11,77.90 607.50,75.93 612.90,74.28 618.29,73.16 623.69,72.28 629.08,71.54 634.48,70.91 639.87,70.35 645.27,69.86 650.66,69.40 656.06,68.97 661.45,68.58 666.85,68.24 672.24,67.95 676.56,67.77" fill="none" stroke="#d8bb3a" stroke-width="1.15" stroke-linejoin="round"/>
<polyline points="676.99,67.10 673.32,67.12 669.98,67.16 666.52,67.23 663.39,67.30 660.16,67.38 656.38,67.50 651.96,67.64 646.67,67.82 641.49,68.04 636.20,68.33 631.02,68.68 625.20,69.17 621.31,69.56 616.13,70.29 610.85,71.56 605.24,73.41 599.41,75.78 593.80,78.40 587.97,81.48 582.36,85.71 577.51,90.09" fill="none" stroke="#d8bb3a" stroke-width="0.92" stroke-linejoin="round"/>
<circle cx="566.53" cy="154.77" r="2.35" fill="url(#sp_yellow)"/>
<circle cx="566.59" cy="146.84" r="2.35" fill="url(#sp_yellow)"/>
<circle cx="566.66" cy="139.39" r="2.35" fill="url(#sp_yellow)"/>
<circle cx="566.77" cy="131.98" r="2.35" fill="url(#sp_yellow)"/>
<circle cx="566.93" cy="123.11" r="2.35" fill="url(#sp_yellow)"/>
<circle cx="567.15" cy="117.89" r="2.35" fill="url(#sp_yellow)"/>
<circle cx="567.47" cy="114.44" r="2.35" fill="url(#sp_yellow)"/>
<circle cx="567.90" cy="112.00" r="2.35" fill="url(#sp_yellow)"/>
<circle cx="568.55" cy="109.68" r="2.35" fill="url(#sp_yellow)"/>
<circle cx="569.52" cy="107.20" r="2.35" fill="url(#sp_yellow)"/>
<circle cx="570.82" cy="103.68" r="2.35" fill="url(#sp_yellow)"/>
<circle cx="572.43" cy="100.25" r="2.35" fill="url(#sp_yellow)"/>
<circle cx="574.59" cy="97.19" r="2.35" fill="url(#sp_yellow)"/>
<circle cx="577.29" cy="93.12" r="2.35" fill="url(#sp_yellow)"/>
<circle cx="580.53" cy="89.75" r="2.35" fill="url(#sp_yellow)"/>
<circle cx="584.30" cy="86.64" r="2.35" fill="url(#sp_yellow)"/>
<circle cx="588.08" cy="83.61" r="2.35" fill="url(#sp_yellow)"/>
<circle cx="592.40" cy="81.38" r="2.35" fill="url(#sp_yellow)"/>
<circle cx="597.25" cy="79.69" r="2.35" fill="url(#sp_yellow)"/>
<circle cx="602.11" cy="77.90" r="2.35" fill="url(#sp_yellow)"/>
<circle cx="607.50" cy="75.93" r="2.35" fill="url(#sp_yellow)"/>
<circle cx="612.90" cy="74.28" r="2.35" fill="url(#sp_yellow)"/>
<circle cx="618.29" cy="73.16" r="2.35" fill="url(#sp_yellow)"/>
<circle cx="623.69" cy="72.28" r="2.35" fill="url(#sp_yellow)"/>
<circle cx="629.08" cy="71.54" r="2.35" fill="url(#sp_yellow)"/>
<circle cx="634.48" cy="70.91" r="2.35" fill="url(#sp_yellow)"/>
<circle cx="639.87" cy="70.35" r="2.35" fill="url(#sp_yellow)"/>
<circle cx="645.27" cy="69.86" r="2.35" fill="url(#sp_yellow)"/>
<circle cx="650.66" cy="69.40" r="2.35" fill="url(#sp_yellow)"/>
<circle cx="656.06" cy="68.97" r="2.35" fill="url(#sp_yellow)"/>
<circle cx="661.45" cy="68.58" r="2.35" fill="url(#sp_yellow)"/>
<circle cx="666.85" cy="68.24" r="2.35" fill="url(#sp_yellow)"/>
<circle cx="672.24" cy="67.95" r="2.35" fill="url(#sp_yellow)"/>
<circle cx="676.56" cy="67.77" r="2.35" fill="url(#sp_yellow)"/>
<circle cx="676.99" cy="67.10" r="2.65" fill="#fff" stroke="#d8bb3a" stroke-width="0.45" stroke-opacity="0.7"/>
<circle cx="673.32" cy="67.12" r="2.65" fill="#fff" stroke="#d8bb3a" stroke-width="0.45" stroke-opacity="0.7"/>
<circle cx="669.98" cy="67.16" r="2.65" fill="#fff" stroke="#d8bb3a" stroke-width="0.45" stroke-opacity="0.7"/>
<circle cx="666.52" cy="67.23" r="2.65" fill="#fff" stroke="#d8bb3a" stroke-width="0.45" stroke-opacity="0.7"/>
<circle cx="663.39" cy="67.30" r="2.65" fill="#fff" stroke="#d8bb3a" stroke-width="0.45" stroke-opacity="0.7"/>
<circle cx="660.16" cy="67.38" r="2.65" fill="#fff" stroke="#d8bb3a" stroke-width="0.45" stroke-opacity="0.7"/>
<circle cx="656.38" cy="67.50" r="2.65" fill="#fff" stroke="#d8bb3a" stroke-width="0.45" stroke-opacity="0.7"/>
<circle cx="651.96" cy="67.64" r="2.65" fill="#fff" stroke="#d8bb3a" stroke-width="0.45" stroke-opacity="0.7"/>
<circle cx="646.67" cy="67.82" r="2.65" fill="#fff" stroke="#d8bb3a" stroke-width="0.45" stroke-opacity="0.7"/>
<circle cx="641.49" cy="68.04" r="2.65" fill="#fff" stroke="#d8bb3a" stroke-width="0.45" stroke-opacity="0.7"/>
<circle cx="636.20" cy="68.33" r="2.65" fill="#fff" stroke="#d8bb3a" stroke-width="0.45" stroke-opacity="0.7"/>
<circle cx="631.02" cy="68.68" r="2.65" fill="#fff" stroke="#d8bb3a" stroke-width="0.45" stroke-opacity="0.7"/>
<circle cx="625.20" cy="69.17" r="2.65" fill="#fff" stroke="#d8bb3a" stroke-width="0.45" stroke-opacity="0.7"/>
<circle cx="621.31" cy="69.56" r="2.65" fill="#fff" stroke="#d8bb3a" stroke-width="0.45" stroke-opacity="0.7"/>
<circle cx="616.13" cy="70.29" r="2.65" fill="#fff" stroke="#d8bb3a" stroke-width="0.45" stroke-opacity="0.7"/>
<circle cx="610.85" cy="71.56" r="2.65" fill="#fff" stroke="#d8bb3a" stroke-width="0.45" stroke-opacity="0.7"/>
<circle cx="605.24" cy="73.41" r="2.65" fill="#fff" stroke="#d8bb3a" stroke-width="0.45" stroke-opacity="0.7"/>
<circle cx="599.41" cy="75.78" r="2.65" fill="#fff" stroke="#d8bb3a" stroke-width="0.45" stroke-opacity="0.7"/>
<circle cx="593.80" cy="78.40" r="2.65" fill="#fff" stroke="#d8bb3a" stroke-width="0.45" stroke-opacity="0.7"/>
<circle cx="587.97" cy="81.48" r="2.65" fill="#fff" stroke="#d8bb3a" stroke-width="0.45" stroke-opacity="0.7"/>
<circle cx="582.36" cy="85.71" r="2.65" fill="#fff" stroke="#d8bb3a" stroke-width="0.45" stroke-opacity="0.7"/>
<circle cx="577.51" cy="90.09" r="2.65" fill="#fff" stroke="#d8bb3a" stroke-width="0.45" stroke-opacity="0.7"/>
<polyline points="566.53,154.05 566.59,145.09 566.66,136.67 566.77,128.30 566.93,118.28 567.15,112.37 567.47,108.48 567.90,105.72 568.55,103.10 569.52,100.30 570.82,96.32 572.43,92.44 574.59,88.99 577.29,84.39 580.53,80.58 584.30,77.07 588.08,73.64 592.40,71.12 597.25,69.21 602.11,67.19 607.50,64.97 612.90,63.10 618.29,61.83 623.69,60.85 629.08,60.01 634.48,59.29 639.87,58.67 645.27,58.11 650.66,57.59 656.06,57.11 661.45,56.66 666.85,56.27 672.24,55.95 676.56,55.74" fill="none" stroke="#3c6fc1" stroke-width="1.15" stroke-linejoin="round"/>
<polyline points="676.99,56.30 673.32,56.34 669.98,56.41 666.52,56.51 663.39,56.61 660.16,56.74 656.38,56.90 651.96,57.10 646.67,57.39 641.49,57.79 636.20,58.30 631.02,59.10 625.20,60.31 621.31,61.10 616.13,62.03 610.85,63.10 605.24,64.65 599.41,66.70 593.80,69.22 587.97,72.50 582.36,76.70 577.51,81.10" fill="none" stroke="#3c6fc1" stroke-width="0.92" stroke-linejoin="round"/>
<circle cx="566.53" cy="154.05" r="2.35" fill="url(#sp_blue)"/>
<circle cx="566.59" cy="145.09" r="2.35" fill="url(#sp_blue)"/>
<circle cx="566.66" cy="136.67" r="2.35" fill="url(#sp_blue)"/>
<circle cx="566.77" cy="128.30" r="2.35" fill="url(#sp_blue)"/>
<circle cx="566.93" cy="118.28" r="2.35" fill="url(#sp_blue)"/>
<circle cx="567.15" cy="112.37" r="2.35" fill="url(#sp_blue)"/>
<circle cx="567.47" cy="108.48" r="2.35" fill="url(#sp_blue)"/>
<circle cx="567.90" cy="105.72" r="2.35" fill="url(#sp_blue)"/>
<circle cx="568.55" cy="103.10" r="2.35" fill="url(#sp_blue)"/>
<circle cx="569.52" cy="100.30" r="2.35" fill="url(#sp_blue)"/>
<circle cx="570.82" cy="96.32" r="2.35" fill="url(#sp_blue)"/>
<circle cx="572.43" cy="92.44" r="2.35" fill="url(#sp_blue)"/>
<circle cx="574.59" cy="88.99" r="2.35" fill="url(#sp_blue)"/>
<circle cx="577.29" cy="84.39" r="2.35" fill="url(#sp_blue)"/>
<circle cx="580.53" cy="80.58" r="2.35" fill="url(#sp_blue)"/>
<circle cx="584.30" cy="77.07" r="2.35" fill="url(#sp_blue)"/>
<circle cx="588.08" cy="73.64" r="2.35" fill="url(#sp_blue)"/>
<circle cx="592.40" cy="71.12" r="2.35" fill="url(#sp_blue)"/>
<circle cx="597.25" cy="69.21" r="2.35" fill="url(#sp_blue)"/>
<circle cx="602.11" cy="67.19" r="2.35" fill="url(#sp_blue)"/>
<circle cx="607.50" cy="64.97" r="2.35" fill="url(#sp_blue)"/>
<circle cx="612.90" cy="63.10" r="2.35" fill="url(#sp_blue)"/>
<circle cx="618.29" cy="61.83" r="2.35" fill="url(#sp_blue)"/>
<circle cx="623.69" cy="60.85" r="2.35" fill="url(#sp_blue)"/>
<circle cx="629.08" cy="60.01" r="2.35" fill="url(#sp_blue)"/>
<circle cx="634.48" cy="59.29" r="2.35" fill="url(#sp_blue)"/>
<circle cx="639.87" cy="58.67" r="2.35" fill="url(#sp_blue)"/>
<circle cx="645.27" cy="58.11" r="2.35" fill="url(#sp_blue)"/>
<circle cx="650.66" cy="57.59" r="2.35" fill="url(#sp_blue)"/>
<circle cx="656.06" cy="57.11" r="2.35" fill="url(#sp_blue)"/>
<circle cx="661.45" cy="56.66" r="2.35" fill="url(#sp_blue)"/>
<circle cx="666.85" cy="56.27" r="2.35" fill="url(#sp_blue)"/>
<circle cx="672.24" cy="55.95" r="2.35" fill="url(#sp_blue)"/>
<circle cx="676.56" cy="55.74" r="2.35" fill="url(#sp_blue)"/>
<circle cx="676.99" cy="56.30" r="2.65" fill="#fff" stroke="#3c6fc1" stroke-width="0.45" stroke-opacity="0.7"/>
<circle cx="673.32" cy="56.34" r="2.65" fill="#fff" stroke="#3c6fc1" stroke-width="0.45" stroke-opacity="0.7"/>
<circle cx="669.98" cy="56.41" r="2.65" fill="#fff" stroke="#3c6fc1" stroke-width="0.45" stroke-opacity="0.7"/>
<circle cx="666.52" cy="56.51" r="2.65" fill="#fff" stroke="#3c6fc1" stroke-width="0.45" stroke-opacity="0.7"/>
<circle cx="663.39" cy="56.61" r="2.65" fill="#fff" stroke="#3c6fc1" stroke-width="0.45" stroke-opacity="0.7"/>
<circle cx="660.16" cy="56.74" r="2.65" fill="#fff" stroke="#3c6fc1" stroke-width="0.45" stroke-opacity="0.7"/>
<circle cx="656.38" cy="56.90" r="2.65" fill="#fff" stroke="#3c6fc1" stroke-width="0.45" stroke-opacity="0.7"/>
<circle cx="651.96" cy="57.10" r="2.65" fill="#fff" stroke="#3c6fc1" stroke-width="0.45" stroke-opacity="0.7"/>
<circle cx="646.67" cy="57.39" r="2.65" fill="#fff" stroke="#3c6fc1" stroke-width="0.45" stroke-opacity="0.7"/>
<circle cx="641.49" cy="57.79" r="2.65" fill="#fff" stroke="#3c6fc1" stroke-width="0.45" stroke-opacity="0.7"/>
<circle cx="636.20" cy="58.30" r="2.65" fill="#fff" stroke="#3c6fc1" stroke-width="0.45" stroke-opacity="0.7"/>
<circle cx="631.02" cy="59.10" r="2.65" fill="#fff" stroke="#3c6fc1" stroke-width="0.45" stroke-opacity="0.7"/>
<circle cx="625.20" cy="60.31" r="2.65" fill="#fff" stroke="#3c6fc1" stroke-width="0.45" stroke-opacity="0.7"/>
<circle cx="621.31" cy="61.10" r="2.65" fill="#fff" stroke="#3c6fc1" stroke-width="0.45" stroke-opacity="0.7"/>
<circle cx="616.13" cy="62.03" r="2.65" fill="#fff" stroke="#3c6fc1" stroke-width="0.45" stroke-opacity="0.7"/>
<circle cx="610.85" cy="63.10" r="2.65" fill="#fff" stroke="#3c6fc1" stroke-width="0.45" stroke-opacity="0.7"/>
<circle cx="605.24" cy="64.65" r="2.65" fill="#fff" stroke="#3c6fc1" stroke-width="0.45" stroke-opacity="0.7"/>
<circle cx="599.41" cy="66.70" r="2.65" fill="#fff" stroke="#3c6fc1" stroke-width="0.45" stroke-opacity="0.7"/>
<circle cx="593.80" cy="69.22" r="2.65" fill="#fff" stroke="#3c6fc1" stroke-width="0.45" stroke-opacity="0.7"/>
<circle cx="587.97" cy="72.50" r="2.65" fill="#fff" stroke="#3c6fc1" stroke-width="0.45" stroke-opacity="0.7"/>
<circle cx="582.36" cy="76.70" r="2.65" fill="#fff" stroke="#3c6fc1" stroke-width="0.45" stroke-opacity="0.7"/>
<circle cx="577.51" cy="81.10" r="2.65" fill="#fff" stroke="#3c6fc1" stroke-width="0.45" stroke-opacity="0.7"/>
<polyline points="566.53,154.94 566.59,147.25 566.66,140.03 566.77,132.84 566.93,124.24 567.15,119.18 567.47,115.84 567.90,113.47 568.55,111.22 569.52,108.82 570.82,105.41 572.43,102.08 574.59,99.12 577.29,95.17 580.53,91.90 584.30,88.89 588.08,85.95 592.40,83.79 597.25,82.15 602.11,80.41 607.50,78.51 612.90,76.90 618.29,75.82 623.69,74.97 629.08,74.25 634.48,73.63 639.87,73.10 645.27,72.62 650.66,72.18 656.06,71.76 661.45,71.38 666.85,71.04 672.24,70.77 676.56,70.59" fill="none" stroke="#4dbd88" stroke-width="1.15" stroke-linejoin="round"/>
<polyline points="676.99,69.93 673.32,70.11 669.98,70.28 666.52,70.47 663.39,70.64 660.16,70.84 656.38,71.07 651.96,71.36 646.67,71.69 641.49,72.02 636.20,72.39 631.02,72.80 625.20,73.36 621.31,73.79 616.13,74.53 610.85,75.54 605.24,76.92 599.41,78.69 593.80,80.73 587.97,83.36 582.36,87.55 577.51,92.06" fill="none" stroke="#4dbd88" stroke-width="0.92" stroke-linejoin="round"/>
<circle cx="566.53" cy="154.94" r="2.35" fill="url(#sp_green)"/>
<circle cx="566.59" cy="147.25" r="2.35" fill="url(#sp_green)"/>
<circle cx="566.66" cy="140.03" r="2.35" fill="url(#sp_green)"/>
<circle cx="566.77" cy="132.84" r="2.35" fill="url(#sp_green)"/>
<circle cx="566.93" cy="124.24" r="2.35" fill="url(#sp_green)"/>
<circle cx="567.15" cy="119.18" r="2.35" fill="url(#sp_green)"/>
<circle cx="567.47" cy="115.84" r="2.35" fill="url(#sp_green)"/>
<circle cx="567.90" cy="113.47" r="2.35" fill="url(#sp_green)"/>
<circle cx="568.55" cy="111.22" r="2.35" fill="url(#sp_green)"/>
<circle cx="569.52" cy="108.82" r="2.35" fill="url(#sp_green)"/>
<circle cx="570.82" cy="105.41" r="2.35" fill="url(#sp_green)"/>
<circle cx="572.43" cy="102.08" r="2.35" fill="url(#sp_green)"/>
<circle cx="574.59" cy="99.12" r="2.35" fill="url(#sp_green)"/>
<circle cx="577.29" cy="95.17" r="2.35" fill="url(#sp_green)"/>
<circle cx="580.53" cy="91.90" r="2.35" fill="url(#sp_green)"/>
<circle cx="584.30" cy="88.89" r="2.35" fill="url(#sp_green)"/>
<circle cx="588.08" cy="85.95" r="2.35" fill="url(#sp_green)"/>
<circle cx="592.40" cy="83.79" r="2.35" fill="url(#sp_green)"/>
<circle cx="597.25" cy="82.15" r="2.35" fill="url(#sp_green)"/>
<circle cx="602.11" cy="80.41" r="2.35" fill="url(#sp_green)"/>
<circle cx="607.50" cy="78.51" r="2.35" fill="url(#sp_green)"/>
<circle cx="612.90" cy="76.90" r="2.35" fill="url(#sp_green)"/>
<circle cx="618.29" cy="75.82" r="2.35" fill="url(#sp_green)"/>
<circle cx="623.69" cy="74.97" r="2.35" fill="url(#sp_green)"/>
<circle cx="629.08" cy="74.25" r="2.35" fill="url(#sp_green)"/>
<circle cx="634.48" cy="73.63" r="2.35" fill="url(#sp_green)"/>
<circle cx="639.87" cy="73.10" r="2.35" fill="url(#sp_green)"/>
<circle cx="645.27" cy="72.62" r="2.35" fill="url(#sp_green)"/>
<circle cx="650.66" cy="72.18" r="2.35" fill="url(#sp_green)"/>
<circle cx="656.06" cy="71.76" r="2.35" fill="url(#sp_green)"/>
<circle cx="661.45" cy="71.38" r="2.35" fill="url(#sp_green)"/>
<circle cx="666.85" cy="71.04" r="2.35" fill="url(#sp_green)"/>
<circle cx="672.24" cy="70.77" r="2.35" fill="url(#sp_green)"/>
<circle cx="676.56" cy="70.59" r="2.35" fill="url(#sp_green)"/>
<circle cx="676.99" cy="69.93" r="2.65" fill="#fff" stroke="#4dbd88" stroke-width="0.45" stroke-opacity="0.7"/>
<circle cx="673.32" cy="70.11" r="2.65" fill="#fff" stroke="#4dbd88" stroke-width="0.45" stroke-opacity="0.7"/>
<circle cx="669.98" cy="70.28" r="2.65" fill="#fff" stroke="#4dbd88" stroke-width="0.45" stroke-opacity="0.7"/>
<circle cx="666.52" cy="70.47" r="2.65" fill="#fff" stroke="#4dbd88" stroke-width="0.45" stroke-opacity="0.7"/>
<circle cx="663.39" cy="70.64" r="2.65" fill="#fff" stroke="#4dbd88" stroke-width="0.45" stroke-opacity="0.7"/>
<circle cx="660.16" cy="70.84" r="2.65" fill="#fff" stroke="#4dbd88" stroke-width="0.45" stroke-opacity="0.7"/>
<circle cx="656.38" cy="71.07" r="2.65" fill="#fff" stroke="#4dbd88" stroke-width="0.45" stroke-opacity="0.7"/>
<circle cx="651.96" cy="71.36" r="2.65" fill="#fff" stroke="#4dbd88" stroke-width="0.45" stroke-opacity="0.7"/>
<circle cx="646.67" cy="71.69" r="2.65" fill="#fff" stroke="#4dbd88" stroke-width="0.45" stroke-opacity="0.7"/>
<circle cx="641.49" cy="72.02" r="2.65" fill="#fff" stroke="#4dbd88" stroke-width="0.45" stroke-opacity="0.7"/>
<circle cx="636.20" cy="72.39" r="2.65" fill="#fff" stroke="#4dbd88" stroke-width="0.45" stroke-opacity="0.7"/>
<circle cx="631.02" cy="72.80" r="2.65" fill="#fff" stroke="#4dbd88" stroke-width="0.45" stroke-opacity="0.7"/>
<circle cx="625.20" cy="73.36" r="2.65" fill="#fff" stroke="#4dbd88" stroke-width="0.45" stroke-opacity="0.7"/>
<circle cx="621.31" cy="73.79" r="2.65" fill="#fff" stroke="#4dbd88" stroke-width="0.45" stroke-opacity="0.7"/>
<circle cx="616.13" cy="74.53" r="2.65" fill="#fff" stroke="#4dbd88" stroke-width="0.45" stroke-opacity="0.7"/>
<circle cx="610.85" cy="75.54" r="2.65" fill="#fff" stroke="#4dbd88" stroke-width="0.45" stroke-opacity="0.7"/>
<circle cx="605.24" cy="76.92" r="2.65" fill="#fff" stroke="#4dbd88" stroke-width="0.45" stroke-opacity="0.7"/>
<circle cx="599.41" cy="78.69" r="2.65" fill="#fff" stroke="#4dbd88" stroke-width="0.45" stroke-opacity="0.7"/>
<circle cx="593.80" cy="80.73" r="2.65" fill="#fff" stroke="#4dbd88" stroke-width="0.45" stroke-opacity="0.7"/>
<circle cx="587.97" cy="83.36" r="2.65" fill="#fff" stroke="#4dbd88" stroke-width="0.45" stroke-opacity="0.7"/>
<circle cx="582.36" cy="87.55" r="2.65" fill="#fff" stroke="#4dbd88" stroke-width="0.45" stroke-opacity="0.7"/>
<circle cx="577.51" cy="92.06" r="2.65" fill="#fff" stroke="#4dbd88" stroke-width="0.45" stroke-opacity="0.7"/>
<rect x="35.3" y="209.0" width="293.10" height="141.60" fill="none" stroke="#3a3a3a" stroke-width="1"/>
<line x1="32.8" y1="346.40" x2="35.3" y2="346.40" stroke="#3a3a3a" stroke-width="0.8"/>
<text x="29.999999999999996" y="349.80" transform="translate(0,349.80) scale(1,1.07) translate(0,-349.80)" font-size="9.4" text-anchor="end" font-family="Liberation Sans, sans-serif" fill="#222">0.00</text>
<line x1="33.9" y1="326.75" x2="35.3" y2="326.75" stroke="#3a3a3a" stroke-width="0.7"/>
<line x1="32.8" y1="307.10" x2="35.3" y2="307.10" stroke="#3a3a3a" stroke-width="0.8"/>
<text x="29.999999999999996" y="310.50" transform="translate(0,310.50) scale(1,1.07) translate(0,-310.50)" font-size="9.4" text-anchor="end" font-family="Liberation Sans, sans-serif" fill="#222">0.05</text>
<line x1="33.9" y1="287.45" x2="35.3" y2="287.45" stroke="#3a3a3a" stroke-width="0.7"/>
<line x1="32.8" y1="267.80" x2="35.3" y2="267.80" stroke="#3a3a3a" stroke-width="0.8"/>
<text x="29.999999999999996" y="271.20" transform="translate(0,271.20) scale(1,1.07) translate(0,-271.20)" font-size="9.4" text-anchor="end" font-family="Liberation Sans, sans-serif" fill="#222">0.10</text>
<line x1="33.9" y1="248.15" x2="35.3" y2="248.15" stroke="#3a3a3a" stroke-width="0.7"/>
<line x1="32.8" y1="228.50" x2="35.3" y2="228.50" stroke="#3a3a3a" stroke-width="0.8"/>
<text x="29.999999999999996" y="231.90" transform="translate(0,231.90) scale(1,1.07) translate(0,-231.90)" font-size="9.4" text-anchor="end" font-family="Liberation Sans, sans-serif" fill="#222">0.15</text>
<line x1="64.6" y1="224.5" x2="64.6" y2="350.6" stroke="#777" stroke-width="0.9" stroke-dasharray="1,3.3"/>
<text x="57.3" y="219.1" transform="translate(0,219.1) scale(1,1.07) translate(0,-219.1)" font-size="9.2" font-family="Liberation Sans, sans-serif" fill="#111">H<tspan font-size="6.3" dy="2.5">2</tspan></text>
<line x1="64.6" y1="350.6" x2="64.6" y2="353.1" stroke="#3a3a3a" stroke-width="0.8"/>
<text x="64.6" y="363.3" transform="translate(0,363.3) scale(1,1.07) translate(0,-363.3)" font-size="9.4" text-anchor="middle" font-family="Liberation Sans, sans-serif" fill="#222">2.89</text>
<line x1="94.05" y1="350.6" x2="94.05" y2="352.0" stroke="#3a3a3a" stroke-width="0.7"/>
<line x1="123.5" y1="224.5" x2="123.5" y2="350.6" stroke="#777" stroke-width="0.9" stroke-dasharray="1,3.3"/>
<text x="111.9" y="219.1" transform="translate(0,219.1) scale(1,1.07) translate(0,-219.1)" font-size="9.2" font-family="Liberation Sans, sans-serif" fill="#111">CO<tspan font-size="6.3" dy="2.5">2</tspan></text>
<line x1="123.5" y1="350.6" x2="123.5" y2="353.1" stroke="#3a3a3a" stroke-width="0.8"/>
<text x="123.5" y="363.3" transform="translate(0,363.3) scale(1,1.07) translate(0,-363.3)" font-size="9.4" text-anchor="middle" font-family="Liberation Sans, sans-serif" fill="#222">3.30</text>
<line x1="152.8" y1="350.6" x2="152.8" y2="352.0" stroke="#3a3a3a" stroke-width="0.7"/>
<line x1="182.1" y1="224.5" x2="182.1" y2="350.6" stroke="#777" stroke-width="0.9" stroke-dasharray="1,3.3"/>
<text x="174.8" y="219.1" transform="translate(0,219.1) scale(1,1.07) translate(0,-219.1)" font-size="9.2" font-family="Liberation Sans, sans-serif" fill="#111">O<tspan font-size="6.3" dy="2.5">2</tspan></text>
<line x1="182.1" y1="350.6" x2="182.1" y2="353.1" stroke="#3a3a3a" stroke-width="0.8"/>
<text x="182.1" y="363.3" transform="translate(0,363.3) scale(1,1.07) translate(0,-363.3)" font-size="9.4" text-anchor="middle" font-family="Liberation Sans, sans-serif" fill="#222">3.47</text>
<line x1="211.55" y1="350.6" x2="211.55" y2="352.0" stroke="#3a3a3a" stroke-width="0.7"/>
<line x1="241.0" y1="224.5" x2="241.0" y2="350.6" stroke="#777" stroke-width="0.9" stroke-dasharray="1,3.3"/>
<text x="233.9" y="219.1" transform="translate(0,219.1) scale(1,1.07) translate(0,-219.1)" font-size="9.2" font-family="Liberation Sans, sans-serif" fill="#111">Ar</text>
<line x1="241.0" y1="350.6" x2="241.0" y2="353.1" stroke="#3a3a3a" stroke-width="0.8"/>
<text x="241.0" y="363.3" transform="translate(0,363.3) scale(1,1.07) translate(0,-363.3)" font-size="9.4" text-anchor="middle" font-family="Liberation Sans, sans-serif" fill="#222">3.54</text>
<line x1="270.3" y1="350.6" x2="270.3" y2="352.0" stroke="#3a3a3a" stroke-width="0.7"/>
<line x1="299.6" y1="224.5" x2="299.6" y2="350.6" stroke="#777" stroke-width="0.9" stroke-dasharray="1,3.3"/>
<text x="291.9" y="219.1" transform="translate(0,219.1) scale(1,1.07) translate(0,-219.1)" font-size="9.2" font-family="Liberation Sans, sans-serif" fill="#111">N<tspan font-size="6.3" dy="2.5">2</tspan></text>
<line x1="299.6" y1="350.6" x2="299.6" y2="353.1" stroke="#3a3a3a" stroke-width="0.8"/>
<text x="299.6" y="363.3" transform="translate(0,363.3) scale(1,1.07) translate(0,-363.3)" font-size="9.4" text-anchor="middle" font-family="Liberation Sans, sans-serif" fill="#222">3.64</text>
<text x="152.6" y="377.8" transform="translate(0,377.8) scale(1,1.07) translate(0,-377.8)" font-size="9.3" font-family="Liberation Sans, sans-serif" fill="#222">Probe size (Å)</text>
<text transform="translate(8.8,279.3) rotate(-90) scale(1,1.07)" font-size="9.5" text-anchor="middle" font-family="Liberation Sans, sans-serif" fill="#222">Pore Volume (cm<tspan font-size="6.5" dy="-3.6">3</tspan><tspan dy="3.6"> g</tspan><tspan font-size="6.5" dy="-3.6">-1</tspan><tspan dy="3.6">)</tspan></text>
<polyline points="64.6,325.18 123.5,282.34 182.1,345.61 241.0,346.40 299.6,346.40" fill="none" stroke="#ec3b83" stroke-width="1.1"/>
<polyline points="64.6,276.45 123.5,255.22 182.1,345.22 241.0,346.40 299.6,346.40" fill="none" stroke="#b86f9d" stroke-width="1.1"/>
<polyline points="64.6,250.51 123.5,247.76 182.1,345.61 241.0,346.40 299.6,346.40" fill="none" stroke="#d8bb3a" stroke-width="1.1"/>
<polyline points="64.6,234.00 123.5,246.74 182.1,272.20 241.0,346.40 299.6,346.40" fill="none" stroke="#3c6fc1" stroke-width="1.1"/>
<polyline points="64.6,245.01 123.5,255.70 182.1,250.51 241.0,346.40 299.6,346.40" fill="none" stroke="#4dbd88" stroke-width="1.1"/>
<circle cx="64.6" cy="325.18" r="2.9" fill="url(#sp_pink)"/>
<circle cx="123.5" cy="282.34" r="2.9" fill="url(#sp_pink)"/>
<circle cx="182.1" cy="345.61" r="2.9" fill="url(#sp_pink)"/>
<circle cx="241.0" cy="346.40" r="2.9" fill="url(#sp_pink)"/>
<circle cx="299.6" cy="346.40" r="2.9" fill="url(#sp_pink)"/>
<circle cx="64.6" cy="276.45" r="2.9" fill="url(#sp_mauve)"/>
<circle cx="123.5" cy="255.22" r="2.9" fill="url(#sp_mauve)"/>
<circle cx="182.1" cy="345.22" r="2.9" fill="url(#sp_mauve)"/>
<circle cx="241.0" cy="346.40" r="2.9" fill="url(#sp_mauve)"/>
<circle cx="299.6" cy="346.40" r="2.9" fill="url(#sp_mauve)"/>
<circle cx="64.6" cy="250.51" r="2.9" fill="url(#sp_yellow)"/>
<circle cx="123.5" cy="247.76" r="2.9" fill="url(#sp_yellow)"/>
<circle cx="182.1" cy="345.61" r="2.9" fill="url(#sp_yellow)"/>
<circle cx="241.0" cy="346.40" r="2.9" fill="url(#sp_yellow)"/>
<circle cx="299.6" cy="346.40" r="2.9" fill="url(#sp_yellow)"/>
<circle cx="64.6" cy="234.00" r="2.9" fill="url(#sp_blue)"/>
<circle cx="123.5" cy="246.74" r="2.9" fill="url(#sp_blue)"/>
<circle cx="182.1" cy="272.20" r="2.9" fill="url(#sp_blue)"/>
<circle cx="241.0" cy="346.40" r="2.9" fill="url(#sp_blue)"/>
<circle cx="299.6" cy="346.40" r="2.9" fill="url(#sp_blue)"/>
<circle cx="64.6" cy="245.01" r="2.9" fill="url(#sp_green)"/>
<circle cx="123.5" cy="255.70" r="2.9" fill="url(#sp_green)"/>
<circle cx="182.1" cy="250.51" r="2.9" fill="url(#sp_green)"/>
<circle cx="241.0" cy="346.40" r="2.9" fill="url(#sp_green)"/>
<circle cx="299.6" cy="346.40" r="2.9" fill="url(#sp_green)"/>
<rect x="390.0" y="210.0" width="293.50" height="141.30" fill="none" stroke="#3a3a3a" stroke-width="1"/>
<rect x="399.40" y="299.52" width="15.6" height="51.78" fill="url(#bar_pink)" stroke="#fff" stroke-width="0.5"/>
<rect x="415.20" y="325.22" width="15.6" height="26.08" fill="url(#bar_mauve)" stroke="#fff" stroke-width="0.5"/>
<rect x="431.00" y="346.70" width="15.6" height="4.60" fill="url(#bar_yellow)" stroke="#fff" stroke-width="0.5"/>
<rect x="446.80" y="336.67" width="15.6" height="14.63" fill="url(#bar_blue)" stroke="#fff" stroke-width="0.5"/>
<rect x="462.60" y="338.92" width="15.6" height="12.38" fill="url(#bar_green)" stroke="#fff" stroke-width="0.5"/>
<rect x="497.30" y="274.01" width="15.6" height="77.29" fill="url(#bar_pink)" stroke="#fff" stroke-width="0.5"/>
<rect x="513.10" y="241.93" width="15.6" height="109.37" fill="url(#bar_mauve)" stroke="#fff" stroke-width="0.5"/>
<rect x="528.90" y="231.71" width="15.6" height="119.59" fill="url(#bar_yellow)" stroke="#fff" stroke-width="0.5"/>
<rect x="544.70" y="321.19" width="15.6" height="30.11" fill="url(#bar_blue)" stroke="#fff" stroke-width="0.5"/>
<rect x="560.50" y="345.39" width="15.6" height="5.91" fill="url(#bar_green)" stroke="#fff" stroke-width="0.5"/>
<rect x="611.00" y="349.80" width="15.6" height="1.50" fill="url(#bar_mauve)" stroke="#fff" stroke-width="0.5"/>
<rect x="642.60" y="261.72" width="15.6" height="89.58" fill="url(#bar_blue)" stroke="#fff" stroke-width="0.5"/>
<rect x="658.40" y="234.80" width="15.6" height="116.50" fill="url(#bar_green)" stroke="#fff" stroke-width="0.5"/>
<line x1="390.0" y1="351.3" x2="683.5" y2="351.3" stroke="#222" stroke-width="1.2"/>
<line x1="387.5" y1="351.30" x2="390.0" y2="351.30" stroke="#3a3a3a" stroke-width="0.8"/>
<text x="384.7" y="354.70" transform="translate(0,354.70) scale(1,1.07) translate(0,-354.70)" font-size="9.4" text-anchor="end" font-family="Liberation Sans, sans-serif" fill="#222">0.00</text>
<line x1="388.6" y1="327.85" x2="390.0" y2="327.85" stroke="#3a3a3a" stroke-width="0.7"/>
<line x1="387.5" y1="304.40" x2="390.0" y2="304.40" stroke="#3a3a3a" stroke-width="0.8"/>
<text x="384.7" y="307.80" transform="translate(0,307.80) scale(1,1.07) translate(0,-307.80)" font-size="9.4" text-anchor="end" font-family="Liberation Sans, sans-serif" fill="#222">0.05</text>
<line x1="388.6" y1="280.95" x2="390.0" y2="280.95" stroke="#3a3a3a" stroke-width="0.7"/>
<line x1="387.5" y1="257.50" x2="390.0" y2="257.50" stroke="#3a3a3a" stroke-width="0.8"/>
<text x="384.7" y="260.90" transform="translate(0,260.90) scale(1,1.07) translate(0,-260.90)" font-size="9.4" text-anchor="end" font-family="Liberation Sans, sans-serif" fill="#222">0.10</text>
<line x1="388.6" y1="234.05" x2="390.0" y2="234.05" stroke="#3a3a3a" stroke-width="0.7"/>
<line x1="387.5" y1="210.60" x2="390.0" y2="210.60" stroke="#3a3a3a" stroke-width="0.8"/>
<text x="384.7" y="214.00" transform="translate(0,214.00) scale(1,1.07) translate(0,-214.00)" font-size="9.4" text-anchor="end" font-family="Liberation Sans, sans-serif" fill="#222">0.15</text>
<line x1="438.80" y1="351.3" x2="438.80" y2="353.8" stroke="#3a3a3a" stroke-width="0.8"/>
<text transform="translate(441.20,366) rotate(-13.5) scale(1,1.07)" font-size="9.2" text-anchor="middle" font-family="Liberation Sans, sans-serif" fill="#222">2.89-3.30</text>
<line x1="536.70" y1="351.3" x2="536.70" y2="353.8" stroke="#3a3a3a" stroke-width="0.8"/>
<text transform="translate(539.10,366) rotate(-13.5) scale(1,1.07)" font-size="9.2" text-anchor="middle" font-family="Liberation Sans, sans-serif" fill="#222">3.30-3.47</text>
<line x1="634.60" y1="351.3" x2="634.60" y2="353.8" stroke="#3a3a3a" stroke-width="0.8"/>
<text transform="translate(637.00,366) rotate(-13.5) scale(1,1.07)" font-size="9.2" text-anchor="middle" font-family="Liberation Sans, sans-serif" fill="#222">3.47-3.54</text>
<line x1="487.75" y1="351.3" x2="487.75" y2="352.7" stroke="#3a3a3a" stroke-width="0.7"/>
<line x1="585.65" y1="351.3" x2="585.65" y2="352.7" stroke="#3a3a3a" stroke-width="0.7"/>
<text x="509.6" y="382.5" transform="translate(0,382.5) scale(1,1.07) translate(0,-382.5)" font-size="9.4" font-family="Liberation Sans, sans-serif" fill="#222">Pore size (Å)</text>
<text transform="translate(362.6,280) rotate(-90) scale(1,1.07)" font-size="9.2" text-anchor="middle" font-family="Liberation Sans, sans-serif" fill="#222">ΔV (cm<tspan font-size="6.5" dy="-3.6">3</tspan><tspan dy="3.6"> g</tspan><tspan font-size="6.5" dy="-3.6">-1</tspan><tspan dy="3.6">)</tspan></text>
<rect x="35.8" y="386.7" width="647" height="21" fill="none" stroke="#222" stroke-width="0.9" stroke-dasharray="3,2"/>
<circle cx="46.0" cy="397.6" r="3" fill="url(#sp_pink)"/>
<text x="54.5" y="401.2" transform="translate(0,401.2) scale(1,1.07) translate(0,-401.2)" font-size="9.1" font-family="Liberation Sans, sans-serif" fill="#111">MOR-Cu-150</text>
<circle cx="182.0" cy="397.6" r="3" fill="url(#sp_mauve)"/>
<text x="190.5" y="401.2" transform="translate(0,401.2) scale(1,1.07) translate(0,-401.2)" font-size="9.1" font-family="Liberation Sans, sans-serif" fill="#111">MOR-Cu-170</text>
<circle cx="317.8" cy="397.6" r="3" fill="url(#sp_yellow)"/>
<text x="326.3" y="401.2" transform="translate(0,401.2) scale(1,1.07) translate(0,-401.2)" font-size="9.1" font-family="Liberation Sans, sans-serif" fill="#111">MOR-Cu-190</text>
<circle cx="454.8" cy="397.6" r="3" fill="url(#sp_blue)"/>
<text x="463.3" y="401.2" transform="translate(0,401.2) scale(1,1.07) translate(0,-401.2)" font-size="9.1" font-family="Liberation Sans, sans-serif" fill="#111">MOR-Cu-210</text>
<circle cx="591.0" cy="397.6" r="3" fill="url(#sp_green)"/>
<text x="599.5" y="401.2" transform="translate(0,401.2) scale(1,1.07) translate(0,-401.2)" font-size="9.1" font-family="Liberation Sans, sans-serif" fill="#111">MOR-Cu-250</text></svg>
</body></html>
